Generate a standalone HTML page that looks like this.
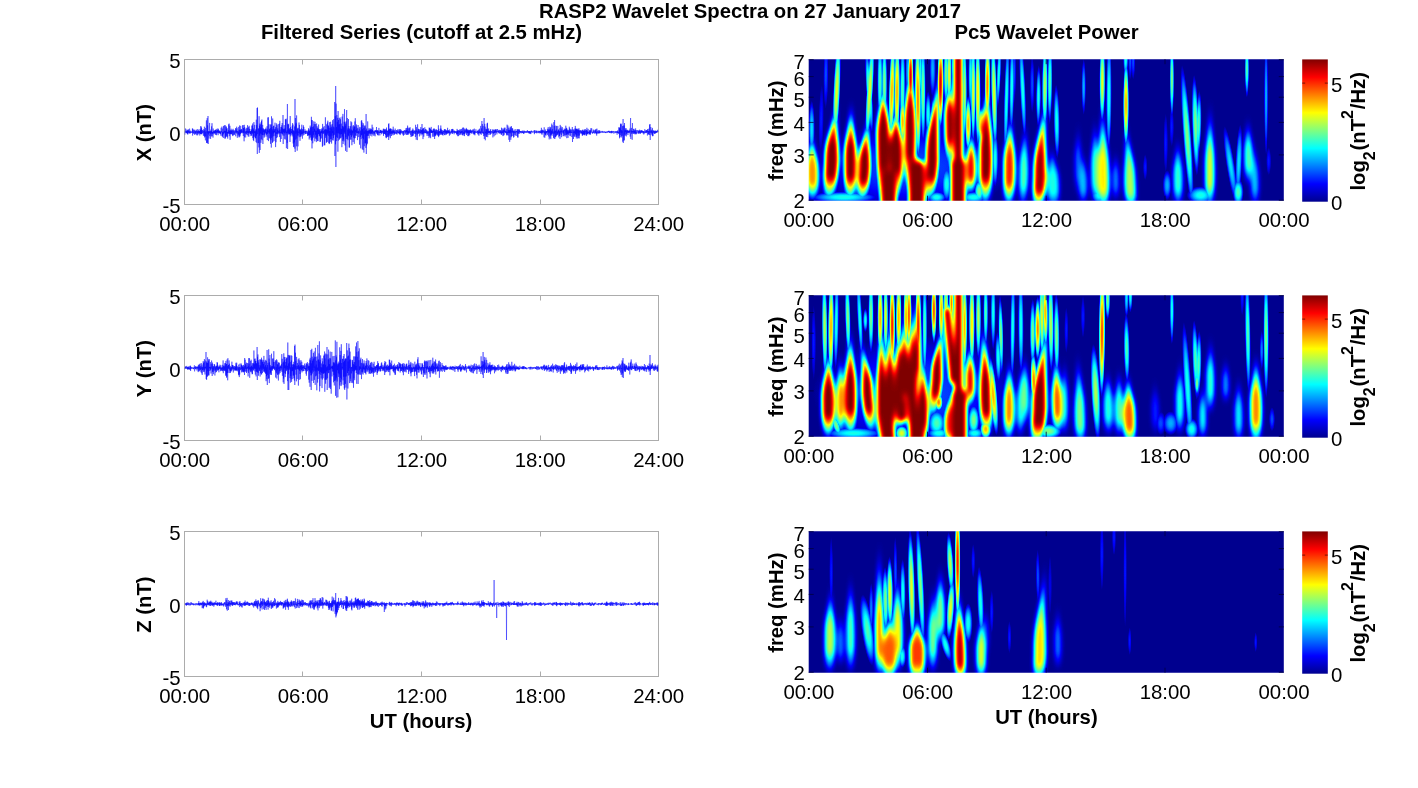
<!DOCTYPE html>
<html lang="en"><head><meta charset="utf-8"><title>RASP2 Wavelet Spectra on 27 January 2017</title>
<style>html,body{margin:0;padding:0;background:#fff}body{width:1418px;height:788px;overflow:hidden}svg{display:block}.m ellipse,.m path{mix-blend-mode:lighten}text{font-family:"Liberation Sans", Arial, Helvetica, sans-serif;fill:#000}.b{font-weight:bold}.t{font-size:20.4px}.b{font-size:20.3px}.s{font-size:16px}</style></head><body>
<svg width="1418" height="788" viewBox="0 0 1418 788">
<defs>
<filter id="bl" x="-5%" y="-20%" width="110%" height="140%" color-interpolation-filters="sRGB"><feGaussianBlur stdDeviation="2 3"/></filter>
<filter id="jet" x="0" y="0" width="100%" height="100%" color-interpolation-filters="sRGB"><feComponentTransfer><feFuncR type="table" tableValues="0 0 0 0 0.5 1 1 1 0.5"/><feFuncG type="table" tableValues="0 0 0.5 1 1 1 0.5 0 0"/><feFuncB type="table" tableValues="0.5625 1 1 1 0.5 0 0 0 0"/></feComponentTransfer></filter>
<radialGradient id="p10"><stop offset="0.000" stop-color="#1a1a1a"/><stop offset="0.083" stop-color="#191919"/><stop offset="0.167" stop-color="#191919"/><stop offset="0.250" stop-color="#181818"/><stop offset="0.333" stop-color="#171717"/><stop offset="0.417" stop-color="#151515"/><stop offset="0.500" stop-color="#131313"/><stop offset="0.583" stop-color="#111111"/><stop offset="0.667" stop-color="#0e0e0e"/><stop offset="0.750" stop-color="#0b0b0b"/><stop offset="0.833" stop-color="#080808"/><stop offset="0.917" stop-color="#040404"/><stop offset="1.000" stop-color="#000000"/></radialGradient>
<radialGradient id="p15"><stop offset="0.000" stop-color="#262626"/><stop offset="0.083" stop-color="#262626"/><stop offset="0.167" stop-color="#252525"/><stop offset="0.250" stop-color="#242424"/><stop offset="0.333" stop-color="#222222"/><stop offset="0.417" stop-color="#202020"/><stop offset="0.500" stop-color="#1d1d1d"/><stop offset="0.583" stop-color="#191919"/><stop offset="0.667" stop-color="#151515"/><stop offset="0.750" stop-color="#111111"/><stop offset="0.833" stop-color="#0c0c0c"/><stop offset="0.917" stop-color="#060606"/><stop offset="1.000" stop-color="#000000"/></radialGradient>
<radialGradient id="p20"><stop offset="0.000" stop-color="#333333"/><stop offset="0.083" stop-color="#333333"/><stop offset="0.167" stop-color="#323232"/><stop offset="0.250" stop-color="#303030"/><stop offset="0.333" stop-color="#2d2d2d"/><stop offset="0.417" stop-color="#2a2a2a"/><stop offset="0.500" stop-color="#262626"/><stop offset="0.583" stop-color="#222222"/><stop offset="0.667" stop-color="#1c1c1c"/><stop offset="0.750" stop-color="#161616"/><stop offset="0.833" stop-color="#101010"/><stop offset="0.917" stop-color="#080808"/><stop offset="1.000" stop-color="#000000"/></radialGradient>
<radialGradient id="p25"><stop offset="0.000" stop-color="#404040"/><stop offset="0.083" stop-color="#3f3f3f"/><stop offset="0.167" stop-color="#3e3e3e"/><stop offset="0.250" stop-color="#3c3c3c"/><stop offset="0.333" stop-color="#393939"/><stop offset="0.417" stop-color="#353535"/><stop offset="0.500" stop-color="#303030"/><stop offset="0.583" stop-color="#2a2a2a"/><stop offset="0.667" stop-color="#232323"/><stop offset="0.750" stop-color="#1c1c1c"/><stop offset="0.833" stop-color="#131313"/><stop offset="0.917" stop-color="#0a0a0a"/><stop offset="1.000" stop-color="#000000"/></radialGradient>
<radialGradient id="p30"><stop offset="0.000" stop-color="#4c4c4c"/><stop offset="0.083" stop-color="#4c4c4c"/><stop offset="0.167" stop-color="#4a4a4a"/><stop offset="0.250" stop-color="#484848"/><stop offset="0.333" stop-color="#444444"/><stop offset="0.417" stop-color="#3f3f3f"/><stop offset="0.500" stop-color="#393939"/><stop offset="0.583" stop-color="#323232"/><stop offset="0.667" stop-color="#2a2a2a"/><stop offset="0.750" stop-color="#212121"/><stop offset="0.833" stop-color="#171717"/><stop offset="0.917" stop-color="#0c0c0c"/><stop offset="1.000" stop-color="#000000"/></radialGradient>
<radialGradient id="p35"><stop offset="0.000" stop-color="#595959"/><stop offset="0.083" stop-color="#595959"/><stop offset="0.167" stop-color="#575757"/><stop offset="0.250" stop-color="#545454"/><stop offset="0.333" stop-color="#4f4f4f"/><stop offset="0.417" stop-color="#4a4a4a"/><stop offset="0.500" stop-color="#434343"/><stop offset="0.583" stop-color="#3b3b3b"/><stop offset="0.667" stop-color="#323232"/><stop offset="0.750" stop-color="#272727"/><stop offset="0.833" stop-color="#1b1b1b"/><stop offset="0.917" stop-color="#0e0e0e"/><stop offset="1.000" stop-color="#000000"/></radialGradient>
<radialGradient id="p40"><stop offset="0.000" stop-color="#666666"/><stop offset="0.083" stop-color="#656565"/><stop offset="0.167" stop-color="#636363"/><stop offset="0.250" stop-color="#606060"/><stop offset="0.333" stop-color="#5b5b5b"/><stop offset="0.417" stop-color="#545454"/><stop offset="0.500" stop-color="#4d4d4d"/><stop offset="0.583" stop-color="#434343"/><stop offset="0.667" stop-color="#393939"/><stop offset="0.750" stop-color="#2d2d2d"/><stop offset="0.833" stop-color="#1f1f1f"/><stop offset="0.917" stop-color="#101010"/><stop offset="1.000" stop-color="#000000"/></radialGradient>
<radialGradient id="p45"><stop offset="0.000" stop-color="#737373"/><stop offset="0.083" stop-color="#727272"/><stop offset="0.167" stop-color="#707070"/><stop offset="0.250" stop-color="#6c6c6c"/><stop offset="0.333" stop-color="#666666"/><stop offset="0.417" stop-color="#5f5f5f"/><stop offset="0.500" stop-color="#565656"/><stop offset="0.583" stop-color="#4c4c4c"/><stop offset="0.667" stop-color="#404040"/><stop offset="0.750" stop-color="#323232"/><stop offset="0.833" stop-color="#232323"/><stop offset="0.917" stop-color="#121212"/><stop offset="1.000" stop-color="#000000"/></radialGradient>
<radialGradient id="p50"><stop offset="0.000" stop-color="#808080"/><stop offset="0.083" stop-color="#7f7f7f"/><stop offset="0.167" stop-color="#7c7c7c"/><stop offset="0.250" stop-color="#787878"/><stop offset="0.333" stop-color="#717171"/><stop offset="0.417" stop-color="#696969"/><stop offset="0.500" stop-color="#606060"/><stop offset="0.583" stop-color="#545454"/><stop offset="0.667" stop-color="#474747"/><stop offset="0.750" stop-color="#383838"/><stop offset="0.833" stop-color="#272727"/><stop offset="0.917" stop-color="#141414"/><stop offset="1.000" stop-color="#000000"/></radialGradient>
<radialGradient id="p55"><stop offset="0.000" stop-color="#8c8c8c"/><stop offset="0.083" stop-color="#8b8b8b"/><stop offset="0.167" stop-color="#888888"/><stop offset="0.250" stop-color="#838383"/><stop offset="0.333" stop-color="#7d7d7d"/><stop offset="0.417" stop-color="#747474"/><stop offset="0.500" stop-color="#696969"/><stop offset="0.583" stop-color="#5d5d5d"/><stop offset="0.667" stop-color="#4e4e4e"/><stop offset="0.750" stop-color="#3d3d3d"/><stop offset="0.833" stop-color="#2b2b2b"/><stop offset="0.917" stop-color="#161616"/><stop offset="1.000" stop-color="#000000"/></radialGradient>
<radialGradient id="p60"><stop offset="0.000" stop-color="#999999"/><stop offset="0.083" stop-color="#989898"/><stop offset="0.167" stop-color="#959595"/><stop offset="0.250" stop-color="#8f8f8f"/><stop offset="0.333" stop-color="#888888"/><stop offset="0.417" stop-color="#7e7e7e"/><stop offset="0.500" stop-color="#737373"/><stop offset="0.583" stop-color="#656565"/><stop offset="0.667" stop-color="#555555"/><stop offset="0.750" stop-color="#434343"/><stop offset="0.833" stop-color="#2f2f2f"/><stop offset="0.917" stop-color="#181818"/><stop offset="1.000" stop-color="#000000"/></radialGradient>
<radialGradient id="p65"><stop offset="0.000" stop-color="#a6a6a6"/><stop offset="0.083" stop-color="#a5a5a5"/><stop offset="0.167" stop-color="#a1a1a1"/><stop offset="0.250" stop-color="#9b9b9b"/><stop offset="0.333" stop-color="#939393"/><stop offset="0.417" stop-color="#898989"/><stop offset="0.500" stop-color="#7c7c7c"/><stop offset="0.583" stop-color="#6d6d6d"/><stop offset="0.667" stop-color="#5c5c5c"/><stop offset="0.750" stop-color="#494949"/><stop offset="0.833" stop-color="#333333"/><stop offset="0.917" stop-color="#1a1a1a"/><stop offset="1.000" stop-color="#000000"/></radialGradient>
<radialGradient id="p70"><stop offset="0.000" stop-color="#b2b2b2"/><stop offset="0.083" stop-color="#b1b1b1"/><stop offset="0.167" stop-color="#aeaeae"/><stop offset="0.250" stop-color="#a7a7a7"/><stop offset="0.333" stop-color="#9f9f9f"/><stop offset="0.417" stop-color="#949494"/><stop offset="0.500" stop-color="#868686"/><stop offset="0.583" stop-color="#767676"/><stop offset="0.667" stop-color="#636363"/><stop offset="0.750" stop-color="#4e4e4e"/><stop offset="0.833" stop-color="#373737"/><stop offset="0.917" stop-color="#1d1d1d"/><stop offset="1.000" stop-color="#000000"/></radialGradient>
<radialGradient id="p75"><stop offset="0.000" stop-color="#bfbfbf"/><stop offset="0.083" stop-color="#bebebe"/><stop offset="0.167" stop-color="#bababa"/><stop offset="0.250" stop-color="#b3b3b3"/><stop offset="0.333" stop-color="#aaaaaa"/><stop offset="0.417" stop-color="#9e9e9e"/><stop offset="0.500" stop-color="#8f8f8f"/><stop offset="0.583" stop-color="#7e7e7e"/><stop offset="0.667" stop-color="#6a6a6a"/><stop offset="0.750" stop-color="#545454"/><stop offset="0.833" stop-color="#3a3a3a"/><stop offset="0.917" stop-color="#1f1f1f"/><stop offset="1.000" stop-color="#000000"/></radialGradient>
<radialGradient id="p80"><stop offset="0.000" stop-color="#cccccc"/><stop offset="0.083" stop-color="#cbcbcb"/><stop offset="0.167" stop-color="#c6c6c6"/><stop offset="0.250" stop-color="#bfbfbf"/><stop offset="0.333" stop-color="#b5b5b5"/><stop offset="0.417" stop-color="#a9a9a9"/><stop offset="0.500" stop-color="#999999"/><stop offset="0.583" stop-color="#878787"/><stop offset="0.667" stop-color="#717171"/><stop offset="0.750" stop-color="#595959"/><stop offset="0.833" stop-color="#3e3e3e"/><stop offset="0.917" stop-color="#212121"/><stop offset="1.000" stop-color="#000000"/></radialGradient>
<radialGradient id="p85"><stop offset="0.000" stop-color="#d9d9d9"/><stop offset="0.083" stop-color="#d7d7d7"/><stop offset="0.167" stop-color="#d3d3d3"/><stop offset="0.250" stop-color="#cbcbcb"/><stop offset="0.333" stop-color="#c1c1c1"/><stop offset="0.417" stop-color="#b3b3b3"/><stop offset="0.500" stop-color="#a3a3a3"/><stop offset="0.583" stop-color="#8f8f8f"/><stop offset="0.667" stop-color="#787878"/><stop offset="0.750" stop-color="#5f5f5f"/><stop offset="0.833" stop-color="#424242"/><stop offset="0.917" stop-color="#232323"/><stop offset="1.000" stop-color="#000000"/></radialGradient>
<radialGradient id="p90"><stop offset="0.000" stop-color="#e6e6e6"/><stop offset="0.083" stop-color="#e4e4e4"/><stop offset="0.167" stop-color="#dfdfdf"/><stop offset="0.250" stop-color="#d7d7d7"/><stop offset="0.333" stop-color="#cccccc"/><stop offset="0.417" stop-color="#bebebe"/><stop offset="0.500" stop-color="#acacac"/><stop offset="0.583" stop-color="#979797"/><stop offset="0.667" stop-color="#808080"/><stop offset="0.750" stop-color="#646464"/><stop offset="0.833" stop-color="#464646"/><stop offset="0.917" stop-color="#252525"/><stop offset="1.000" stop-color="#000000"/></radialGradient>
<linearGradient id="cb" x1="0" y1="1" x2="0" y2="0"><stop offset="0" stop-color="#00008f"/><stop offset="0.125" stop-color="#0000ff"/><stop offset="0.375" stop-color="#00ffff"/><stop offset="0.625" stop-color="#ffff00"/><stop offset="0.875" stop-color="#ff0000"/><stop offset="1" stop-color="#800000"/></linearGradient>
<clipPath id="c0"><rect x="808.7" y="59.2" width="475.1" height="141.5"/></clipPath>
<clipPath id="c1"><rect x="808.7" y="295.2" width="475.1" height="141.5"/></clipPath>
<clipPath id="c2"><rect x="808.7" y="531.2" width="475.1" height="141.5"/></clipPath>
</defs>
<text class="b t" x="750" y="17.8" text-anchor="middle">RASP2 Wavelet Spectra on 27 January 2017</text>
<text class="b t" x="421.5" y="39.4" text-anchor="middle">Filtered Series (cutoff at 2.5 mHz)</text>
<text class="b t" x="1046.6" y="39.4" text-anchor="middle">Pc5 Wavelet Power</text>
<g stroke="#acacac" stroke-width="1" fill="none">
<rect x="184.5" y="59.5" width="474.0" height="145.0"/>
<path d="M302.5,204.5v-5M302.5,59.5v5M421.5,204.5v-5M421.5,59.5v5M540.5,204.5v-5M540.5,59.5v5M184.5,132.0h5M658.5,132.0h-5"/>
</g>
<path d="M185.0,134.7 185.2,131.7 185.4,132.2 185.6,128.5 185.8,132.3 186.0,131.9 186.2,132.7 186.4,131.1 186.6,133.0 186.8,129.6 187.0,133.4 187.2,131.1 187.4,134.0 187.6,130.3 187.8,134.6 188.0,129.8 188.2,132.9 188.4,129.4 188.6,131.9 188.8,131.2 189.0,133.6 189.2,131.3 189.4,133.1 189.6,128.6 189.8,133.1 190.0,131.8 190.2,133.6 190.4,130.7 190.6,132.5 190.8,131.7 191.0,132.4 191.2,132.0 191.4,132.7 191.6,131.5 191.8,132.2 192.0,131.7 192.2,132.6 192.4,128.4 192.6,135.6 192.8,128.8 193.0,132.8 193.2,129.6 193.4,132.9 193.6,132.1 193.8,134.0 194.0,130.1 194.2,132.0 194.4,131.7 194.6,134.8 194.8,129.6 195.0,132.9 195.2,131.1 195.4,134.0 195.6,130.8 195.8,133.1 196.0,132.1 196.2,134.7 196.4,130.2 196.6,132.3 196.8,131.2 197.0,135.4 197.2,129.0 197.4,133.4 197.6,131.7 197.8,135.2 198.0,130.9 198.2,132.6 198.4,129.6 198.6,133.8 198.8,131.1 199.0,133.0 199.2,131.1 199.4,133.4 199.6,131.2 199.8,135.5 200.0,129.1 200.2,133.4 200.4,130.0 200.6,134.0 200.8,126.0 201.0,134.2 201.2,126.8 201.4,134.1 201.6,128.1 201.8,134.2 202.0,130.4 202.2,132.5 202.4,129.9 202.6,133.2 202.8,132.5 203.0,133.1 203.2,131.2 203.4,135.8 203.6,129.3 203.8,131.8 204.0,131.1 204.2,135.7 204.4,126.7 204.6,137.4 204.8,129.7 205.0,136.4 205.2,131.9 205.4,140.4 205.6,127.9 205.8,136.4 206.0,131.5 206.2,132.1 206.4,120.4 206.6,143.0 206.8,131.7 207.0,142.5 207.2,118.1 207.4,143.2 207.6,125.4 207.8,133.4 208.0,116.0 208.2,144.0 208.4,131.7 208.6,134.5 208.8,131.0 209.0,138.6 209.2,131.1 209.4,133.0 209.6,122.9 209.8,136.1 210.0,132.3 210.2,133.3 210.4,131.0 210.6,138.9 210.8,129.6 211.0,134.3 211.2,131.0 211.4,136.4 211.6,126.4 211.8,133.1 212.0,123.2 212.2,136.2 212.4,132.1 212.6,133.9 212.8,131.8 213.0,137.6 213.2,128.5 213.4,132.9 213.6,131.3 213.8,134.3 214.0,130.6 214.2,133.0 214.4,131.4 214.6,133.0 214.7,130.6 214.9,134.1 215.1,130.2 215.3,132.9 215.5,129.7 215.7,135.0 215.9,129.9 216.1,133.4 216.3,130.8 216.5,135.2 216.7,128.9 216.9,132.4 217.1,130.9 217.3,132.3 217.5,130.0 217.7,133.3 217.9,128.4 218.1,135.2 218.3,129.1 218.5,132.6 218.7,130.4 218.9,133.1 219.1,130.5 219.3,133.0 219.5,131.2 219.7,133.6 219.9,130.8 220.1,133.2 220.3,131.7 220.5,134.1 220.7,131.5 220.9,135.7 221.1,127.8 221.3,132.4 221.5,131.5 221.7,132.2 221.9,126.6 222.1,136.3 222.3,131.8 222.5,136.7 222.7,128.6 222.9,134.7 223.1,132.1 223.3,138.0 223.5,126.1 223.7,133.8 223.9,131.4 224.1,133.1 224.3,125.4 224.5,132.4 224.7,130.8 224.9,138.6 225.1,125.0 225.3,138.4 225.5,130.9 225.7,137.2 225.9,126.4 226.1,135.5 226.3,126.7 226.5,136.5 226.7,128.8 226.9,133.3 227.1,128.2 227.3,136.8 227.5,131.9 227.7,138.6 227.9,131.9 228.1,133.6 228.3,130.2 228.5,133.0 228.7,124.4 228.9,134.0 229.1,123.6 229.3,136.2 229.5,130.9 229.7,133.6 229.9,125.8 230.1,139.8 230.3,130.4 230.5,134.2 230.7,130.5 230.9,133.8 231.1,128.7 231.3,134.2 231.5,130.8 231.7,134.2 231.9,130.2 232.1,132.4 232.3,129.8 232.5,135.4 232.7,131.4 232.9,136.1 233.1,128.8 233.3,132.2 233.5,131.5 233.7,135.1 233.9,130.0 234.1,134.5 234.3,130.7 234.5,134.6 234.7,132.1 234.9,132.1 235.1,131.4 235.3,132.7 235.5,128.1 235.7,136.3 235.9,129.3 236.1,132.4 236.3,130.7 236.5,132.7 236.7,126.7 236.9,133.8 237.1,128.2 237.3,137.8 237.5,130.9 237.7,132.3 237.9,131.6 238.1,135.6 238.3,131.6 238.5,134.4 238.7,126.9 238.9,137.3 239.1,129.7 239.3,135.6 239.5,125.5 239.7,137.2 239.9,129.9 240.1,135.7 240.3,130.0 240.5,133.9 240.7,125.8 240.9,133.1 241.1,129.0 241.3,132.9 241.5,129.3 241.7,132.2 241.9,130.2 242.1,133.4 242.3,131.7 242.5,132.1 242.7,125.3 242.9,132.9 243.1,125.1 243.3,136.0 243.5,128.1 243.7,133.0 243.9,128.1 244.1,141.3 244.3,124.8 244.5,137.3 244.7,127.2 244.9,132.1 245.1,131.6 245.3,133.3 245.5,131.6 245.7,137.5 245.9,128.7 246.1,134.3 246.3,130.9 246.5,134.4 246.7,127.8 246.9,132.7 247.1,131.2 247.3,132.9 247.5,125.2 247.7,135.0 247.9,128.1 248.1,136.4 248.3,131.3 248.5,133.2 248.7,126.9 248.9,136.7 249.1,125.8 249.3,132.3 249.5,128.9 249.7,133.2 249.9,131.3 250.1,134.2 250.3,131.1 250.5,133.9 250.7,131.3 250.9,136.1 251.1,129.1 251.3,134.6 251.5,130.3 251.7,135.7 251.9,125.6 252.1,133.0 252.3,125.5 252.5,133.7 252.7,123.5 252.9,138.1 253.1,128.2 253.3,140.0 253.5,129.5 253.7,141.1 253.9,122.1 254.1,136.4 254.3,131.0 254.5,133.0 254.7,124.9 254.9,137.2 255.1,131.8 255.3,138.4 255.5,130.6 255.7,138.0 255.9,129.2 256.1,142.1 256.3,119.7 256.5,135.7 256.7,125.2 256.9,143.1 257.1,108.0 257.3,154.0 257.5,107.5 257.7,134.1 257.9,131.9 258.1,132.0 258.3,128.8 258.5,143.1 258.7,128.3 258.9,147.4 259.1,116.2 259.3,152.9 259.5,125.8 259.7,135.6 259.9,123.6 260.1,150.0 260.3,124.5 260.5,133.5 260.7,127.4 260.9,142.8 261.1,122.3 261.3,139.2 261.5,120.8 261.7,134.4 261.9,119.5 262.1,140.2 262.3,128.4 262.5,135.0 262.7,124.9 262.9,144.0 263.1,130.2 263.3,135.2 263.5,128.4 263.7,132.2 263.9,129.1 264.1,137.7 264.3,130.3 264.5,134.6 264.7,129.6 264.9,136.7 265.1,129.5 265.3,132.5 265.5,129.0 265.7,133.3 265.9,127.7 266.1,134.5 266.3,131.9 266.5,134.6 266.7,129.3 266.9,136.6 267.1,126.2 267.3,140.1 267.5,129.6 267.7,134.0 267.9,117.6 268.1,132.6 268.3,117.2 268.5,141.1 268.7,130.6 268.9,132.3 269.1,124.3 269.3,137.9 269.5,128.9 269.7,133.7 269.9,129.5 270.1,138.8 270.3,128.0 270.5,143.8 270.7,124.6 270.9,140.2 271.1,124.3 271.3,147.6 271.5,116.3 271.7,138.1 271.9,126.9 272.1,136.6 272.3,129.4 272.5,142.9 272.7,118.5 272.9,142.0 273.1,130.7 273.3,133.5 273.5,126.1 273.7,136.2 273.8,125.6 274.0,141.1 274.2,129.0 274.4,132.3 274.6,130.5 274.8,132.6 275.0,122.7 275.2,135.9 275.4,128.7 275.6,147.1 275.8,127.0 276.0,142.2 276.2,132.2 276.4,138.0 276.6,123.4 276.8,133.8 277.0,125.2 277.2,133.6 277.4,129.8 277.6,137.3 277.8,128.3 278.0,134.4 278.2,124.1 278.4,132.3 278.6,131.4 278.8,133.5 279.0,130.5 279.2,133.1 279.4,123.6 279.6,137.1 279.8,120.8 280.0,133.5 280.2,129.6 280.4,141.9 280.6,131.9 280.8,132.6 281.0,127.0 281.2,139.0 281.4,127.2 281.6,133.4 281.8,125.3 282.0,133.3 282.2,123.0 282.4,134.0 282.6,128.4 282.8,135.4 283.0,115.0 283.2,144.0 283.4,129.3 283.6,132.4 283.8,128.8 284.0,135.7 284.2,125.1 284.4,133.2 284.6,129.2 284.8,138.9 285.0,128.3 285.2,139.6 285.4,119.1 285.6,132.5 285.8,119.8 286.0,134.5 286.2,118.7 286.4,148.2 286.6,131.7 286.8,133.0 287.0,130.2 287.2,142.9 287.4,104.0 287.6,149.0 287.8,123.8 288.0,132.8 288.2,124.9 288.4,133.6 288.6,123.9 288.8,134.6 289.0,129.1 289.2,134.2 289.4,129.7 289.6,134.1 289.8,128.0 290.0,142.0 290.2,116.0 290.4,134.5 290.6,127.0 290.8,136.3 291.0,129.2 291.2,133.4 291.4,131.3 291.6,132.9 291.8,128.9 292.0,135.0 292.2,125.7 292.4,134.0 292.6,123.1 292.8,136.4 293.0,124.6 293.2,143.5 293.4,130.3 293.6,147.1 293.8,130.8 294.0,146.6 294.2,131.3 294.4,142.4 294.6,126.5 294.8,148.6 295.0,99.0 295.2,152.0 295.4,118.0 295.6,139.6 295.8,124.3 296.0,133.6 296.2,122.8 296.4,146.3 296.6,115.4 296.8,138.6 297.0,130.7 297.2,150.7 297.4,129.0 297.6,135.6 297.8,127.8 298.0,146.4 298.2,128.2 298.4,132.7 298.6,131.7 298.8,135.6 299.0,122.5 299.2,137.2 299.4,124.9 299.6,133.5 299.8,129.5 300.0,140.8 300.2,129.3 300.4,136.8 300.6,129.8 300.8,135.3 301.0,130.6 301.2,136.4 301.4,128.4 301.6,134.3 301.8,124.7 302.0,134.1 302.2,131.5 302.4,138.7 302.6,129.4 302.8,133.4 303.0,129.3 303.2,135.5 303.4,125.3 303.6,133.3 303.8,126.9 304.0,134.8 304.2,131.9 304.4,132.1 304.6,131.3 304.8,132.8 305.0,129.3 305.2,134.1 305.4,130.9 305.6,133.9 305.8,131.2 306.0,132.0 306.2,130.6 306.4,133.6 306.6,131.9 306.8,132.0 307.0,130.9 307.2,133.9 307.4,132.5 307.6,136.0 307.8,131.5 308.0,135.1 308.2,130.2 308.4,135.6 308.6,128.2 308.8,135.1 309.0,129.2 309.2,139.5 309.4,130.9 309.6,135.3 309.8,130.5 310.0,138.1 310.2,125.6 310.4,134.9 310.6,127.5 310.8,136.8 311.0,127.4 311.2,140.0 311.4,116.8 311.6,140.8 311.8,120.0 312.0,148.4 312.2,120.3 312.4,139.5 312.6,127.1 312.8,143.3 313.0,131.2 313.2,137.8 313.4,126.4 313.6,134.8 313.8,121.3 314.0,136.7 314.2,124.1 314.4,131.8 314.6,128.8 314.8,141.3 315.0,121.8 315.2,138.4 315.4,124.1 315.6,134.7 315.8,130.5 316.0,138.7 316.2,130.9 316.4,142.1 316.6,123.5 316.8,139.5 317.0,126.2 317.2,137.0 317.4,127.7 317.6,141.1 317.8,129.4 318.0,141.1 318.2,128.4 318.4,134.1 318.6,124.5 318.8,134.2 319.0,129.2 319.2,135.8 319.4,129.5 319.6,136.3 319.8,130.8 320.0,141.9 320.2,129.0 320.4,141.6 320.6,131.8 320.8,138.8 321.0,130.9 321.2,138.2 321.4,130.4 321.6,133.0 321.8,128.5 322.0,133.6 322.2,128.7 322.4,146.8 322.6,123.9 322.8,145.9 323.0,131.0 323.2,133.9 323.4,127.3 323.6,133.3 323.8,131.5 324.0,132.4 324.2,126.1 324.4,145.2 324.6,129.6 324.8,145.3 325.0,129.7 325.2,134.9 325.4,117.3 325.6,137.8 325.8,129.0 326.0,136.1 326.2,129.5 326.4,142.9 326.6,124.3 326.8,141.8 327.0,130.0 327.2,141.9 327.4,122.6 327.6,134.6 327.8,120.7 328.0,133.1 328.2,125.3 328.4,135.8 328.6,125.9 328.8,143.0 329.0,127.7 329.2,144.1 329.4,122.2 329.6,143.4 329.8,131.0 330.0,136.5 330.2,127.8 330.4,139.1 330.6,121.8 330.8,141.9 331.0,124.8 331.2,139.1 331.4,126.7 331.6,143.6 331.8,128.5 332.0,135.7 332.2,124.0 332.4,133.2 332.6,120.2 332.8,140.0 332.9,130.8 333.1,140.7 333.3,126.6 333.5,138.2 333.7,119.2 333.9,135.3 334.1,127.4 334.3,134.7 334.5,131.4 334.7,102.0 334.9,156.0 335.1,138.4 335.3,116.2 335.5,144.3 335.7,86.0 335.9,167.0 336.1,103.6 336.3,141.1 336.5,127.1 336.7,137.2 336.9,115.1 337.1,133.2 337.3,121.8 337.5,137.9 337.7,117.9 337.9,151.7 338.1,111.0 338.3,140.7 338.5,120.0 338.7,132.9 338.9,124.6 339.1,134.1 339.3,118.2 339.5,139.6 339.7,124.1 339.9,138.6 340.1,117.4 340.3,138.1 340.5,119.3 340.7,134.5 340.9,128.4 341.1,137.7 341.3,123.6 341.5,134.1 341.7,129.0 341.9,147.2 342.1,116.6 342.3,136.5 342.5,126.0 342.7,140.9 342.9,113.9 343.1,144.0 343.3,126.4 343.5,139.5 343.7,127.5 343.9,141.4 344.1,121.7 344.3,132.4 344.5,109.1 344.7,133.7 344.9,122.2 345.1,145.4 345.3,125.7 345.5,150.8 345.7,123.7 345.9,137.2 346.1,121.4 346.3,139.0 346.5,117.2 346.7,110.0 346.9,152.0 347.1,139.8 347.3,118.0 347.5,138.9 347.7,129.5 347.9,140.2 348.1,128.2 348.3,135.3 348.5,119.1 348.7,136.3 348.9,126.1 349.1,147.5 349.3,128.4 349.5,147.5 349.7,129.2 349.9,133.2 350.1,130.6 350.3,139.5 350.5,126.2 350.7,135.1 350.9,121.3 351.1,139.7 351.3,129.5 351.5,136.9 351.7,122.3 351.9,145.2 352.1,130.5 352.3,135.4 352.5,130.7 352.7,133.4 352.9,126.3 353.1,142.0 353.3,125.0 353.5,137.6 353.7,128.7 353.9,132.6 354.1,126.3 354.3,143.8 354.5,126.7 354.7,138.5 354.9,121.5 355.1,138.0 355.3,118.2 355.5,135.5 355.7,130.1 355.9,132.0 356.1,126.5 356.3,135.8 356.5,124.5 356.7,133.2 356.9,128.8 357.1,132.9 357.3,131.6 357.5,140.1 357.7,127.9 357.9,132.9 358.1,125.0 358.3,137.1 358.5,130.8 358.7,133.8 358.9,131.7 359.1,132.6 359.3,128.7 359.5,144.7 359.7,126.9 359.9,133.2 360.1,132.8 360.3,137.0 360.5,130.6 360.7,148.3 360.9,127.3 361.1,139.1 361.3,120.9 361.5,135.3 361.7,120.1 361.9,134.7 362.1,122.5 362.3,149.3 362.5,129.2 362.7,138.1 362.9,125.1 363.1,150.1 363.3,123.3 363.5,139.3 363.7,128.1 363.9,152.6 364.1,131.4 364.3,146.2 364.5,125.7 364.7,133.9 364.9,127.4 365.1,143.1 365.3,125.5 365.5,143.3 365.7,130.2 365.9,147.9 366.1,114.0 366.3,154.0 366.5,128.6 366.7,145.3 366.9,130.9 367.1,136.0 367.3,130.9 367.5,143.6 367.7,121.4 367.9,135.4 368.1,130.6 368.3,135.9 368.5,130.7 368.7,133.7 368.9,128.3 369.1,138.4 369.3,129.5 369.5,132.9 369.7,130.3 369.9,134.0 370.1,128.3 370.3,135.7 370.5,129.7 370.7,133.7 370.9,129.4 371.1,133.5 371.3,128.8 371.5,133.5 371.7,130.3 371.9,136.4 372.1,124.7 372.3,134.3 372.5,130.0 372.7,132.4 372.9,127.4 373.1,134.4 373.3,130.8 373.5,133.0 373.7,132.4 373.9,135.9 374.1,131.5 374.3,134.5 374.5,131.4 374.7,133.4 374.9,130.3 375.1,136.3 375.3,130.4 375.5,131.9 375.7,130.6 375.9,131.9 376.1,130.4 376.3,132.4 376.5,127.0 376.7,133.5 376.9,130.8 377.1,133.7 377.3,130.1 377.5,135.2 377.7,130.7 377.9,134.8 378.1,130.5 378.3,132.6 378.5,131.7 378.7,135.5 378.9,127.9 379.1,132.2 379.3,131.5 379.5,133.1 379.7,131.9 379.9,135.4 380.1,130.1 380.3,133.0 380.5,130.4 380.7,133.0 380.9,129.8 381.1,132.9 381.3,130.6 381.5,134.2 381.7,131.0 381.9,132.3 382.1,131.4 382.3,132.4 382.5,130.6 382.7,132.5 382.9,131.5 383.1,133.7 383.3,128.8 383.5,135.9 383.7,128.8 383.9,134.2 384.1,130.6 384.3,133.9 384.5,129.6 384.7,133.6 384.9,128.9 385.1,133.8 385.3,130.8 385.5,134.9 385.7,129.6 385.9,137.4 386.1,129.3 386.3,138.2 386.5,127.6 386.7,137.3 386.9,130.9 387.1,132.0 387.3,130.8 387.5,136.8 387.7,131.1 387.9,135.4 388.1,129.9 388.3,136.8 388.5,124.1 388.7,140.0 388.9,123.3 389.1,135.2 389.3,129.4 389.5,133.5 389.7,128.6 389.9,136.4 390.1,129.1 390.3,138.2 390.5,128.5 390.7,134.0 390.9,128.6 391.1,132.9 391.3,129.2 391.5,136.0 391.7,131.3 391.9,133.7 392.0,131.3 392.2,134.3 392.4,130.6 392.6,132.8 392.8,129.4 393.0,135.3 393.2,126.7 393.4,133.4 393.6,130.9 393.8,132.9 394.0,129.9 394.2,134.9 394.4,130.6 394.6,134.2 394.8,132.0 395.0,133.4 395.2,128.6 395.4,132.4 395.6,131.9 395.8,133.9 396.0,130.3 396.2,132.3 396.4,132.0 396.6,133.9 396.8,130.0 397.0,134.6 397.2,130.4 397.4,132.4 397.6,131.5 397.8,132.7 398.0,129.0 398.2,133.4 398.4,132.2 398.6,132.9 398.8,130.3 399.0,133.3 399.2,131.6 399.4,134.0 399.6,129.1 399.8,134.3 400.0,130.8 400.2,135.1 400.4,129.2 400.6,133.2 400.8,130.8 401.0,133.8 401.2,129.8 401.4,132.8 401.6,131.8 401.8,132.2 402.0,131.0 402.2,132.0 402.4,131.8 402.6,133.6 402.8,130.9 403.0,134.8 403.2,131.3 403.4,135.8 403.6,131.4 403.8,132.7 404.0,130.5 404.2,134.9 404.4,131.8 404.6,132.0 404.8,130.0 405.0,131.7 405.2,130.4 405.4,133.8 405.6,131.1 405.8,132.7 406.0,128.2 406.2,135.0 406.4,129.9 406.6,132.1 406.8,127.9 407.0,134.7 407.2,130.6 407.4,134.6 407.6,125.6 407.8,133.4 408.0,127.6 408.2,134.8 408.4,131.2 408.6,133.1 408.8,128.4 409.0,134.1 409.2,131.5 409.4,132.7 409.6,128.1 409.8,132.7 410.0,127.1 410.2,131.9 410.4,131.3 410.6,134.8 410.8,131.4 411.0,137.0 411.2,131.3 411.4,132.3 411.6,131.3 411.8,136.3 412.0,129.9 412.2,136.3 412.4,130.6 412.6,135.9 412.8,128.5 413.0,132.8 413.2,129.7 413.4,135.6 413.6,131.9 413.8,132.9 414.0,130.7 414.2,134.0 414.4,131.4 414.6,131.7 414.8,130.6 415.0,133.4 415.2,130.4 415.4,137.0 415.6,124.8 415.8,133.9 416.0,131.1 416.2,139.7 416.4,127.1 416.6,132.0 416.8,129.6 417.0,135.4 417.2,131.5 417.4,140.1 417.6,124.3 417.8,133.8 418.0,131.2 418.2,132.8 418.4,128.8 418.6,133.8 418.8,129.2 419.0,132.3 419.2,129.3 419.4,136.4 419.6,130.6 419.8,133.2 420.0,132.0 420.2,132.7 420.4,129.5 420.6,133.6 420.8,127.1 421.0,135.4 421.2,130.4 421.4,132.5 421.6,130.1 421.8,134.1 422.0,124.0 422.2,133.6 422.4,129.5 422.6,134.5 422.8,128.8 423.0,139.1 423.2,128.1 423.4,133.4 423.6,128.3 423.8,136.7 424.0,131.5 424.2,133.3 424.4,130.3 424.6,132.5 424.8,127.3 425.0,132.8 425.2,131.8 425.4,132.9 425.6,129.1 425.8,133.3 426.0,129.4 426.2,132.6 426.4,131.6 426.6,133.6 426.8,130.1 427.0,135.8 427.2,130.9 427.4,133.2 427.6,132.2 427.8,134.2 428.0,131.4 428.2,136.0 428.4,131.7 428.6,132.4 428.8,131.4 429.0,138.1 429.2,127.5 429.4,135.5 429.6,128.0 429.8,136.8 430.0,128.4 430.2,132.6 430.4,128.9 430.6,138.2 430.8,129.9 431.0,132.8 431.2,126.9 431.4,132.8 431.6,130.2 431.8,132.9 432.0,130.8 432.2,133.0 432.4,130.8 432.6,136.7 432.8,130.7 433.0,132.4 433.2,129.1 433.4,132.3 433.6,128.6 433.8,136.9 434.0,130.8 434.2,135.8 434.4,128.6 434.6,139.0 434.8,129.5 435.0,134.8 435.2,130.9 435.4,136.2 435.6,129.7 435.8,135.5 436.0,132.1 436.2,134.7 436.4,129.3 436.6,133.6 436.8,130.0 437.0,132.3 437.2,131.9 437.4,134.6 437.6,130.2 437.8,135.3 438.0,131.7 438.2,136.0 438.4,125.3 438.6,137.1 438.8,128.8 439.0,135.9 439.2,131.0 439.4,132.9 439.6,131.5 439.8,135.0 440.0,130.9 440.2,134.1 440.4,128.7 440.6,133.0 440.8,125.5 441.0,134.9 441.2,128.7 441.4,134.1 441.6,130.0 441.8,133.0 442.0,131.8 442.2,134.8 442.4,130.3 442.6,134.8 442.8,131.9 443.0,135.6 443.2,130.8 443.4,133.9 443.6,130.9 443.8,131.9 444.0,130.6 444.2,132.3 444.4,129.2 444.6,135.0 444.8,129.3 445.0,135.2 445.2,131.3 445.4,132.7 445.6,129.4 445.8,133.8 446.0,130.1 446.2,134.9 446.4,130.6 446.6,133.5 446.8,130.9 447.0,133.8 447.2,130.8 447.4,132.6 447.6,127.8 447.8,133.6 448.0,130.6 448.2,133.2 448.4,130.0 448.6,133.1 448.8,131.3 449.0,132.5 449.2,131.1 449.4,135.7 449.6,129.5 449.8,133.2 450.0,132.1 450.2,134.6 450.4,131.9 450.6,131.9 450.8,131.5 451.0,133.6 451.1,130.7 451.3,132.8 451.5,129.2 451.7,131.9 451.9,131.0 452.1,133.3 452.3,129.1 452.5,133.9 452.7,128.9 452.9,131.7 453.1,129.5 453.3,132.9 453.5,131.3 453.7,131.8 453.9,131.4 454.1,134.3 454.3,130.7 454.5,132.8 454.7,130.8 454.9,132.4 455.1,131.6 455.3,133.1 455.5,131.6 455.7,132.4 455.9,131.3 456.1,132.6 456.3,131.3 456.5,134.0 456.7,131.6 456.9,135.1 457.1,128.9 457.3,133.9 457.5,130.8 457.7,136.2 457.9,130.4 458.1,134.2 458.3,130.1 458.5,136.1 458.7,131.6 458.9,132.5 459.1,130.4 459.3,132.1 459.5,131.2 459.7,135.2 459.9,129.4 460.1,134.7 460.3,129.4 460.5,133.1 460.7,131.9 460.9,134.3 461.1,131.0 461.3,133.3 461.5,128.9 461.7,132.7 461.9,130.6 462.1,135.1 462.3,131.4 462.5,135.3 462.7,128.1 462.9,132.3 463.1,127.3 463.3,133.8 463.5,132.2 463.7,135.5 463.9,127.9 464.1,133.9 464.3,130.4 464.5,136.1 464.7,129.1 464.9,134.1 465.1,131.8 465.3,132.5 465.5,130.3 465.7,132.4 465.9,129.1 466.1,132.3 466.3,127.9 466.5,134.9 466.7,129.2 466.9,133.1 467.1,129.3 467.3,133.3 467.5,130.4 467.7,136.1 467.9,129.8 468.1,133.0 468.3,131.0 468.5,135.6 468.7,129.8 468.9,136.2 469.1,130.1 469.3,133.4 469.5,130.3 469.7,134.9 469.9,131.1 470.1,132.7 470.3,129.4 470.5,133.1 470.7,129.9 470.9,132.4 471.1,130.6 471.3,132.9 471.5,130.6 471.7,133.7 471.9,131.4 472.1,132.2 472.3,130.6 472.5,131.8 472.7,129.5 472.9,133.4 473.1,132.2 473.3,132.7 473.5,129.5 473.7,134.2 473.9,131.3 474.1,134.6 474.3,128.6 474.5,134.0 474.7,131.1 474.9,135.3 475.1,131.1 475.3,133.1 475.5,132.0 475.7,132.2 475.9,129.3 476.1,132.0 476.3,131.8 476.5,133.0 476.7,131.9 476.9,132.2 477.1,131.4 477.3,132.4 477.5,130.7 477.7,133.7 477.9,131.0 478.1,134.6 478.3,129.8 478.5,133.2 478.7,131.8 478.9,135.7 479.1,129.6 479.3,132.8 479.5,128.7 479.7,133.0 479.9,131.5 480.1,134.2 480.3,131.4 480.5,133.3 480.7,125.9 480.9,133.3 481.1,132.1 481.3,134.8 481.5,128.4 481.7,132.1 481.9,121.0 482.1,133.1 482.3,124.0 482.5,132.8 482.7,132.4 482.9,133.5 483.1,125.9 483.3,133.7 483.5,131.7 483.7,136.1 483.9,125.8 484.1,118.0 484.3,139.0 484.5,134.8 484.7,123.8 484.9,135.4 485.1,126.7 485.3,140.3 485.5,131.7 485.7,133.0 485.9,128.7 486.1,136.4 486.3,129.4 486.5,137.0 486.7,129.4 486.9,134.4 487.1,123.5 487.3,134.3 487.5,122.8 487.7,137.2 487.9,129.2 488.1,132.6 488.3,131.0 488.5,133.0 488.7,128.4 488.9,134.9 489.1,131.4 489.3,133.1 489.5,131.1 489.7,132.8 489.9,130.9 490.1,134.7 490.3,130.3 490.5,134.4 490.7,129.0 490.9,132.4 491.1,131.6 491.3,133.7 491.5,131.6 491.7,132.0 491.9,131.0 492.1,132.7 492.3,132.1 492.5,132.6 492.7,129.4 492.9,137.4 493.1,129.9 493.3,133.8 493.5,131.9 493.7,133.1 493.9,129.6 494.1,136.3 494.3,130.7 494.5,132.8 494.7,130.5 494.9,132.9 495.1,129.4 495.3,135.2 495.5,129.5 495.7,132.2 495.9,130.3 496.1,132.8 496.3,129.2 496.5,132.4 496.7,131.4 496.9,134.4 497.1,131.1 497.3,131.8 497.5,129.0 497.7,132.0 497.9,131.8 498.1,132.6 498.3,130.9 498.5,132.3 498.7,130.4 498.9,133.3 499.1,129.8 499.3,132.2 499.5,131.8 499.7,133.6 499.9,130.1 500.1,133.2 500.3,131.2 500.5,133.0 500.7,130.1 500.9,133.7 501.1,130.9 501.3,135.0 501.5,127.7 501.7,134.3 501.9,131.8 502.1,133.0 502.3,128.5 502.5,132.9 502.7,130.6 502.9,136.1 503.1,130.3 503.3,132.9 503.5,129.7 503.7,135.5 503.9,128.5 504.1,134.8 504.3,127.7 504.5,132.0 504.7,129.7 504.9,132.6 505.1,127.7 505.3,132.4 505.5,130.9 505.7,132.9 505.9,131.4 506.1,133.3 506.3,131.6 506.5,135.3 506.7,129.2 506.9,134.4 507.1,124.7 507.3,132.9 507.5,131.8 507.7,135.1 507.9,125.6 508.1,135.6 508.3,129.8 508.5,132.9 508.7,127.7 508.9,139.8 509.1,130.3 509.3,132.9 509.5,130.2 509.7,141.9 509.9,128.5 510.1,133.5 510.2,126.7 510.4,132.6 510.6,130.1 510.8,139.8 511.0,127.4 511.2,137.2 511.4,126.1 511.6,136.1 511.8,131.2 512.0,132.2 512.2,128.8 512.4,132.5 512.6,128.1 512.8,136.1 513.0,130.9 513.2,132.9 513.4,130.7 513.6,137.6 513.8,131.3 514.0,136.8 514.2,129.5 514.4,132.6 514.6,131.6 514.8,134.8 515.0,131.0 515.2,132.9 515.4,131.7 515.6,135.6 515.8,129.2 516.0,132.0 516.2,131.7 516.4,132.2 516.6,130.9 516.8,136.0 517.0,131.2 517.2,132.5 517.4,129.1 517.6,137.3 517.8,129.7 518.0,137.6 518.2,132.2 518.4,133.7 518.6,129.2 518.8,132.8 519.0,129.9 519.2,134.0 519.4,129.4 519.6,132.1 519.8,131.0 520.0,132.6 520.2,131.3 520.4,132.0 520.6,131.3 520.8,133.1 521.0,131.1 521.2,133.3 521.4,130.9 521.6,132.2 521.8,131.9 522.0,132.5 522.2,132.2 522.4,132.9 522.6,130.8 522.8,133.0 523.0,130.6 523.2,133.3 523.4,131.5 523.6,133.9 523.8,132.0 524.0,131.9 524.2,130.6 524.4,133.3 524.6,131.3 524.8,132.4 525.0,131.1 525.2,131.6 525.4,131.9 525.6,132.5 525.8,131.3 526.0,132.9 526.2,131.2 526.4,132.5 526.6,131.7 526.8,132.3 527.0,131.3 527.2,131.7 527.4,130.1 527.6,132.5 527.8,131.2 528.0,132.7 528.2,131.7 528.4,132.4 528.6,131.1 528.8,133.1 529.0,131.3 529.2,133.7 529.4,131.0 529.6,133.0 529.8,131.5 530.0,133.7 530.2,131.5 530.4,133.3 530.6,131.5 530.8,134.1 531.0,130.9 531.2,131.7 531.4,130.6 531.6,132.2 531.8,131.4 532.0,132.5 532.2,131.5 532.4,132.3 532.6,131.8 532.8,132.3 533.0,131.6 533.2,131.8 533.4,132.3 533.6,132.2 533.8,130.6 534.0,131.8 534.2,131.8 534.4,134.2 534.6,130.4 534.8,133.1 535.0,130.1 535.2,132.3 535.4,132.0 535.6,132.7 535.8,131.2 536.0,131.5 536.2,131.2 536.4,132.8 536.6,130.6 536.8,133.4 537.0,130.9 537.2,132.2 537.4,132.0 537.6,132.6 537.8,132.0 538.0,132.0 538.2,130.8 538.4,132.8 538.6,131.5 538.8,132.4 539.0,131.4 539.2,133.4 539.4,130.9 539.6,132.6 539.8,131.6 540.0,132.1 540.2,130.9 540.4,132.9 540.6,131.6 540.8,133.0 541.0,130.0 541.2,133.8 541.4,127.8 541.6,132.8 541.8,131.1 542.0,134.8 542.2,130.3 542.4,133.3 542.6,129.7 542.8,132.4 543.0,130.6 543.2,131.6 543.4,131.3 543.6,132.6 543.8,130.3 544.0,137.3 544.2,127.3 544.4,133.2 544.6,131.5 544.8,137.7 545.0,131.4 545.2,134.2 545.4,129.5 545.6,135.1 545.8,131.4 546.0,135.6 546.2,131.2 546.4,132.9 546.6,131.3 546.8,133.5 547.0,131.0 547.2,132.1 547.4,128.8 547.6,134.9 547.8,130.5 548.0,132.1 548.2,127.1 548.4,136.4 548.6,129.8 548.8,133.4 549.0,128.9 549.2,139.4 549.4,130.4 549.6,132.7 549.8,126.7 550.0,137.8 550.2,128.6 550.4,135.5 550.6,127.2 550.8,139.1 551.0,129.7 551.2,134.4 551.4,130.9 551.6,134.6 551.8,123.6 552.0,135.8 552.2,125.2 552.4,133.2 552.6,129.2 552.8,134.1 553.0,131.5 553.2,132.2 553.4,131.8 553.6,137.8 553.8,122.1 554.0,138.4 554.2,126.1 554.4,133.6 554.6,120.0 554.8,139.0 555.0,131.1 555.2,136.8 555.4,130.6 555.6,137.2 555.8,125.6 556.0,132.5 556.2,129.5 556.4,136.2 556.6,126.0 556.8,135.0 557.0,131.7 557.2,135.2 557.4,131.4 557.6,133.7 557.8,125.9 558.0,134.5 558.2,129.7 558.4,132.6 558.6,129.6 558.8,137.4 559.0,130.7 559.2,136.0 559.4,131.4 559.6,136.0 559.8,128.3 560.0,138.9 560.2,124.9 560.4,133.6 560.6,131.3 560.8,132.0 561.0,126.3 561.2,135.0 561.4,130.6 561.6,137.2 561.8,128.5 562.0,131.9 562.2,127.0 562.4,132.2 562.6,131.8 562.8,133.4 563.0,130.7 563.2,136.2 563.4,130.3 563.6,133.5 563.8,130.2 564.0,136.1 564.2,128.6 564.4,131.5 564.6,129.6 564.8,135.1 565.0,132.1 565.2,136.5 565.4,129.2 565.6,132.5 565.8,125.7 566.0,135.0 566.2,128.6 566.4,134.5 566.6,127.8 566.8,138.2 567.0,128.8 567.2,134.6 567.4,130.0 567.6,133.8 567.8,130.8 568.0,137.9 568.2,131.5 568.4,134.8 568.6,129.9 568.8,133.4 569.0,131.4 569.2,132.5 569.3,126.7 569.5,133.1 569.7,128.4 569.9,135.6 570.1,130.6 570.3,136.2 570.5,129.3 570.7,132.9 570.9,130.3 571.1,132.9 571.3,132.0 571.5,132.8 571.7,129.5 571.9,137.0 572.1,131.1 572.3,127.0 572.5,142.0 572.7,135.6 572.9,129.5 573.1,133.0 573.3,131.7 573.5,139.0 573.7,129.5 573.9,135.6 574.1,130.3 574.3,136.6 574.5,131.4 574.7,133.1 574.9,128.5 575.1,136.8 575.3,125.9 575.5,133.9 575.7,129.3 575.9,135.2 576.1,128.5 576.3,138.5 576.5,129.0 576.7,137.0 576.9,129.4 577.1,135.6 577.3,128.7 577.5,138.5 577.7,130.0 577.9,133.2 578.1,129.1 578.3,135.7 578.5,130.2 578.7,138.2 578.9,128.2 579.1,138.4 579.3,129.9 579.5,135.5 579.7,130.8 579.9,132.5 580.1,130.9 580.3,131.8 580.5,130.1 580.7,133.5 580.9,131.8 581.1,133.3 581.3,130.8 581.5,133.0 581.7,130.4 581.9,134.1 582.1,132.0 582.3,135.7 582.5,130.2 582.7,135.4 582.9,129.5 583.1,134.6 583.3,131.0 583.5,134.1 583.7,130.4 583.9,134.8 584.1,131.2 584.3,134.6 584.5,130.4 584.7,135.3 584.9,129.1 585.1,134.6 585.3,129.4 585.5,132.2 585.7,131.4 585.9,134.1 586.1,130.7 586.3,135.8 586.5,130.0 586.7,135.4 586.9,127.8 587.1,133.7 587.3,131.7 587.5,134.2 587.7,130.6 587.9,133.9 588.1,128.9 588.3,132.8 588.5,132.2 588.7,133.2 588.9,132.0 589.1,134.6 589.3,131.1 589.5,134.1 589.7,130.2 589.9,133.9 590.1,129.9 590.3,134.9 590.5,130.7 590.7,133.5 590.9,128.2 591.1,132.7 591.3,131.4 591.5,131.4 591.7,128.3 591.9,131.8 592.1,131.7 592.3,133.0 592.5,131.8 592.7,133.9 592.9,132.2 593.1,132.4 593.3,129.6 593.5,133.0 593.7,130.6 593.9,132.1 594.1,131.8 594.3,132.7 594.5,131.6 594.7,133.7 594.9,130.1 595.1,132.2 595.3,129.5 595.5,133.2 595.7,130.5 595.9,133.0 596.1,129.2 596.3,134.1 596.5,132.0 596.7,135.6 596.9,128.6 597.1,132.9 597.3,131.1 597.5,132.5 597.7,132.2 597.9,134.0 598.1,130.4 598.3,132.7 598.5,131.9 598.7,133.1 598.9,130.3 599.1,133.4 599.3,131.5 599.5,133.2 599.7,130.3 599.9,132.7 600.1,131.0 600.3,133.1 600.5,132.4 600.7,132.2 600.9,131.9 601.1,132.1 601.3,131.8 601.5,132.4 601.7,131.5 601.9,132.5 602.1,130.9 602.3,131.9 602.5,131.7 602.7,132.7 602.9,131.3 603.1,132.4 603.3,131.9 603.5,132.2 603.7,131.8 603.9,132.7 604.1,131.6 604.3,132.0 604.5,131.6 604.7,132.4 604.9,131.9 605.1,132.8 605.3,131.6 605.5,132.7 605.7,132.2 605.9,133.1 606.1,131.9 606.3,132.8 606.5,131.7 606.7,131.8 606.9,131.4 607.1,132.1 607.3,132.2 607.5,132.8 607.7,131.3 607.9,132.1 608.1,131.4 608.3,132.1 608.5,131.2 608.7,132.4 608.9,130.7 609.1,132.0 609.3,131.0 609.5,133.0 609.7,132.3 609.9,132.9 610.1,131.5 610.3,132.8 610.5,131.3 610.7,132.0 610.9,132.1 611.1,133.3 611.3,131.0 611.5,132.6 611.7,130.8 611.9,133.2 612.1,131.0 612.3,132.3 612.5,131.7 612.7,132.7 612.9,131.7 613.1,131.5 613.3,132.0 613.5,132.1 613.7,131.1 613.9,133.7 614.1,131.6 614.3,132.6 614.5,132.3 614.7,132.2 614.9,131.5 615.1,132.0 615.3,131.6 615.5,133.1 615.7,131.6 615.9,132.1 616.1,131.3 616.3,132.8 616.5,131.6 616.7,132.4 616.9,131.6 617.1,134.7 617.3,131.2 617.5,133.0 617.7,130.4 617.9,132.8 618.1,131.7 618.3,132.7 618.5,132.1 618.7,133.8 618.9,127.2 619.1,133.6 619.3,127.8 619.5,138.3 619.7,127.7 619.9,137.0 620.1,128.7 620.3,135.1 620.5,124.1 620.7,132.6 620.9,123.4 621.1,137.6 621.3,124.3 621.5,136.4 621.7,130.0 621.9,133.3 622.1,130.8 622.3,135.7 622.5,126.1 622.7,141.7 622.9,125.4 623.1,119.0 623.3,143.0 623.5,133.1 623.7,125.6 623.9,140.6 624.1,125.6 624.3,140.2 624.5,123.0 624.7,134.6 624.9,130.4 625.1,135.9 625.3,130.0 625.5,132.1 625.7,128.3 625.9,134.8 626.1,128.4 626.3,136.4 626.5,130.1 626.7,134.0 626.9,131.2 627.1,132.9 627.3,130.3 627.5,132.5 627.7,129.8 627.9,135.1 628.1,131.0 628.3,132.5 628.4,130.7 628.6,132.8 628.8,131.2 629.0,132.3 629.2,130.4 629.4,133.2 629.6,130.7 629.8,131.9 630.0,128.5 630.2,136.6 630.4,123.5 630.6,118.0 630.8,139.0 631.0,132.5 631.2,130.4 631.4,132.6 631.6,127.9 631.8,134.0 632.0,131.1 632.2,139.8 632.4,123.0 632.6,132.2 632.8,131.0 633.0,133.2 633.2,131.2 633.4,133.8 633.6,128.9 633.8,132.3 634.0,128.8 634.2,133.9 634.4,130.4 634.6,133.0 634.8,130.9 635.0,134.4 635.2,130.0 635.4,133.6 635.6,128.4 635.8,133.5 636.0,131.6 636.2,134.3 636.4,132.3 636.6,133.5 636.8,130.1 637.0,132.2 637.2,130.1 637.4,132.5 637.6,132.3 637.8,132.4 638.0,132.3 638.2,133.8 638.4,130.5 638.6,132.9 638.8,130.8 639.0,133.7 639.2,130.7 639.4,132.7 639.6,129.7 639.8,132.7 640.0,131.4 640.2,134.0 640.4,131.3 640.6,133.2 640.8,130.3 641.0,132.4 641.2,130.1 641.4,132.9 641.6,130.5 641.8,132.0 642.0,131.2 642.2,132.6 642.4,130.5 642.6,132.3 642.8,131.1 643.0,133.4 643.2,131.6 643.4,132.9 643.6,131.2 643.8,134.5 644.0,131.1 644.2,133.5 644.4,132.2 644.6,132.6 644.8,129.2 645.0,132.3 645.2,132.1 645.4,133.1 645.6,131.2 645.8,132.5 646.0,130.0 646.2,132.8 646.4,130.1 646.6,132.7 646.8,131.2 647.0,132.3 647.2,130.1 647.4,135.5 647.6,129.0 647.8,131.9 648.0,131.0 648.2,134.1 648.4,131.2 648.6,134.4 648.8,128.7 649.0,134.7 649.2,131.2 649.4,132.7 649.6,124.7 649.8,135.1 650.0,124.0 650.2,140.0 650.4,131.5 650.6,132.6 650.8,127.0 651.0,132.2 651.2,130.2 651.4,133.1 651.6,131.2 651.8,134.5 652.0,129.6 652.2,135.4 652.4,127.9 652.6,136.2 652.8,131.8 653.0,136.1 653.2,130.7 653.4,132.5 653.6,130.4 653.8,132.2 654.0,131.5 654.2,133.4 654.4,130.8 654.6,134.0 654.8,131.8 655.0,132.6 655.2,130.6 655.4,133.5 655.6,131.5 655.8,132.9 656.0,130.7 656.2,132.7 656.4,131.3 656.6,132.5 656.8,131.0 657.0,132.2 657.2,131.7 657.4,131.4 657.6,129.8 657.8,132.1 658.0,131.3" fill="none" stroke="#0000ff" stroke-width="0.45" stroke-linejoin="round"/>
<text class="t" x="180.6" y="68.4" text-anchor="end">5</text>
<text class="t" x="180.6" y="140.9" text-anchor="end">0</text>
<text class="t" x="180.6" y="213.4" text-anchor="end">-5</text>
<text class="t" x="184.7" y="230.9" text-anchor="middle">00:00</text>
<text class="t" x="303.2" y="230.9" text-anchor="middle">06:00</text>
<text class="t" x="421.7" y="230.9" text-anchor="middle">12:00</text>
<text class="t" x="540.2" y="230.9" text-anchor="middle">18:00</text>
<text class="t" x="658.7" y="230.9" text-anchor="middle">24:00</text>
<text class="b t" transform="translate(151.2,132.6) rotate(-90)" text-anchor="middle">X (nT)</text>
<g clip-path="url(#c0)"><g filter="url(#jet)" class="m">
<rect x="788.7" y="39.2" width="515.1" height="181.5" fill="#000"/>
<g transform="translate(808.7,59.2)">
<defs><linearGradient id="f0_1" gradientUnits="userSpaceOnUse" x1="0" y1="142.0" x2="0" y2="70.0"><stop offset="0" stop-color="#131313"/><stop offset="0.240" stop-color="#bababa"/><stop offset="0.550" stop-color="#bababa"/><stop offset="1" stop-color="#666666"/></linearGradient><linearGradient id="f0_5" gradientUnits="userSpaceOnUse" x1="0" y1="142.0" x2="0" y2="40.0"><stop offset="0" stop-color="#1a1a1a"/><stop offset="0.240" stop-color="#ffffff"/><stop offset="0.550" stop-color="#ffffff"/><stop offset="1" stop-color="#999999"/></linearGradient><linearGradient id="f0_7" gradientUnits="userSpaceOnUse" x1="0" y1="143.0" x2="0" y2="40.0"><stop offset="0" stop-color="#1a1a1a"/><stop offset="0.240" stop-color="#ffffff"/><stop offset="0.550" stop-color="#ffffff"/><stop offset="1" stop-color="#666666"/></linearGradient><linearGradient id="f0_8" gradientUnits="userSpaceOnUse" x1="0" y1="143.0" x2="0" y2="55.0"><stop offset="0" stop-color="#1a1a1a"/><stop offset="0.240" stop-color="#ffffff"/><stop offset="0.550" stop-color="#ffffff"/><stop offset="1" stop-color="#999999"/></linearGradient><linearGradient id="f0_11" gradientUnits="userSpaceOnUse" x1="0" y1="152.0" x2="0" y2="20.0"><stop offset="0" stop-color="#1a1a1a"/><stop offset="0.330" stop-color="#ffffff"/><stop offset="0.662" stop-color="#ffffff"/><stop offset="1" stop-color="#e6e6e6"/></linearGradient><linearGradient id="f0_12" gradientUnits="userSpaceOnUse" x1="0" y1="140.0" x2="0" y2="45.0"><stop offset="0" stop-color="#1a1a1a"/><stop offset="0.300" stop-color="#ffffff"/><stop offset="0.625" stop-color="#ffffff"/><stop offset="1" stop-color="#e6e6e6"/></linearGradient><linearGradient id="f0_21" gradientUnits="userSpaceOnUse" x1="0" y1="135.0" x2="0" y2="-5.0"><stop offset="0" stop-color="#1a1a1a"/><stop offset="0.270" stop-color="#ffffff"/><stop offset="0.588" stop-color="#ffffff"/><stop offset="1" stop-color="#e6e6e6"/></linearGradient><linearGradient id="f0_27" gradientUnits="userSpaceOnUse" x1="0" y1="143.0" x2="0" y2="5.0"><stop offset="0" stop-color="#1a1a1a"/><stop offset="0.180" stop-color="#ffffff"/><stop offset="0.475" stop-color="#ffffff"/><stop offset="1" stop-color="#e6e6e6"/></linearGradient><linearGradient id="f0_34" gradientUnits="userSpaceOnUse" x1="0" y1="108.0" x2="0" y2="15.0"><stop offset="0" stop-color="#1a1a1a"/><stop offset="0.300" stop-color="#ffffff"/><stop offset="0.625" stop-color="#ffffff"/><stop offset="1" stop-color="#999999"/></linearGradient><linearGradient id="f0_40" gradientUnits="userSpaceOnUse" x1="0" y1="135.0" x2="0" y2="68.0"><stop offset="0" stop-color="#171717"/><stop offset="0.240" stop-color="#e6e6e6"/><stop offset="0.550" stop-color="#e6e6e6"/><stop offset="1" stop-color="#999999"/></linearGradient><linearGradient id="f0_46" gradientUnits="userSpaceOnUse" x1="0" y1="146.0" x2="0" y2="15.0"><stop offset="0" stop-color="#1a1a1a"/><stop offset="0.210" stop-color="#ffffff"/><stop offset="0.512" stop-color="#ffffff"/><stop offset="1" stop-color="#b2b2b2"/></linearGradient><linearGradient id="f0_58" gradientUnits="userSpaceOnUse" x1="0" y1="148.0" x2="0" y2="50.0"><stop offset="0" stop-color="#161616"/><stop offset="0.240" stop-color="#d9d9d9"/><stop offset="0.550" stop-color="#d9d9d9"/><stop offset="1" stop-color="#666666"/></linearGradient><linearGradient id="f0_62" gradientUnits="userSpaceOnUse" x1="0" y1="148.0" x2="0" y2="60.0"><stop offset="0" stop-color="#0c0c0c"/><stop offset="0.240" stop-color="#787878"/><stop offset="0.550" stop-color="#787878"/><stop offset="1" stop-color="#4c4c4c"/></linearGradient><linearGradient id="f0_63" gradientUnits="userSpaceOnUse" x1="0" y1="152.0" x2="0" y2="35.0"><stop offset="0" stop-color="#191919"/><stop offset="0.180" stop-color="#f7f7f7"/><stop offset="0.475" stop-color="#f7f7f7"/><stop offset="1" stop-color="#999999"/></linearGradient><linearGradient id="f0_68" gradientUnits="userSpaceOnUse" x1="0" y1="150.0" x2="0" y2="85.0"><stop offset="0" stop-color="#0a0a0a"/><stop offset="0.240" stop-color="#666666"/><stop offset="0.550" stop-color="#666666"/><stop offset="1" stop-color="#333333"/></linearGradient><linearGradient id="f0_70" gradientUnits="userSpaceOnUse" x1="0" y1="135.0" x2="0" y2="60.0"><stop offset="0" stop-color="#060606"/><stop offset="0.240" stop-color="#404040"/><stop offset="0.550" stop-color="#404040"/><stop offset="1" stop-color="#1a1a1a"/></linearGradient><linearGradient id="f0_71" gradientUnits="userSpaceOnUse" x1="0" y1="146.0" x2="0" y2="90.0"><stop offset="0" stop-color="#080808"/><stop offset="0.240" stop-color="#525252"/><stop offset="0.550" stop-color="#525252"/><stop offset="1" stop-color="#333333"/></linearGradient><linearGradient id="f0_73" gradientUnits="userSpaceOnUse" x1="0" y1="148.0" x2="0" y2="55.0"><stop offset="0" stop-color="#0b0b0b"/><stop offset="0.240" stop-color="#737373"/><stop offset="0.550" stop-color="#737373"/><stop offset="1" stop-color="#333333"/></linearGradient><linearGradient id="f0_74" gradientUnits="userSpaceOnUse" x1="0" y1="152.0" x2="0" y2="40.0"><stop offset="0" stop-color="#101010"/><stop offset="0.180" stop-color="#a3a3a3"/><stop offset="0.475" stop-color="#a3a3a3"/><stop offset="1" stop-color="#666666"/></linearGradient><linearGradient id="f0_78" gradientUnits="userSpaceOnUse" x1="0" y1="142.0" x2="0" y2="88.0"><stop offset="0" stop-color="#070707"/><stop offset="0.240" stop-color="#454545"/><stop offset="0.550" stop-color="#454545"/><stop offset="1" stop-color="#1a1a1a"/></linearGradient><linearGradient id="f0_80" gradientUnits="userSpaceOnUse" x1="0" y1="152.0" x2="0" y2="60.0"><stop offset="0" stop-color="#0e0e0e"/><stop offset="0.180" stop-color="#8c8c8c"/><stop offset="0.475" stop-color="#8c8c8c"/><stop offset="1" stop-color="#737373"/></linearGradient><linearGradient id="f0_88" gradientUnits="userSpaceOnUse" x1="0" y1="148.0" x2="0" y2="75.0"><stop offset="0" stop-color="#0b0b0b"/><stop offset="0.240" stop-color="#6e6e6e"/><stop offset="0.550" stop-color="#6e6e6e"/><stop offset="1" stop-color="#333333"/></linearGradient><linearGradient id="f0_94" gradientUnits="userSpaceOnUse" x1="0" y1="150.0" x2="0" y2="40.0"><stop offset="0" stop-color="#0f0f0f"/><stop offset="0.210" stop-color="#999999"/><stop offset="0.512" stop-color="#999999"/><stop offset="1" stop-color="#4c4c4c"/></linearGradient><linearGradient id="f0_99" gradientUnits="userSpaceOnUse" x1="0" y1="125.0" x2="0" y2="55.0"><stop offset="0" stop-color="#0c0c0c"/><stop offset="0.240" stop-color="#787878"/><stop offset="0.550" stop-color="#787878"/><stop offset="1" stop-color="#333333"/></linearGradient><linearGradient id="f0_100" gradientUnits="userSpaceOnUse" x1="0" y1="148.0" x2="0" y2="80.0"><stop offset="0" stop-color="#080808"/><stop offset="0.240" stop-color="#545454"/><stop offset="0.550" stop-color="#545454"/><stop offset="1" stop-color="#262626"/></linearGradient></defs>
<g filter="url(#bl)"><path d="M3.0,70.0C3.6,91.6 9.6,95.1 9.6,113.2C9.8,130.5 7.9,142.0 4.0,142.0C0.1,142.0 -2.2,130.5 -2.4,113.2C-2.4,95.1 2.9,91.6 3.0,70.0Z" fill="url(#f0_1)"/><path d="M28.0,40.0C26.2,70.6 29.9,75.5 29.9,101.2C28.3,125.7 24.4,142.0 20.0,142.0C15.6,142.0 14.9,125.7 16.5,101.2C16.5,75.5 25.4,70.6 28.0,40.0Z" fill="url(#f0_5)"/><path d="M42.5,40.0C42.6,70.9 47.9,75.8 47.9,101.8C47.7,126.5 45.4,143.0 41.5,143.0C37.6,143.0 35.7,126.5 35.9,101.8C35.9,75.8 41.9,70.9 42.5,40.0Z" fill="url(#f0_7)"/><path d="M60.0,55.0C58.5,81.4 61.8,85.6 61.8,107.8C60.4,128.9 56.9,143.0 53.0,143.0C49.1,143.0 48.4,128.9 49.8,107.8C49.8,85.6 57.8,81.4 60.0,55.0Z" fill="url(#f0_8)"/><path d="M74.0,20.0C74.7,49.7 81.2,54.5 81.2,79.4C81.6,123.0 79.7,152.0 75.5,152.0C71.3,152.0 68.6,123.0 68.2,79.4C68.2,54.5 73.9,49.7 74.0,20.0Z" fill="url(#f0_11)"/><path d="M87.0,45.0C87.6,68.8 94.0,72.5 94.0,92.5C94.2,121.0 92.2,140.0 88.0,140.0C83.8,140.0 81.2,121.0 81.0,92.5C81.0,72.5 86.8,68.8 87.0,45.0Z" fill="url(#f0_12)"/><path d="M80.0,118.0L80.0,150.0" stroke="#ffffff" stroke-width="15.0" stroke-linecap="round" fill="none"/><path d="M108.0,108.0L108.0,150.0" stroke="#ffffff" stroke-width="16.0" stroke-linecap="round" fill="none"/><path d="M101.9,-5.0C102.0,33.5 107.2,39.7 107.2,72.0C107.0,109.8 104.8,135.0 101.0,135.0C97.2,135.0 95.4,109.8 95.6,72.0C95.6,39.7 101.3,33.5 101.9,-5.0Z" fill="url(#f0_21)"/><path d="M132.0,5.0C128.6,53.3 129.8,61.0 129.8,101.6C128.0,126.4 124.0,143.0 120.0,143.0C116.0,143.0 115.6,126.4 117.4,101.6C117.4,61.0 127.8,53.3 132.0,5.0Z" fill="url(#f0_27)"/><path d="M149.4,-10.0L149.5,150.0" stroke="#ffffff" stroke-width="9.0" stroke-linecap="round" fill="none"/><path d="M149.5,105.0L149.5,150.0" stroke="#ffffff" stroke-width="14.6" stroke-linecap="round" fill="none"/><path d="M140.4,15.0C140.8,38.2 144.9,42.0 144.9,61.5C145.0,89.4 143.7,108.0 141.0,108.0C138.3,108.0 136.7,89.4 136.5,61.5C136.5,42.0 140.3,38.2 140.4,15.0Z" fill="url(#f0_34)"/><path d="M163.0,68.0C163.0,88.1 167.0,91.3 167.0,108.2C166.8,124.3 165.0,135.0 162.0,135.0C159.0,135.0 157.6,124.3 157.8,108.2C157.8,91.3 162.5,88.1 163.0,68.0Z" fill="url(#f0_40)"/><path d="M171.0,54.0L171.5,72.0" stroke="#b2b2b2" stroke-width="5.0" stroke-linecap="round" fill="none"/><path d="M178.7,15.0C178.4,57.6 183.5,64.4 183.5,100.2C183.1,127.7 180.5,146.0 176.5,146.0C172.5,146.0 170.7,127.7 171.1,100.2C171.1,64.4 177.7,57.6 178.7,15.0Z" fill="url(#f0_46)"/><path d="M202.0,50.0C201.8,79.4 206.3,84.1 206.3,108.8C205.9,132.3 203.6,148.0 200.0,148.0C196.4,148.0 194.9,132.3 195.3,108.8C195.3,84.1 201.1,79.4 202.0,50.0Z" fill="url(#f0_58)"/><path d="M217.0,60.0C216.4,86.4 219.4,90.6 219.4,112.8C218.8,133.9 216.7,148.0 214.0,148.0C211.3,148.0 210.4,133.9 211.0,112.8C211.0,90.6 215.9,86.4 217.0,60.0Z" fill="url(#f0_62)"/><path d="M237.0,35.0C234.8,76.0 237.4,82.5 237.4,116.9C236.2,138.0 232.9,152.0 229.0,152.0C225.1,152.0 224.2,138.0 225.4,116.9C225.4,82.5 234.1,76.0 237.0,35.0Z" fill="url(#f0_63)"/><path d="M243.0,85.0C243.9,104.5 250.2,107.6 250.2,124.0C250.6,139.6 248.9,150.0 245.0,150.0C241.1,150.0 238.6,139.6 238.2,124.0C238.2,107.6 243.2,104.5 243.0,85.0Z" fill="url(#f0_68)"/><path d="M269.5,60.0C269.7,82.5 272.5,86.1 272.5,105.0C272.5,123.0 271.4,135.0 269.5,135.0C267.6,135.0 266.5,123.0 266.5,105.0C266.5,86.1 269.3,82.5 269.5,60.0Z" fill="url(#f0_70)"/><path d="M274.5,90.0C274.7,106.8 278.5,109.5 278.5,123.6C278.5,137.0 277.1,146.0 274.5,146.0C271.9,146.0 270.5,137.0 270.5,123.6C270.5,109.5 274.3,106.8 274.5,90.0Z" fill="url(#f0_71)"/><path d="M286.0,55.0C286.5,82.9 290.6,87.4 290.6,110.8C290.8,133.1 289.6,148.0 287.0,148.0C284.4,148.0 282.8,133.1 282.6,110.8C282.6,87.4 286.0,82.9 286.0,55.0Z" fill="url(#f0_73)"/><path d="M293.5,40.0C294.3,79.2 300.1,85.5 300.1,118.4C300.3,138.6 298.6,152.0 295.0,152.0C291.4,152.0 289.3,138.6 289.1,118.4C289.1,85.5 293.6,79.2 293.5,40.0Z" fill="url(#f0_74)"/><path d="M307.0,88.0C307.2,104.2 310.2,106.8 310.2,120.4C310.2,133.4 309.1,142.0 307.0,142.0C304.9,142.0 303.8,133.4 303.8,120.4C303.8,106.8 306.8,104.2 307.0,88.0Z" fill="url(#f0_78)"/><path d="M317.0,60.0C319.2,92.2 326.7,97.4 326.7,124.4C327.6,141.0 326.6,152.0 323.0,152.0C319.4,152.0 316.6,141.0 315.7,124.4C315.7,97.4 318.6,92.2 317.0,60.0Z" fill="url(#f0_80)"/><path d="M369.0,75.0C369.4,96.9 373.8,100.4 373.8,118.8C373.9,136.3 372.4,148.0 369.5,148.0C366.6,148.0 364.9,136.3 364.8,118.8C364.8,100.4 368.9,96.9 369.0,75.0Z" fill="url(#f0_88)"/><path d="M401.5,40.0C401.6,75.8 405.7,81.5 405.7,111.5C405.6,134.6 403.9,150.0 401.0,150.0C398.1,150.0 396.6,134.6 396.7,111.5C396.7,81.5 401.1,75.8 401.5,40.0Z" fill="url(#f0_94)"/><path d="M439.2,55.0C439.7,76.0 443.7,79.4 443.7,97.0C443.8,113.8 442.6,125.0 440.0,125.0C437.4,125.0 435.8,113.8 435.7,97.0C435.7,79.4 439.2,76.0 439.2,55.0Z" fill="url(#f0_99)"/><path d="M445.5,80.0C446.0,100.4 449.9,103.7 449.9,120.8C450.1,137.1 449.0,148.0 446.5,148.0C444.0,148.0 442.5,137.1 442.3,120.8C442.3,103.7 445.5,100.4 445.5,80.0Z" fill="url(#f0_100)"/></g>
<ellipse cx="100.0" cy="108.0" rx="108.0" ry="44.0" fill="url(#p20)"/>
<ellipse cx="3.0" cy="70.0" rx="3.2" ry="28.7" fill="url(#p35)"/>
<ellipse cx="17.2" cy="15.0" rx="2.6" ry="34.5" fill="url(#p20)" transform="rotate(0.5 17.2 15.0)"/>
<ellipse cx="12.5" cy="60.0" rx="2.6" ry="34.5" fill="url(#p15)" transform="rotate(1.0 12.5 60.0)"/>
<ellipse cx="28.0" cy="32.5" rx="3.6" ry="54.7" fill="url(#p60)" transform="rotate(2.4 28.0 32.5)"/>
<ellipse cx="61.0" cy="32.5" rx="3.4" ry="54.7" fill="url(#p60)" transform="rotate(3.6 61.0 32.5)"/>
<ellipse cx="60.5" cy="32.5" rx="3.1" ry="43.2" fill="url(#p50)" transform="rotate(-3.8 60.5 32.5)"/>
<ellipse cx="71.3" cy="22.5" rx="2.9" ry="43.1" fill="url(#p45)"/>
<ellipse cx="75.7" cy="25.0" rx="2.9" ry="46.0" fill="url(#p50)"/>
<ellipse cx="83.2" cy="32.5" rx="3.2" ry="54.6" fill="url(#p70)" transform="rotate(1.4 83.2 32.5)"/>
<ellipse cx="88.3" cy="32.5" rx="3.2" ry="54.6" fill="url(#p70)" transform="rotate(0.4 88.3 32.5)"/>
<ellipse cx="93.8" cy="32.5" rx="2.9" ry="54.6" fill="url(#p45)" transform="rotate(0.3 93.8 32.5)"/>
<ellipse cx="94.0" cy="62.5" rx="3.4" ry="25.9" fill="url(#p70)"/>
<ellipse cx="99.0" cy="12.5" rx="2.3" ry="31.6" fill="url(#p30)"/>
<ellipse cx="101.9" cy="17.5" rx="3.0" ry="37.4" fill="url(#p90)"/>
<ellipse cx="109.2" cy="40.0" rx="3.4" ry="63.3" fill="url(#p75)" transform="rotate(-0.4 109.2 40.0)"/>
<ellipse cx="111.7" cy="12.5" rx="2.3" ry="31.6" fill="url(#p40)"/>
<ellipse cx="114.3" cy="32.5" rx="2.9" ry="54.6" fill="url(#p50)" transform="rotate(-0.2 114.3 32.5)"/>
<ellipse cx="131.8" cy="25.0" rx="3.5" ry="46.0" fill="url(#p90)" transform="rotate(0.4 131.8 25.0)"/>
<ellipse cx="124.0" cy="10.0" rx="3.2" ry="28.7" fill="url(#p30)"/>
<ellipse cx="125.5" cy="62.5" rx="3.2" ry="25.9" fill="url(#p70)" transform="rotate(-1.3 125.5 62.5)"/>
<ellipse cx="119.5" cy="55.0" rx="3.0" ry="23.0" fill="url(#p40)"/>
<ellipse cx="137.4" cy="15.0" rx="2.6" ry="34.5" fill="url(#p50)"/>
<ellipse cx="140.4" cy="15.0" rx="2.9" ry="34.5" fill="url(#p60)"/>
<ellipse cx="144.5" cy="7.5" rx="2.3" ry="25.9" fill="url(#p40)"/>
<ellipse cx="152.6" cy="32.5" rx="2.9" ry="54.6" fill="url(#p70)" transform="rotate(-0.2 152.6 32.5)"/>
<ellipse cx="155.8" cy="32.5" rx="2.6" ry="54.6" fill="url(#p55)" transform="rotate(-0.1 155.8 32.5)"/>
<ellipse cx="159.5" cy="65.0" rx="3.2" ry="28.7" fill="url(#p70)"/>
<ellipse cx="162.0" cy="17.5" rx="2.6" ry="37.4" fill="url(#p40)"/>
<ellipse cx="164.5" cy="32.5" rx="2.6" ry="54.6" fill="url(#p60)"/>
<ellipse cx="169.2" cy="35.0" rx="3.0" ry="57.5" fill="url(#p65)" transform="rotate(-0.3 169.2 35.0)"/>
<ellipse cx="178.7" cy="25.0" rx="3.1" ry="46.0" fill="url(#p75)" transform="rotate(0.3 178.7 25.0)"/>
<ellipse cx="170.5" cy="132.0" rx="5.0" ry="12.0" fill="url(#p50)"/>
<ellipse cx="165.0" cy="105.0" rx="4.0" ry="25.0" fill="url(#p50)"/>
<ellipse cx="185.4" cy="35.0" rx="3.1" ry="57.5" fill="url(#p60)" transform="rotate(-1.3 185.4 35.0)"/>
<ellipse cx="186.5" cy="100.0" rx="3.2" ry="28.7" fill="url(#p40)"/>
<ellipse cx="190.1" cy="15.0" rx="2.2" ry="34.5" fill="url(#p40)" transform="rotate(2.1 190.1 15.0)"/>
<ellipse cx="197.8" cy="40.0" rx="2.6" ry="63.3" fill="url(#p40)" transform="rotate(1.4 197.8 40.0)"/>
<ellipse cx="138.0" cy="125.0" rx="5.0" ry="18.0" fill="url(#p40)"/>
<ellipse cx="35.0" cy="138.0" rx="36.0" ry="6.0" fill="url(#p40)"/>
<ellipse cx="165.0" cy="138.0" rx="14.0" ry="6.0" fill="url(#p40)"/>
<ellipse cx="128.0" cy="138.0" rx="10.0" ry="6.0" fill="url(#p40)"/>
<ellipse cx="203.1" cy="27.5" rx="2.6" ry="48.9" fill="url(#p40)" transform="rotate(0.7 203.1 27.5)"/>
<ellipse cx="205.5" cy="12.5" rx="2.1" ry="31.6" fill="url(#p20)"/>
<ellipse cx="214.0" cy="30.0" rx="2.9" ry="51.8" fill="url(#p40)" transform="rotate(177.5 214.0 30.0)"/>
<ellipse cx="236.2" cy="27.5" rx="3.1" ry="48.9" fill="url(#p55)" transform="rotate(0.3 236.2 27.5)"/>
<ellipse cx="241.2" cy="22.5" rx="2.6" ry="43.1" fill="url(#p45)" transform="rotate(0.4 241.2 22.5)"/>
<ellipse cx="229.8" cy="37.5" rx="2.6" ry="31.6" fill="url(#p40)" transform="rotate(0.5 229.8 37.5)"/>
<ellipse cx="223.5" cy="25.0" rx="2.3" ry="28.7" fill="url(#p20)"/>
<ellipse cx="248.0" cy="62.5" rx="3.1" ry="37.4" fill="url(#p40)" transform="rotate(179.1 248.0 62.5)"/>
<ellipse cx="275.0" cy="27.5" rx="2.3" ry="28.2" fill="url(#p30)"/>
<ellipse cx="293.6" cy="22.5" rx="3.1" ry="43.1" fill="url(#p60)" transform="rotate(0.2 293.6 22.5)"/>
<ellipse cx="300.2" cy="36.5" rx="2.9" ry="59.2" fill="url(#p40)" transform="rotate(0.3 300.2 36.5)"/>
<ellipse cx="291.0" cy="136.0" rx="9.0" ry="9.0" fill="url(#p40)"/>
<ellipse cx="317.3" cy="45.0" rx="3.1" ry="46.0" fill="url(#p70)" transform="rotate(180.0 317.3 45.0)"/>
<ellipse cx="317.0" cy="0.0" rx="2.6" ry="17.2" fill="url(#p40)"/>
<ellipse cx="321.5" cy="1.5" rx="2.1" ry="19.0" fill="url(#p20)"/>
<ellipse cx="324.5" cy="1.5" rx="2.1" ry="19.0" fill="url(#p20)"/>
<ellipse cx="322.0" cy="136.0" rx="8.0" ry="9.0" fill="url(#p40)"/>
<ellipse cx="336.5" cy="108.0" rx="2.2" ry="13.0" fill="url(#p15)"/>
<ellipse cx="357.0" cy="84.0" rx="2.3" ry="29.9" fill="url(#p15)"/>
<ellipse cx="358.5" cy="126.0" rx="4.5" ry="15.0" fill="url(#p30)"/>
<ellipse cx="363.2" cy="20.0" rx="2.3" ry="40.2" fill="url(#p50)"/>
<ellipse cx="363.0" cy="67.5" rx="2.3" ry="20.1" fill="url(#p15)"/>
<ellipse cx="378.5" cy="77.5" rx="4.2" ry="72.1" fill="url(#p50)" transform="rotate(175.9 378.5 77.5)"/>
<ellipse cx="386.8" cy="66.0" rx="3.6" ry="50.6" fill="url(#p50)" transform="rotate(178.4 386.8 66.0)"/>
<ellipse cx="389.8" cy="65.5" rx="3.1" ry="33.9" fill="url(#p45)" transform="rotate(-178.5 389.8 65.5)"/>
<ellipse cx="392.0" cy="136.0" rx="14.0" ry="9.0" fill="url(#p40)"/>
<ellipse cx="421.8" cy="106.0" rx="4.2" ry="39.6" fill="url(#p35)" transform="rotate(171.2 421.8 106.0)"/>
<ellipse cx="430.2" cy="102.5" rx="3.4" ry="37.4" fill="url(#p35)" transform="rotate(-177.8 430.2 102.5)"/>
<ellipse cx="429.5" cy="133.0" rx="5.5" ry="14.0" fill="url(#p45)"/>
<ellipse cx="438.2" cy="10.0" rx="2.3" ry="28.7" fill="url(#p45)"/>
<ellipse cx="457.4" cy="37.5" rx="2.1" ry="60.4" fill="url(#p30)"/>
<ellipse cx="460.0" cy="102.0" rx="2.5" ry="14.0" fill="url(#p15)"/>
</g></g></g>
<path d="M808.7,59.7h5M1283.8,59.7h-5M808.7,76.6h5M1283.8,76.6h-5M808.7,97.2h5M1283.8,97.2h-5M808.7,122.4h5M1283.8,122.4h-5M808.7,154.9h5M1283.8,154.9h-5M808.7,200.2h5M1283.8,200.2h-5M927.5,200.7v-5M927.5,59.2v5M1046.2,200.7v-5M1046.2,59.2v5M1165.0,200.7v-5M1165.0,59.2v5" stroke="#00003c" stroke-width="1" fill="none" opacity="0.8"/>
<text class="t" x="804.8" y="69.3" text-anchor="end">7</text>
<text class="t" x="804.8" y="86.4" text-anchor="end">6</text>
<text class="t" x="804.8" y="106.6" text-anchor="end">5</text>
<text class="t" x="804.8" y="131.3" text-anchor="end">4</text>
<text class="t" x="804.8" y="163.1" text-anchor="end">3</text>
<text class="t" x="804.8" y="208.1" text-anchor="end">2</text>
<text class="t" x="808.9" y="227.1" text-anchor="middle">00:00</text>
<text class="t" x="927.7" y="227.1" text-anchor="middle">06:00</text>
<text class="t" x="1046.5" y="227.1" text-anchor="middle">12:00</text>
<text class="t" x="1165.2" y="227.1" text-anchor="middle">18:00</text>
<text class="t" x="1284.0" y="227.1" text-anchor="middle">00:00</text>
<text class="b t" transform="translate(782.6,130.7) rotate(-90)" text-anchor="middle">freq (mHz)</text>
<rect x="1302.2" y="59.4" width="25.6" height="142.3" fill="url(#cb)"/>
<path d="M1302.2,83.1h3M1327.8,83.1h-3" stroke="#400" stroke-width="1" opacity="0.7"/>
<text class="t" x="1331" y="92.1">5</text>
<text class="t" x="1331" y="209.9">0</text>
<text class="b t" transform="translate(1364.6,190.6) rotate(-90)">log<tspan class="s" dy="10">2</tspan><tspan dy="-10" dx="0.8">(nT</tspan><tspan class="s" dy="-11.4">2</tspan><tspan dy="11.4" dx="0.8">/Hz)</tspan></text>
<g stroke="#acacac" stroke-width="1" fill="none">
<rect x="184.5" y="295.5" width="474.0" height="145.0"/>
<path d="M302.5,440.5v-5M302.5,295.5v5M421.5,440.5v-5M421.5,295.5v5M540.5,440.5v-5M540.5,295.5v5M184.5,368.0h5M658.5,368.0h-5"/>
</g>
<path d="M185.0,369.1 185.2,367.4 185.4,368.4 185.6,366.4 185.8,368.2 186.0,366.7 186.2,367.9 186.4,368.1 186.6,368.5 186.8,365.9 187.0,368.4 187.2,367.5 187.4,369.1 187.6,367.0 187.8,369.7 188.0,367.5 188.2,369.5 188.4,367.2 188.6,369.0 188.8,366.3 189.0,369.0 189.2,368.2 189.4,368.7 189.6,367.6 189.8,369.8 190.0,365.9 190.2,369.7 190.4,365.7 190.6,371.0 190.8,366.7 191.0,368.7 191.2,367.2 191.4,368.6 191.6,367.6 191.8,368.0 192.0,368.1 192.2,368.5 192.4,367.5 192.6,368.2 192.8,367.6 193.0,368.6 193.2,367.8 193.4,369.2 193.6,367.9 193.8,368.8 194.0,367.0 194.2,367.5 194.4,365.3 194.6,371.4 194.8,367.1 195.0,368.0 195.2,367.3 195.4,369.0 195.6,366.1 195.8,369.3 196.0,367.4 196.2,368.6 196.4,366.6 196.6,368.2 196.8,367.5 197.0,370.5 197.2,367.1 197.4,368.0 197.6,366.4 197.8,369.0 198.0,367.1 198.2,372.1 198.4,364.7 198.6,371.2 198.8,365.4 199.0,368.3 199.2,366.7 199.4,370.4 199.6,364.4 199.8,371.3 200.0,363.7 200.2,369.2 200.4,367.5 200.6,370.0 200.8,366.1 201.0,372.3 201.2,363.0 201.4,368.7 201.6,367.4 201.8,373.4 202.0,364.5 202.2,375.0 202.4,367.3 202.6,370.1 202.8,366.7 203.0,370.0 203.2,361.1 203.4,371.7 203.6,363.0 203.8,368.8 204.0,362.1 204.2,372.1 204.4,359.1 204.6,370.4 204.8,366.8 205.0,374.5 205.2,360.5 205.4,368.0 205.6,366.8 205.8,369.2 206.0,352.0 206.2,379.0 206.4,361.5 206.6,379.9 206.8,362.8 207.0,376.6 207.2,363.0 207.4,376.5 207.6,357.3 207.8,371.1 208.0,362.7 208.2,375.7 208.4,360.8 208.6,374.7 208.8,359.3 209.0,375.4 209.2,359.2 209.4,368.0 209.6,367.1 209.8,371.0 210.0,366.8 210.2,369.1 210.4,362.2 210.6,370.2 210.8,366.9 211.0,373.5 211.2,364.1 211.4,368.1 211.6,360.5 211.8,369.2 212.0,367.9 212.2,376.0 212.4,362.6 212.6,371.6 212.8,364.1 213.0,372.1 213.2,366.3 213.4,374.2 213.6,366.3 213.8,369.6 214.0,367.5 214.2,370.7 214.4,364.0 214.6,368.2 214.7,364.8 214.9,375.5 215.1,367.9 215.3,370.3 215.5,366.4 215.7,372.6 215.9,367.1 216.1,370.6 216.3,366.0 216.5,372.0 216.7,365.7 216.9,368.8 217.1,362.1 217.3,369.9 217.5,362.8 217.7,370.8 217.9,365.4 218.1,369.3 218.3,366.6 218.5,369.9 218.7,367.5 218.9,372.3 219.1,366.8 219.3,369.1 219.5,366.3 219.7,368.1 219.9,364.7 220.1,368.9 220.3,367.3 220.5,371.2 220.7,365.4 220.9,369.6 221.1,367.8 221.3,370.1 221.5,368.0 221.7,371.0 221.9,366.9 222.1,369.1 222.3,364.8 222.5,371.2 222.7,367.3 222.9,370.2 223.1,360.4 223.3,373.2 223.5,365.6 223.7,370.5 223.9,366.4 224.1,369.5 224.3,366.6 224.5,370.9 224.7,363.2 224.9,369.9 225.1,365.5 225.3,371.3 225.5,363.1 225.7,375.8 225.9,360.9 226.1,374.8 226.3,364.1 226.5,377.7 226.7,364.0 226.9,376.6 227.1,359.5 227.3,372.9 227.5,366.2 227.7,380.3 227.9,358.2 228.1,372.9 228.3,365.0 228.5,368.7 228.7,364.9 228.9,368.3 229.1,360.4 229.3,369.5 229.5,363.7 229.7,373.1 229.9,367.6 230.1,370.8 230.3,365.9 230.5,372.8 230.7,367.5 230.9,370.8 231.1,367.6 231.3,371.4 231.5,366.9 231.7,369.5 231.9,361.7 232.1,370.3 232.3,365.0 232.5,368.6 232.7,365.0 232.9,368.6 233.1,365.5 233.3,372.5 233.5,367.4 233.7,368.8 233.9,366.2 234.1,370.7 234.3,368.4 234.5,369.1 234.7,366.1 234.9,370.2 235.1,366.6 235.3,370.1 235.5,366.7 235.7,370.8 235.9,362.8 236.1,370.0 236.3,364.6 236.5,370.4 236.7,362.7 236.9,370.5 237.1,366.0 237.3,371.3 237.5,367.5 237.7,367.9 237.9,367.5 238.1,370.0 238.3,367.3 238.5,374.6 238.7,364.6 238.9,375.3 239.1,367.6 239.3,377.1 239.5,367.0 239.7,374.5 239.9,363.7 240.1,367.6 240.3,366.9 240.5,370.2 240.7,368.0 240.9,369.7 241.1,363.4 241.3,369.0 241.5,364.7 241.7,372.4 241.9,365.2 242.1,371.7 242.3,366.8 242.5,370.3 242.7,365.7 242.9,371.7 243.1,366.9 243.3,372.4 243.5,364.9 243.7,371.8 243.9,367.7 244.1,371.5 244.3,366.2 244.5,375.0 244.7,358.0 244.9,371.3 245.1,359.7 245.3,368.8 245.5,364.2 245.7,371.7 245.9,365.5 246.1,368.8 246.3,362.6 246.5,373.0 246.7,367.5 246.9,371.6 247.1,363.0 247.3,368.8 247.5,367.1 247.7,368.3 247.9,363.2 248.1,376.4 248.3,365.8 248.5,372.9 248.7,358.1 248.9,370.4 249.1,363.7 249.3,369.0 249.5,358.2 249.7,377.8 249.9,367.2 250.1,369.7 250.3,366.7 250.5,371.7 250.7,361.0 250.9,371.1 251.1,359.7 251.3,372.4 251.5,366.3 251.7,370.3 251.9,365.5 252.1,374.3 252.3,363.0 252.5,374.0 252.7,367.1 252.9,369.0 253.1,364.1 253.3,370.6 253.5,362.9 253.7,370.1 253.9,350.5 254.1,368.5 254.3,364.2 254.5,368.7 254.7,358.9 254.9,371.4 255.1,358.5 255.3,374.6 255.5,360.9 255.7,368.9 255.9,361.1 256.1,376.4 256.3,363.3 256.5,371.4 256.7,363.5 256.9,372.0 257.1,347.0 257.3,380.0 257.5,356.8 257.7,372.2 257.9,354.4 258.1,373.0 258.3,360.2 258.5,375.7 258.7,362.5 258.9,368.6 259.1,365.2 259.3,370.6 259.5,367.6 259.7,370.8 259.9,359.4 260.1,376.5 260.3,359.6 260.5,373.2 260.7,365.5 260.9,368.7 261.1,359.8 261.3,374.6 261.5,357.7 261.7,374.2 261.9,359.6 262.1,370.1 262.3,361.9 262.5,373.0 262.7,361.7 262.9,368.4 263.1,359.9 263.3,369.2 263.5,364.1 263.7,371.7 263.9,355.9 264.1,371.3 264.3,362.1 264.5,372.3 264.7,366.7 264.9,370.5 265.1,360.5 265.3,373.1 265.5,365.2 265.7,373.9 265.9,359.8 266.1,381.2 266.3,361.0 266.5,376.1 266.7,367.3 266.9,379.2 267.1,350.0 267.3,385.0 267.5,365.1 267.7,374.9 267.9,362.8 268.1,368.5 268.3,368.4 268.5,378.8 268.7,349.3 268.9,378.0 269.1,358.6 269.3,383.1 269.5,362.4 269.7,369.9 269.9,355.0 270.1,373.8 270.3,365.2 270.5,372.5 270.7,367.4 270.9,375.0 271.1,366.4 271.3,374.8 271.5,353.7 271.7,370.7 271.9,366.3 272.1,369.4 272.3,366.1 272.5,370.5 272.7,358.7 272.9,368.8 273.1,358.4 273.3,368.5 273.5,362.1 273.7,368.6 273.8,351.2 274.0,368.4 274.2,361.9 274.4,370.2 274.6,366.5 274.8,369.5 275.0,367.9 275.2,368.2 275.4,360.2 275.6,377.5 275.8,361.4 276.0,371.5 276.2,367.2 276.4,373.3 276.6,359.3 276.8,378.5 277.0,360.4 277.2,370.3 277.4,364.2 277.6,374.9 277.8,364.7 278.0,374.2 278.2,362.1 278.4,380.5 278.6,362.9 278.8,369.1 279.0,367.4 279.2,374.4 279.4,362.7 279.6,371.3 279.8,366.7 280.0,373.0 280.2,365.8 280.4,368.1 280.6,365.6 280.8,371.2 281.0,367.2 281.2,369.8 281.4,364.2 281.6,368.2 281.8,354.1 282.0,371.9 282.2,358.8 282.4,375.8 282.6,367.7 282.8,367.8 283.0,362.7 283.2,382.3 283.4,361.7 283.6,378.6 283.8,353.3 284.0,383.9 284.2,356.9 284.4,368.3 284.6,360.3 284.8,373.2 285.0,357.1 285.2,377.1 285.4,365.5 285.6,373.9 285.8,362.0 286.0,368.5 286.2,359.0 286.4,371.1 286.6,357.8 286.8,370.1 287.0,357.5 287.2,369.4 287.4,365.8 287.6,381.1 287.8,342.5 288.0,390.0 288.2,355.2 288.4,374.3 288.6,363.4 288.8,390.0 289.0,354.9 289.2,369.9 289.4,355.5 289.6,368.6 289.8,356.0 290.0,378.1 290.2,361.9 290.4,382.7 290.6,367.2 290.8,376.0 291.0,355.1 291.2,379.4 291.4,360.5 291.6,381.9 291.8,355.9 292.0,371.3 292.2,364.6 292.4,370.8 292.6,367.1 292.8,379.1 293.0,364.6 293.2,375.5 293.4,364.0 293.6,375.4 293.8,361.8 294.0,378.0 294.2,365.2 294.4,380.6 294.6,346.0 294.8,385.0 295.0,344.6 295.2,368.8 295.4,352.7 295.6,369.8 295.8,360.8 296.0,374.7 296.2,365.8 296.4,381.3 296.6,356.9 296.8,368.5 297.0,367.9 297.2,379.1 297.4,363.0 297.6,368.8 297.8,366.1 298.0,369.3 298.2,359.4 298.4,385.6 298.6,364.9 298.8,369.5 299.0,358.3 299.2,379.8 299.4,366.5 299.6,370.7 299.8,360.4 300.0,374.0 300.2,362.7 300.4,379.2 300.6,365.8 300.8,369.0 301.0,360.3 301.2,370.6 301.4,365.2 301.6,370.1 301.8,361.8 302.0,372.4 302.2,365.4 302.4,368.7 302.6,366.8 302.8,371.0 303.0,365.0 303.2,371.2 303.4,365.7 303.6,367.9 303.8,367.2 304.0,371.0 304.2,365.8 304.4,368.8 304.6,363.6 304.8,369.1 305.0,368.1 305.2,369.2 305.4,368.0 305.6,370.6 305.8,365.4 306.0,373.7 306.2,363.3 306.4,375.7 306.6,363.7 306.8,371.7 307.0,368.2 307.2,368.5 307.4,362.1 307.6,371.0 307.8,364.3 308.0,368.2 308.2,366.8 308.4,369.9 308.6,365.7 308.8,379.6 309.0,363.1 309.2,382.7 309.4,366.1 309.6,371.2 309.8,359.5 310.0,386.8 310.2,357.8 310.4,372.7 310.6,360.4 310.8,375.4 311.0,350.0 311.2,390.0 311.4,363.3 311.6,375.2 311.8,348.8 312.0,380.9 312.2,356.7 312.4,373.5 312.6,360.9 312.8,370.4 313.0,359.5 313.2,371.8 313.4,353.0 313.6,383.0 313.8,358.4 314.0,367.8 314.2,351.5 314.4,379.9 314.6,356.7 314.8,370.7 315.0,366.4 315.2,384.9 315.4,347.8 315.6,376.3 315.8,357.0 316.0,371.6 316.2,364.6 316.4,375.6 316.6,360.7 316.8,390.3 317.0,356.4 317.2,370.3 317.4,367.5 317.6,382.6 317.8,345.0 318.0,379.0 318.2,360.1 318.4,371.1 318.6,359.4 318.8,370.4 319.0,353.4 319.2,373.8 319.4,341.3 319.6,391.5 319.8,361.8 320.0,386.1 320.2,359.8 320.4,371.9 320.6,355.4 320.8,374.8 321.0,367.1 321.2,378.4 321.4,363.5 321.6,372.8 321.8,367.5 322.0,388.1 322.2,358.3 322.4,379.6 322.6,361.4 322.8,373.4 323.0,364.8 323.2,378.3 323.4,364.2 323.6,373.7 323.8,355.8 324.0,373.4 324.2,354.6 324.4,372.8 324.6,351.5 324.8,391.8 325.0,358.5 325.2,380.0 325.4,364.8 325.6,383.7 325.8,353.5 326.0,378.8 326.2,354.4 326.4,379.8 326.6,367.3 326.8,371.4 327.0,347.0 327.2,390.0 327.4,366.4 327.6,378.3 327.8,354.4 328.0,370.1 328.2,359.4 328.4,373.2 328.6,349.6 328.8,372.8 329.0,359.4 329.2,387.9 329.4,364.1 329.6,370.0 329.8,357.9 330.0,387.3 330.2,351.6 330.4,389.0 330.6,358.5 330.8,369.2 331.0,366.6 331.2,393.7 331.4,366.6 331.6,368.1 331.8,351.9 332.0,376.4 332.2,365.6 332.4,369.1 332.6,366.0 332.8,371.4 332.9,356.2 333.1,371.8 333.3,362.2 333.5,382.3 333.7,362.8 333.9,375.0 334.1,355.9 334.3,385.5 334.5,362.6 334.7,381.0 334.9,364.2 335.1,380.6 335.3,340.4 335.5,395.8 335.7,360.4 335.9,379.6 336.1,355.4 336.3,377.6 336.5,357.2 336.7,397.7 336.9,341.8 337.1,381.5 337.3,363.9 337.5,370.2 337.7,365.4 337.9,397.3 338.1,362.7 338.3,373.2 338.5,364.1 338.7,376.9 338.9,361.5 339.1,374.3 339.3,363.0 339.5,389.2 339.7,347.3 339.9,385.4 340.1,355.0 340.3,377.8 340.5,359.6 340.7,382.1 340.9,350.9 341.1,386.1 341.3,344.2 341.5,379.4 341.7,363.0 341.9,384.6 342.1,366.8 342.3,368.2 342.5,358.9 342.7,369.7 342.9,358.8 343.1,380.4 343.3,356.1 343.5,376.7 343.7,362.2 343.9,384.9 344.1,354.0 344.3,388.5 344.5,360.9 344.7,389.9 344.9,359.4 345.1,376.7 345.3,359.1 345.5,383.8 345.7,358.2 345.9,387.6 346.1,358.9 346.3,376.4 346.5,366.4 346.7,343.0 346.9,399.5 347.1,370.0 347.3,350.4 347.5,373.0 347.7,356.5 347.9,388.5 348.1,361.5 348.3,375.6 348.5,355.6 348.7,371.0 348.9,343.6 349.1,375.1 349.3,348.0 349.5,383.1 349.7,359.6 349.9,368.2 350.1,351.6 350.3,378.6 350.5,359.6 350.7,381.2 350.9,367.7 351.1,382.9 351.3,366.9 351.5,373.4 351.7,367.2 351.9,368.5 352.1,359.8 352.3,382.7 352.5,360.2 352.7,371.2 352.9,362.2 353.1,383.3 353.3,364.1 353.5,387.8 353.7,356.4 353.9,378.3 354.1,364.8 354.3,371.3 354.5,362.1 354.7,380.2 354.9,356.4 355.1,370.6 355.3,356.7 355.5,369.6 355.7,346.4 355.9,369.9 356.1,365.9 356.3,373.0 356.5,342.5 356.7,383.8 356.9,351.8 357.1,370.4 357.3,356.8 357.5,374.4 357.7,366.9 357.9,341.0 358.1,384.0 358.3,368.1 358.5,351.3 358.7,374.1 358.9,360.2 359.1,374.9 359.3,348.3 359.5,370.2 359.7,366.4 359.9,373.8 360.1,366.7 360.3,369.1 360.5,359.5 360.7,374.9 360.9,357.7 361.1,368.5 361.3,362.8 361.5,379.1 361.7,367.7 361.9,371.8 362.1,363.4 362.3,373.5 362.5,359.1 362.7,371.9 362.9,366.6 363.1,374.6 363.3,363.2 363.5,369.0 363.7,364.4 363.9,370.3 364.1,360.4 364.3,372.7 364.5,367.5 364.7,369.4 364.9,363.3 365.1,372.7 365.3,365.6 365.5,373.2 365.7,365.9 365.9,374.4 366.1,361.0 366.3,371.6 366.5,363.3 366.7,369.3 366.9,358.4 367.1,368.2 367.3,365.2 367.5,370.5 367.7,368.0 367.9,372.2 368.1,360.1 368.3,370.3 368.5,366.4 368.7,368.2 368.9,360.8 369.1,373.9 369.3,367.8 369.5,373.3 369.7,365.3 369.9,370.8 370.1,364.6 370.3,369.9 370.5,362.9 370.7,374.0 370.9,366.8 371.1,373.1 371.3,361.9 371.5,373.2 371.7,367.1 371.9,371.4 372.1,362.5 372.3,371.9 372.5,367.7 372.7,373.5 372.9,367.8 373.1,369.4 373.3,363.8 373.5,376.7 373.7,368.1 373.9,372.7 374.1,361.8 374.3,372.6 374.5,367.6 374.7,368.6 374.9,366.0 375.1,370.5 375.3,366.7 375.5,371.6 375.7,366.7 375.9,372.3 376.1,366.8 376.3,367.9 376.5,365.4 376.7,369.8 376.9,365.0 377.1,374.8 377.3,364.9 377.5,373.0 377.7,361.2 377.9,371.9 378.1,363.6 378.3,371.0 378.5,363.2 378.7,369.7 378.9,366.1 379.1,369.2 379.3,367.5 379.5,369.2 379.7,366.3 379.9,371.2 380.1,367.5 380.3,371.6 380.5,365.8 380.7,370.9 380.9,365.9 381.1,367.8 381.3,363.3 381.5,369.1 381.7,362.4 381.9,368.4 382.1,366.5 382.3,371.1 382.5,367.6 382.7,369.3 382.9,364.8 383.1,369.7 383.3,367.4 383.5,370.7 383.7,366.7 383.9,369.5 384.1,365.8 384.3,371.5 384.5,363.2 384.7,375.0 384.9,361.1 385.1,368.1 385.3,367.2 385.5,372.3 385.7,362.0 385.9,368.7 386.1,366.2 386.3,370.0 386.5,366.4 386.7,371.9 386.9,365.1 387.1,370.9 387.3,366.9 387.5,370.1 387.7,364.6 387.9,369.0 388.1,366.7 388.3,372.1 388.5,365.8 388.7,370.1 388.9,366.2 389.1,371.9 389.3,359.6 389.5,369.8 389.7,359.9 389.9,375.4 390.1,365.0 390.3,369.3 390.5,362.7 390.7,369.3 390.9,367.4 391.1,369.1 391.3,364.2 391.5,369.2 391.7,360.6 391.9,368.7 392.0,366.4 392.2,369.0 392.4,367.5 392.6,368.5 392.8,366.2 393.0,370.8 393.2,365.2 393.4,371.8 393.6,365.3 393.8,370.7 394.0,367.0 394.2,372.9 394.4,363.7 394.6,369.9 394.8,367.4 395.0,374.7 395.2,366.7 395.4,374.7 395.6,366.4 395.8,370.3 396.0,365.2 396.2,369.1 396.4,367.1 396.6,368.1 396.8,367.0 397.0,368.8 397.2,365.1 397.4,370.6 397.6,364.2 397.8,369.4 398.0,366.1 398.2,370.9 398.4,367.3 398.6,371.3 398.8,362.0 399.0,368.6 399.2,366.9 399.4,368.3 399.6,363.3 399.8,368.1 400.0,363.0 400.2,372.5 400.4,364.5 400.6,370.9 400.8,364.0 401.0,368.8 401.2,367.3 401.4,370.9 401.6,367.2 401.8,370.8 402.0,364.3 402.2,369.0 402.4,363.8 402.6,372.3 402.8,364.7 403.0,370.0 403.2,363.1 403.4,375.2 403.6,367.1 403.8,370.7 404.0,366.1 404.2,371.4 404.4,363.7 404.6,368.3 404.8,367.7 405.0,372.0 405.2,366.4 405.4,370.5 405.6,367.1 405.8,368.5 406.0,364.6 406.2,372.4 406.4,363.9 406.6,369.4 406.8,363.6 407.0,368.6 407.2,367.7 407.4,369.9 407.6,366.3 407.8,369.2 408.0,368.1 408.2,368.3 408.4,365.4 408.6,374.0 408.8,360.3 409.0,371.7 409.2,365.0 409.4,370.5 409.6,367.0 409.8,368.7 410.0,363.4 410.2,370.6 410.4,364.8 410.6,373.3 410.8,361.9 411.0,376.3 411.2,367.9 411.4,372.3 411.6,367.1 411.8,372.2 412.0,363.2 412.2,369.5 412.4,367.6 412.6,372.0 412.8,368.2 413.0,371.4 413.2,363.7 413.4,368.7 413.6,367.2 413.8,369.3 414.0,366.6 414.2,371.9 414.4,367.6 414.6,376.1 414.8,361.7 415.0,371.8 415.2,367.0 415.4,371.2 415.6,365.3 415.8,369.5 416.0,364.1 416.2,371.7 416.4,365.4 416.6,374.8 416.8,363.6 417.0,378.4 417.2,367.3 417.4,369.2 417.6,359.4 417.8,369.9 418.0,357.2 418.2,372.4 418.4,363.3 418.6,370.0 418.8,365.0 419.0,372.7 419.2,366.8 419.4,369.4 419.6,366.3 419.8,368.1 420.0,363.1 420.2,371.4 420.4,368.3 420.6,369.9 420.8,366.9 421.0,369.2 421.2,367.3 421.4,373.9 421.6,366.9 421.8,374.6 422.0,363.2 422.2,368.4 422.4,363.7 422.6,370.4 422.8,365.0 423.0,368.2 423.2,367.0 423.4,377.0 423.6,367.4 423.8,372.7 424.0,367.4 424.2,373.3 424.4,361.6 424.6,374.7 424.8,360.4 425.0,368.6 425.2,361.6 425.4,367.9 425.6,367.3 425.8,374.7 426.0,361.2 426.2,372.8 426.4,366.6 426.6,369.7 426.8,360.7 427.0,378.5 427.2,361.8 427.4,368.5 427.6,366.1 427.8,369.2 428.0,360.5 428.2,369.6 428.4,367.4 428.6,372.1 428.8,367.8 429.0,372.0 429.2,360.2 429.4,370.9 429.6,366.0 429.8,373.6 430.0,367.6 430.2,377.2 430.4,367.4 430.6,371.1 430.8,359.9 431.0,369.2 431.2,366.4 431.4,371.2 431.6,365.7 431.8,371.2 432.0,364.6 432.2,373.2 432.4,363.7 432.6,370.4 432.8,357.7 433.0,373.7 433.2,363.2 433.4,371.7 433.6,365.9 433.8,373.4 434.0,361.4 434.2,369.2 434.4,366.9 434.6,369.5 434.8,361.6 435.0,372.0 435.2,362.2 435.4,370.8 435.6,359.5 435.8,374.5 436.0,364.3 436.2,368.6 436.4,367.1 436.6,369.1 436.8,363.3 437.0,368.5 437.2,366.7 437.4,370.8 437.6,365.6 437.8,371.8 438.0,363.7 438.2,371.0 438.4,367.4 438.6,370.9 438.8,361.2 439.0,368.2 439.2,360.6 439.4,377.8 439.6,367.9 439.8,368.6 440.0,364.7 440.2,371.5 440.4,362.1 440.6,369.8 440.8,368.1 441.0,368.5 441.2,367.2 441.4,370.8 441.6,367.1 441.8,369.2 442.0,363.1 442.2,371.8 442.4,367.6 442.6,368.7 442.8,365.0 443.0,368.8 443.2,367.3 443.4,369.2 443.6,365.8 443.8,370.7 444.0,366.1 444.2,369.4 444.4,366.1 444.6,372.0 444.8,366.8 445.0,368.7 445.2,367.5 445.4,369.2 445.6,365.6 445.8,370.2 446.0,365.5 446.2,369.7 446.4,367.9 446.6,369.4 446.8,366.7 447.0,369.5 447.2,367.4 447.4,369.5 447.6,367.1 447.8,368.9 448.0,367.4 448.2,368.0 448.4,368.1 448.6,368.6 448.8,367.7 449.0,368.5 449.2,366.6 449.4,369.6 449.6,368.5 449.8,368.0 450.0,367.4 450.2,368.7 450.4,367.1 450.6,369.0 450.8,365.9 451.0,370.0 451.1,366.8 451.3,369.3 451.5,367.3 451.7,369.3 451.9,367.2 452.1,367.9 452.3,366.9 452.5,370.2 452.7,366.2 452.9,368.0 453.1,366.3 453.3,368.1 453.5,366.8 453.7,370.5 453.9,367.5 454.1,369.2 454.3,367.0 454.5,368.5 454.7,367.0 454.9,371.9 455.1,365.7 455.3,369.2 455.5,367.6 455.7,368.2 455.9,367.2 456.1,368.8 456.3,368.1 456.5,368.7 456.7,366.0 456.9,369.0 457.1,366.6 457.3,368.3 457.5,367.1 457.7,370.2 457.9,366.5 458.1,371.8 458.3,367.8 458.5,368.7 458.7,365.9 458.9,369.7 459.1,366.6 459.3,368.9 459.5,365.3 459.7,369.3 459.9,367.4 460.1,368.9 460.3,363.9 460.5,371.2 460.7,367.1 460.9,371.8 461.1,367.1 461.3,370.4 461.5,366.5 461.7,370.2 461.9,367.9 462.1,369.2 462.3,365.1 462.5,368.2 462.7,367.9 462.9,368.6 463.1,366.5 463.3,369.7 463.5,365.9 463.7,368.4 463.9,367.4 464.1,370.3 464.3,367.8 464.5,370.3 464.7,367.0 464.9,368.9 465.1,365.8 465.3,370.4 465.5,364.1 465.7,368.0 465.9,366.2 466.1,368.5 466.3,368.1 466.5,372.4 466.7,367.7 466.9,368.8 467.1,366.3 467.3,368.1 467.5,368.0 467.7,368.4 467.9,367.3 468.1,368.5 468.3,366.9 468.5,368.5 468.7,365.8 468.9,368.6 469.1,365.5 469.3,369.3 469.5,366.7 469.7,371.1 469.9,367.3 470.1,367.9 470.3,366.1 470.5,371.7 470.7,367.6 470.9,368.7 471.1,364.7 471.3,372.5 471.5,368.0 471.7,371.4 471.9,368.0 472.1,370.4 472.3,365.1 472.5,368.4 472.7,366.7 472.9,372.9 473.1,367.6 473.3,373.4 473.5,365.7 473.7,368.7 473.9,364.3 474.1,369.3 474.3,367.8 474.5,371.2 474.7,363.4 474.9,368.8 475.1,367.6 475.3,370.1 475.5,366.2 475.7,369.2 475.9,368.0 476.1,368.9 476.3,363.9 476.5,369.4 476.7,366.5 476.9,373.9 477.1,365.9 477.3,367.8 477.5,367.1 477.7,369.7 477.9,365.5 478.1,369.0 478.3,366.6 478.5,368.9 478.7,367.2 478.9,368.9 479.1,364.7 479.3,371.7 479.5,366.8 479.7,369.7 479.9,366.4 480.1,368.1 480.3,367.3 480.5,368.2 480.7,366.9 480.9,374.0 481.1,356.3 481.3,371.8 481.5,366.2 481.7,368.7 481.9,360.9 482.1,370.4 482.3,365.2 482.5,374.5 482.7,361.4 482.9,369.5 483.1,352.0 483.3,378.0 483.5,364.4 483.7,367.6 483.9,361.5 484.1,370.6 484.3,356.9 484.5,372.8 484.7,359.9 484.9,369.6 485.1,362.6 485.3,369.0 485.5,367.7 485.7,368.5 485.9,357.5 486.1,369.9 486.3,365.6 486.5,373.0 486.7,359.9 486.9,372.6 487.1,367.4 487.3,369.7 487.5,367.2 487.7,368.4 487.9,362.9 488.1,369.1 488.3,366.1 488.5,372.7 488.7,365.3 488.9,370.9 489.1,364.2 489.3,369.0 489.5,365.3 489.7,372.2 489.9,362.3 490.1,370.6 490.3,365.2 490.5,374.2 490.7,366.1 490.9,371.4 491.1,364.8 491.3,369.9 491.5,365.3 491.7,370.5 491.9,365.1 492.1,368.6 492.3,367.0 492.5,369.7 492.7,364.6 492.9,370.3 493.1,367.3 493.3,368.8 493.5,367.0 493.7,369.5 493.9,366.8 494.1,369.8 494.3,365.4 494.5,373.3 494.7,366.6 494.9,369.7 495.1,367.3 495.3,370.2 495.5,366.4 495.7,371.5 495.9,367.9 496.1,369.2 496.3,367.6 496.5,369.7 496.7,367.1 496.9,370.3 497.1,367.5 497.3,368.8 497.5,365.1 497.7,370.2 497.9,367.6 498.1,368.0 498.3,367.6 498.5,370.4 498.7,364.6 498.9,368.2 499.1,366.3 499.3,370.0 499.5,367.5 499.7,368.3 499.9,367.8 500.1,368.6 500.3,367.5 500.5,368.7 500.7,367.3 500.9,370.9 501.1,366.7 501.3,372.1 501.5,367.1 501.7,369.0 501.9,366.9 502.1,368.3 502.3,365.8 502.5,370.0 502.7,365.7 502.9,370.5 503.1,366.9 503.3,368.3 503.5,367.7 503.7,369.1 503.9,366.6 504.1,369.3 504.3,367.3 504.5,369.4 504.7,367.1 504.9,370.1 505.1,367.9 505.3,368.0 505.5,367.3 505.7,372.4 505.9,366.0 506.1,373.7 506.3,366.9 506.5,370.0 506.7,364.8 506.9,369.8 507.1,364.0 507.3,374.0 507.5,367.8 507.7,371.7 507.9,366.7 508.1,373.6 508.3,366.8 508.5,369.2 508.7,362.3 508.9,369.4 509.1,364.6 509.3,371.0 509.5,366.6 509.7,369.5 509.9,364.6 510.1,369.0 510.2,366.1 510.4,370.8 510.6,366.5 510.8,370.4 511.0,365.9 511.2,369.2 511.4,367.1 511.6,370.4 511.8,361.8 512.0,369.4 512.2,367.1 512.4,369.0 512.6,365.7 512.8,371.1 513.0,367.4 513.2,370.0 513.4,366.0 513.6,368.4 513.8,365.2 514.0,368.6 514.2,367.1 514.4,369.2 514.6,363.8 514.8,370.4 515.0,367.4 515.2,371.5 515.4,367.5 515.6,370.8 515.8,365.6 516.0,368.9 516.2,365.9 516.4,368.9 516.6,367.5 516.8,369.6 517.0,367.6 517.2,369.1 517.4,367.0 517.6,369.0 517.8,366.5 518.0,369.2 518.2,366.7 518.4,369.3 518.6,367.4 518.8,369.5 519.0,367.7 519.2,369.7 519.4,368.0 519.6,369.0 519.8,365.7 520.0,369.0 520.2,368.0 520.4,368.0 520.6,367.7 520.8,368.2 521.0,366.8 521.2,368.2 521.4,368.0 521.6,368.6 521.8,366.9 522.0,368.7 522.2,367.4 522.4,368.9 522.6,366.4 522.8,369.2 523.0,366.3 523.2,368.4 523.4,366.7 523.6,368.9 523.8,366.2 524.0,369.2 524.2,366.4 524.4,368.3 524.6,367.6 524.8,368.3 525.0,367.9 525.2,368.5 525.4,367.0 525.6,368.7 525.8,367.2 526.0,369.1 526.2,367.6 526.4,368.5 526.6,368.1 526.8,369.3 527.0,368.2 527.2,368.5 527.4,368.2 527.6,368.2 527.8,368.2 528.0,368.4 528.2,367.3 528.4,367.9 528.6,368.0 528.8,368.4 529.0,367.2 529.2,368.2 529.4,367.3 529.6,368.5 529.8,368.3 530.0,369.7 530.2,366.8 530.4,368.3 530.6,367.3 530.8,369.2 531.0,366.8 531.2,367.9 531.4,367.6 531.6,368.1 531.8,367.5 532.0,369.4 532.2,367.7 532.4,368.5 532.6,367.5 532.8,367.9 533.0,367.4 533.2,368.8 533.4,367.5 533.6,368.2 533.8,367.6 534.0,368.6 534.2,367.4 534.4,368.0 534.6,367.9 534.8,368.3 535.0,366.9 535.2,368.4 535.4,367.5 535.6,368.9 535.8,367.3 536.0,368.7 536.2,367.8 536.4,369.3 536.6,366.1 536.8,367.8 537.0,367.6 537.2,370.1 537.4,366.4 537.6,368.4 537.8,367.8 538.0,367.8 538.2,366.9 538.4,369.6 538.6,366.4 538.8,368.1 539.0,368.2 539.2,369.4 539.4,367.5 539.6,369.2 539.8,367.4 540.0,367.3 540.2,367.1 540.4,368.2 540.6,367.8 540.8,368.1 541.0,366.3 541.2,369.3 541.4,366.6 541.6,369.1 541.8,367.1 542.0,367.9 542.2,366.9 542.4,370.1 542.6,367.9 542.8,368.2 543.0,366.0 543.2,368.1 543.4,366.0 543.6,369.2 543.8,364.8 544.0,368.3 544.2,368.0 544.4,370.9 544.6,364.8 544.8,369.7 545.0,366.5 545.2,369.2 545.4,366.5 545.6,369.2 545.8,367.4 546.0,369.5 546.2,365.6 546.4,369.1 546.6,365.8 546.8,371.4 547.0,365.7 547.2,369.1 547.4,367.8 547.6,370.2 547.8,368.3 548.0,370.0 548.2,367.6 548.4,368.8 548.6,364.9 548.8,368.6 549.0,367.0 549.2,371.9 549.4,367.6 549.6,369.2 549.8,367.5 550.0,368.8 550.2,367.6 550.4,371.3 550.6,366.8 550.8,371.1 551.0,366.1 551.2,368.1 551.4,365.2 551.6,371.6 551.8,366.8 552.0,368.1 552.2,367.1 552.4,369.0 552.6,363.7 552.8,369.2 553.0,367.8 553.2,372.5 553.4,366.5 553.6,369.9 553.8,366.0 554.0,368.7 554.2,365.2 554.4,369.3 554.6,368.1 554.8,368.2 555.0,367.0 555.2,368.7 555.4,366.2 555.6,369.5 555.8,364.2 556.0,368.3 556.2,365.0 556.4,370.4 556.6,368.5 556.8,370.8 557.0,365.1 557.2,372.8 557.4,366.8 557.6,368.7 557.8,365.5 558.0,368.8 558.2,365.9 558.4,370.2 558.6,367.6 558.8,371.9 559.0,365.6 559.2,367.5 559.4,368.0 559.6,369.1 559.8,365.9 560.0,370.6 560.2,366.6 560.4,373.8 560.6,366.8 560.8,369.8 561.0,367.8 561.2,370.6 561.4,365.1 561.6,371.4 561.8,366.4 562.0,369.2 562.2,365.7 562.4,369.8 562.6,365.0 562.8,370.1 563.0,368.0 563.2,371.4 563.4,366.3 563.6,373.8 563.8,365.1 564.0,372.5 564.2,363.4 564.4,372.6 564.6,362.2 564.8,368.1 565.0,366.9 565.2,373.4 565.4,367.7 565.6,370.6 565.8,368.2 566.0,369.8 566.2,366.9 566.4,371.0 566.6,364.6 566.8,372.5 567.0,366.8 567.2,368.0 567.4,367.9 567.6,369.4 567.8,366.7 568.0,370.2 568.2,366.7 568.4,369.7 568.6,366.0 568.8,368.5 569.0,367.5 569.2,370.4 569.3,365.9 569.5,370.7 569.7,366.2 569.9,368.6 570.1,367.3 570.3,368.3 570.5,362.9 570.7,371.7 570.9,366.1 571.1,374.0 571.3,364.7 571.5,373.4 571.7,366.3 571.9,371.2 572.1,366.8 572.3,368.9 572.5,366.6 572.7,369.5 572.9,366.5 573.1,369.7 573.3,366.2 573.5,371.2 573.7,365.0 573.9,368.6 574.1,367.7 574.3,370.9 574.5,366.3 574.7,369.1 574.9,366.2 575.1,368.1 575.3,366.0 575.5,373.8 575.7,364.2 575.9,371.4 576.1,367.3 576.3,369.2 576.5,366.8 576.7,370.5 576.9,362.5 577.1,370.2 577.3,367.0 577.5,370.0 577.7,366.9 577.9,370.3 578.1,367.1 578.3,368.6 578.5,367.0 578.7,368.3 578.9,366.5 579.1,369.0 579.3,366.5 579.5,369.8 579.7,366.4 579.9,371.6 580.1,366.1 580.3,369.9 580.5,365.0 580.7,368.6 580.9,364.6 581.1,369.4 581.3,367.1 581.5,370.3 581.7,366.9 581.9,369.5 582.1,364.5 582.3,370.2 582.5,365.4 582.7,369.2 582.9,364.1 583.1,369.9 583.3,366.1 583.5,368.7 583.7,364.3 583.9,368.9 584.1,366.9 584.3,368.2 584.5,367.6 584.7,372.4 584.9,367.6 585.1,369.8 585.3,367.3 585.5,371.1 585.7,367.6 585.9,369.4 586.1,366.2 586.3,368.2 586.5,367.7 586.7,370.0 586.9,368.2 587.1,368.6 587.3,364.6 587.5,370.6 587.7,366.8 587.9,369.5 588.1,367.5 588.3,368.7 588.5,367.3 588.7,371.4 588.9,366.0 589.1,369.3 589.3,367.1 589.5,368.6 589.7,367.4 589.9,368.7 590.1,365.9 590.3,369.4 590.5,367.5 590.7,369.5 590.9,367.6 591.1,368.3 591.3,367.0 591.5,368.8 591.7,367.9 591.9,367.9 592.1,368.4 592.3,368.6 592.5,366.6 592.7,368.4 592.9,366.8 593.1,369.8 593.3,367.3 593.5,371.0 593.7,367.5 593.9,369.5 594.1,367.2 594.3,368.0 594.5,367.7 594.7,368.7 594.9,368.1 595.1,369.2 595.3,366.6 595.5,369.1 595.7,365.7 595.9,369.5 596.1,365.4 596.3,368.2 596.5,367.2 596.7,367.8 596.9,365.3 597.1,369.7 597.3,367.0 597.5,369.9 597.7,367.5 597.9,368.9 598.1,367.0 598.3,370.1 598.5,368.1 598.7,367.9 598.9,367.6 599.1,370.0 599.3,367.2 599.5,367.9 599.7,367.5 599.9,369.3 600.1,367.5 600.3,368.5 600.5,367.4 600.7,368.2 600.9,368.4 601.1,368.2 601.3,368.0 601.5,368.1 601.7,367.2 601.9,369.4 602.1,368.0 602.3,370.0 602.5,367.1 602.7,369.0 602.9,366.8 603.1,369.5 603.3,367.2 603.5,368.1 603.7,367.0 603.9,368.4 604.1,367.4 604.3,369.9 604.5,366.5 604.7,369.0 604.9,368.4 605.1,368.2 605.3,368.1 605.5,368.3 605.7,367.1 605.9,369.1 606.1,367.6 606.3,368.4 606.5,367.9 606.7,368.9 606.9,365.4 607.1,369.4 607.3,367.7 607.5,369.1 607.7,367.9 607.9,367.8 608.1,367.0 608.3,368.9 608.5,367.7 608.7,369.3 608.9,367.7 609.1,367.8 609.3,366.2 609.5,369.1 609.7,367.5 609.9,369.0 610.1,366.7 610.3,369.0 610.5,368.5 610.7,369.4 610.9,367.6 611.1,368.8 611.3,367.1 611.5,369.8 611.7,367.5 611.9,369.0 612.1,366.6 612.3,368.1 612.5,365.8 612.7,368.4 612.9,367.2 613.1,369.6 613.3,367.9 613.5,369.1 613.7,366.1 613.9,368.8 614.1,366.7 614.3,368.6 614.5,367.3 614.7,367.6 614.9,368.1 615.1,369.0 615.3,367.1 615.5,368.2 615.7,367.8 615.9,368.6 616.1,367.8 616.3,368.0 616.5,367.6 616.7,367.9 616.9,366.2 617.1,369.0 617.3,365.8 617.5,370.7 617.7,366.8 617.9,370.0 618.1,368.1 618.3,367.9 618.5,365.4 618.7,369.2 618.9,367.9 619.1,369.3 619.3,363.7 619.5,370.6 619.7,367.5 619.9,369.2 620.1,365.9 620.3,368.1 620.5,364.8 620.7,372.5 620.9,368.0 621.1,374.9 621.3,363.6 621.5,368.9 621.7,367.8 621.9,374.5 622.1,360.4 622.3,377.1 622.5,361.7 622.7,373.2 622.9,358.5 623.1,358.0 623.3,378.0 623.5,373.2 623.7,363.4 623.9,369.7 624.1,366.5 624.3,370.6 624.5,364.3 624.7,371.5 624.9,363.8 625.1,371.6 625.3,365.6 625.5,371.7 625.7,366.7 625.9,370.2 626.1,365.0 626.3,368.4 626.5,365.9 626.7,369.0 626.9,365.8 627.1,370.1 627.3,367.7 627.5,369.4 627.7,368.3 627.9,369.6 628.1,367.1 628.3,369.9 628.4,366.2 628.6,370.8 628.8,362.7 629.0,370.3 629.2,366.7 629.4,368.4 629.6,367.5 629.8,374.5 630.0,365.7 630.2,368.8 630.4,362.9 630.6,369.5 630.8,361.7 631.0,368.3 631.2,359.4 631.4,370.1 631.6,367.3 631.8,370.1 632.0,365.9 632.2,368.1 632.4,366.1 632.6,368.8 632.8,363.6 633.0,368.2 633.2,367.7 633.4,369.0 633.6,367.8 633.8,369.0 634.0,365.8 634.2,367.8 634.4,365.8 634.6,369.3 634.8,363.6 635.0,370.6 635.2,366.8 635.4,370.8 635.6,366.6 635.8,368.7 636.0,362.5 636.2,371.1 636.4,364.2 636.6,367.8 636.8,367.1 637.0,368.5 637.2,366.9 637.4,370.5 637.6,365.5 637.8,369.7 638.0,368.0 638.2,369.1 638.4,366.4 638.6,369.5 638.8,367.6 639.0,368.7 639.2,366.2 639.4,372.1 639.6,367.3 639.8,370.6 640.0,366.1 640.2,368.3 640.4,367.2 640.6,368.7 640.8,367.1 641.0,369.8 641.2,365.8 641.4,368.5 641.6,367.7 641.8,370.1 642.0,367.6 642.2,369.2 642.4,366.6 642.6,368.8 642.8,366.0 643.0,369.2 643.2,367.2 643.4,370.4 643.6,366.8 643.8,369.5 644.0,366.8 644.2,370.9 644.4,364.0 644.6,369.6 644.8,367.6 645.0,371.4 645.2,367.4 645.4,368.8 645.6,365.3 645.8,368.9 646.0,367.3 646.2,369.4 646.4,367.8 646.6,371.8 646.8,367.2 647.0,369.3 647.2,367.3 647.4,368.2 647.6,365.4 647.8,369.2 648.0,366.1 648.2,368.7 648.4,366.0 648.6,369.8 648.8,366.1 649.0,371.6 649.2,363.6 649.4,369.1 649.6,367.7 649.8,370.7 650.0,355.0 650.2,375.0 650.4,366.8 650.6,370.3 650.8,364.4 651.0,369.0 651.2,365.8 651.4,368.5 651.6,365.6 651.8,368.9 652.0,364.7 652.2,368.3 652.4,363.2 652.6,368.3 652.8,367.3 653.0,368.0 653.2,366.9 653.4,370.5 653.6,365.8 653.8,368.5 654.0,367.9 654.2,369.3 654.4,367.1 654.6,370.9 654.8,365.7 655.0,367.8 655.2,364.5 655.4,369.9 655.6,366.5 655.8,368.7 656.0,366.1 656.2,367.7 656.4,367.5 656.6,368.6 656.8,367.6 657.0,370.6 657.2,365.4 657.4,371.5 657.6,366.8 657.8,371.5 658.0,364.6" fill="none" stroke="#0000ff" stroke-width="0.45" stroke-linejoin="round"/>
<text class="t" x="180.6" y="304.4" text-anchor="end">5</text>
<text class="t" x="180.6" y="376.9" text-anchor="end">0</text>
<text class="t" x="180.6" y="449.4" text-anchor="end">-5</text>
<text class="t" x="184.7" y="466.9" text-anchor="middle">00:00</text>
<text class="t" x="303.2" y="466.9" text-anchor="middle">06:00</text>
<text class="t" x="421.7" y="466.9" text-anchor="middle">12:00</text>
<text class="t" x="540.2" y="466.9" text-anchor="middle">18:00</text>
<text class="t" x="658.7" y="466.9" text-anchor="middle">24:00</text>
<text class="b t" transform="translate(151.2,368.6) rotate(-90)" text-anchor="middle">Y (nT)</text>
<g clip-path="url(#c1)"><g filter="url(#jet)" class="m">
<rect x="788.7" y="275.2" width="515.1" height="181.5" fill="#000"/>
<g transform="translate(808.7,295.2)">
<defs><linearGradient id="f1_1" gradientUnits="userSpaceOnUse" x1="0" y1="143.0" x2="0" y2="50.0"><stop offset="0" stop-color="#1a1a1a"/><stop offset="0.240" stop-color="#ffffff"/><stop offset="0.550" stop-color="#ffffff"/><stop offset="1" stop-color="#999999"/></linearGradient><linearGradient id="f1_7" gradientUnits="userSpaceOnUse" x1="0" y1="140.0" x2="0" y2="55.0"><stop offset="0" stop-color="#131313"/><stop offset="0.240" stop-color="#bfbfbf"/><stop offset="0.550" stop-color="#bfbfbf"/><stop offset="1" stop-color="#666666"/></linearGradient><linearGradient id="f1_8" gradientUnits="userSpaceOnUse" x1="0" y1="142.0" x2="0" y2="30.0"><stop offset="0" stop-color="#1a1a1a"/><stop offset="0.240" stop-color="#ffffff"/><stop offset="0.550" stop-color="#ffffff"/><stop offset="1" stop-color="#808080"/></linearGradient><linearGradient id="f1_10" gradientUnits="userSpaceOnUse" x1="0" y1="138.0" x2="0" y2="40.0"><stop offset="0" stop-color="#1a1a1a"/><stop offset="0.240" stop-color="#ffffff"/><stop offset="0.550" stop-color="#ffffff"/><stop offset="1" stop-color="#808080"/></linearGradient><linearGradient id="f1_14" gradientUnits="userSpaceOnUse" x1="0" y1="150.0" x2="0" y2="15.0"><stop offset="0" stop-color="#1a1a1a"/><stop offset="0.210" stop-color="#ffffff"/><stop offset="0.512" stop-color="#ffffff"/><stop offset="1" stop-color="#d9d9d9"/></linearGradient><linearGradient id="f1_15" gradientUnits="userSpaceOnUse" x1="0" y1="150.0" x2="0" y2="15.0"><stop offset="0" stop-color="#1a1a1a"/><stop offset="0.210" stop-color="#ffffff"/><stop offset="0.512" stop-color="#ffffff"/><stop offset="1" stop-color="#d9d9d9"/></linearGradient><linearGradient id="f1_16" gradientUnits="userSpaceOnUse" x1="0" y1="135.0" x2="0" y2="25.0"><stop offset="0" stop-color="#1a1a1a"/><stop offset="0.240" stop-color="#ffffff"/><stop offset="0.550" stop-color="#ffffff"/><stop offset="1" stop-color="#bfbfbf"/></linearGradient><linearGradient id="f1_17" gradientUnits="userSpaceOnUse" x1="0" y1="125.0" x2="0" y2="10.0"><stop offset="0" stop-color="#1a1a1a"/><stop offset="0.240" stop-color="#ffffff"/><stop offset="0.550" stop-color="#ffffff"/><stop offset="1" stop-color="#cccccc"/></linearGradient><linearGradient id="f1_27" gradientUnits="userSpaceOnUse" x1="0" y1="150.0" x2="0" y2="0.0"><stop offset="0" stop-color="#1a1a1a"/><stop offset="0.210" stop-color="#ffffff"/><stop offset="0.512" stop-color="#ffffff"/><stop offset="1" stop-color="#e6e6e6"/></linearGradient><linearGradient id="f1_28" gradientUnits="userSpaceOnUse" x1="0" y1="100.0" x2="0" y2="-10.0"><stop offset="0" stop-color="#1a1a1a"/><stop offset="0.240" stop-color="#ffffff"/><stop offset="0.550" stop-color="#ffffff"/><stop offset="1" stop-color="#d9d9d9"/></linearGradient><linearGradient id="f1_29" gradientUnits="userSpaceOnUse" x1="0" y1="150.0" x2="0" y2="55.0"><stop offset="0" stop-color="#1a1a1a"/><stop offset="0.210" stop-color="#ffffff"/><stop offset="0.512" stop-color="#ffffff"/><stop offset="1" stop-color="#999999"/></linearGradient><linearGradient id="f1_34" gradientUnits="userSpaceOnUse" x1="0" y1="122.0" x2="0" y2="25.0"><stop offset="0" stop-color="#1a1a1a"/><stop offset="0.240" stop-color="#ffffff"/><stop offset="0.550" stop-color="#ffffff"/><stop offset="1" stop-color="#cccccc"/></linearGradient><linearGradient id="f1_43" gradientUnits="userSpaceOnUse" x1="0" y1="150.0" x2="0" y2="95.0"><stop offset="0" stop-color="#161616"/><stop offset="0.240" stop-color="#d9d9d9"/><stop offset="0.550" stop-color="#d9d9d9"/><stop offset="1" stop-color="#999999"/></linearGradient><linearGradient id="f1_47" gradientUnits="userSpaceOnUse" x1="0" y1="112.0" x2="0" y2="45.0"><stop offset="0" stop-color="#171717"/><stop offset="0.240" stop-color="#e6e6e6"/><stop offset="0.550" stop-color="#e6e6e6"/><stop offset="1" stop-color="#999999"/></linearGradient><linearGradient id="f1_49" gradientUnits="userSpaceOnUse" x1="0" y1="142.0" x2="0" y2="25.0"><stop offset="0" stop-color="#1a1a1a"/><stop offset="0.210" stop-color="#ffffff"/><stop offset="0.512" stop-color="#ffffff"/><stop offset="1" stop-color="#b2b2b2"/></linearGradient><linearGradient id="f1_59" gradientUnits="userSpaceOnUse" x1="0" y1="146.0" x2="0" y2="60.0"><stop offset="0" stop-color="#131313"/><stop offset="0.240" stop-color="#bfbfbf"/><stop offset="0.550" stop-color="#bfbfbf"/><stop offset="1" stop-color="#666666"/></linearGradient><linearGradient id="f1_62" gradientUnits="userSpaceOnUse" x1="0" y1="142.0" x2="0" y2="65.0"><stop offset="0" stop-color="#0b0b0b"/><stop offset="0.240" stop-color="#6b6b6b"/><stop offset="0.550" stop-color="#6b6b6b"/><stop offset="1" stop-color="#333333"/></linearGradient><linearGradient id="f1_63" gradientUnits="userSpaceOnUse" x1="0" y1="130.0" x2="0" y2="55.0"><stop offset="0" stop-color="#0d0d0d"/><stop offset="0.240" stop-color="#808080"/><stop offset="0.550" stop-color="#808080"/><stop offset="1" stop-color="#4c4c4c"/></linearGradient><linearGradient id="f1_64" gradientUnits="userSpaceOnUse" x1="0" y1="152.0" x2="0" y2="25.0"><stop offset="0" stop-color="#1a1a1a"/><stop offset="0.180" stop-color="#ffffff"/><stop offset="0.475" stop-color="#ffffff"/><stop offset="1" stop-color="#cccccc"/></linearGradient><linearGradient id="f1_66" gradientUnits="userSpaceOnUse" x1="0" y1="140.0" x2="0" y2="55.0"><stop offset="0" stop-color="#141414"/><stop offset="0.240" stop-color="#cccccc"/><stop offset="0.550" stop-color="#cccccc"/><stop offset="1" stop-color="#808080"/></linearGradient><linearGradient id="f1_67" gradientUnits="userSpaceOnUse" x1="0" y1="140.0" x2="0" y2="60.0"><stop offset="0" stop-color="#0b0b0b"/><stop offset="0.240" stop-color="#6b6b6b"/><stop offset="0.550" stop-color="#6b6b6b"/><stop offset="1" stop-color="#333333"/></linearGradient><linearGradient id="f1_77" gradientUnits="userSpaceOnUse" x1="0" y1="150.0" x2="0" y2="55.0"><stop offset="0" stop-color="#0d0d0d"/><stop offset="0.180" stop-color="#808080"/><stop offset="0.475" stop-color="#808080"/><stop offset="1" stop-color="#404040"/></linearGradient><linearGradient id="f1_81" gradientUnits="userSpaceOnUse" x1="0" y1="140.0" x2="0" y2="70.0"><stop offset="0" stop-color="#0b0b0b"/><stop offset="0.240" stop-color="#6b6b6b"/><stop offset="0.550" stop-color="#6b6b6b"/><stop offset="1" stop-color="#333333"/></linearGradient><linearGradient id="f1_82" gradientUnits="userSpaceOnUse" x1="0" y1="142.0" x2="0" y2="70.0"><stop offset="0" stop-color="#0c0c0c"/><stop offset="0.240" stop-color="#787878"/><stop offset="0.550" stop-color="#787878"/><stop offset="1" stop-color="#404040"/></linearGradient><linearGradient id="f1_83" gradientUnits="userSpaceOnUse" x1="0" y1="152.0" x2="0" y2="75.0"><stop offset="0" stop-color="#141414"/><stop offset="0.240" stop-color="#c7c7c7"/><stop offset="0.550" stop-color="#c7c7c7"/><stop offset="1" stop-color="#6b6b6b"/></linearGradient><linearGradient id="f1_87" gradientUnits="userSpaceOnUse" x1="0" y1="140.0" x2="0" y2="80.0"><stop offset="0" stop-color="#040404"/><stop offset="0.240" stop-color="#2b2b2b"/><stop offset="0.550" stop-color="#2b2b2b"/><stop offset="1" stop-color="#0d0d0d"/></linearGradient><linearGradient id="f1_90" gradientUnits="userSpaceOnUse" x1="0" y1="140.0" x2="0" y2="60.0"><stop offset="0" stop-color="#0b0b0b"/><stop offset="0.240" stop-color="#6e6e6e"/><stop offset="0.550" stop-color="#6e6e6e"/><stop offset="1" stop-color="#333333"/></linearGradient><linearGradient id="f1_96" gradientUnits="userSpaceOnUse" x1="0" y1="145.0" x2="0" y2="85.0"><stop offset="0" stop-color="#0a0a0a"/><stop offset="0.240" stop-color="#666666"/><stop offset="0.550" stop-color="#666666"/><stop offset="1" stop-color="#333333"/></linearGradient><linearGradient id="f1_97" gradientUnits="userSpaceOnUse" x1="0" y1="118.0" x2="0" y2="38.0"><stop offset="0" stop-color="#0b0b0b"/><stop offset="0.240" stop-color="#737373"/><stop offset="0.550" stop-color="#737373"/><stop offset="1" stop-color="#333333"/></linearGradient><linearGradient id="f1_99" gradientUnits="userSpaceOnUse" x1="0" y1="108.0" x2="0" y2="60.0"><stop offset="0" stop-color="#080808"/><stop offset="0.240" stop-color="#4c4c4c"/><stop offset="0.550" stop-color="#4c4c4c"/><stop offset="1" stop-color="#262626"/></linearGradient><linearGradient id="f1_100" gradientUnits="userSpaceOnUse" x1="0" y1="148.0" x2="0" y2="78.0"><stop offset="0" stop-color="#0a0a0a"/><stop offset="0.240" stop-color="#616161"/><stop offset="0.550" stop-color="#616161"/><stop offset="1" stop-color="#333333"/></linearGradient><linearGradient id="f1_103" gradientUnits="userSpaceOnUse" x1="0" y1="150.0" x2="0" y2="55.0"><stop offset="0" stop-color="#131313"/><stop offset="0.240" stop-color="#bdbdbd"/><stop offset="0.550" stop-color="#bdbdbd"/><stop offset="1" stop-color="#595959"/></linearGradient></defs>
<g filter="url(#bl)"><path d="M20.0,50.0C20.2,77.9 25.9,82.4 25.9,105.8C25.8,128.1 23.5,143.0 19.5,143.0C15.5,143.0 13.4,128.1 13.5,105.8C13.5,82.4 19.5,77.9 20.0,50.0Z" fill="url(#f1_1)"/><path d="M31.7,55.0C31.9,80.5 35.7,84.6 35.7,106.0C35.7,126.4 34.3,140.0 31.7,140.0C29.1,140.0 27.7,126.4 27.7,106.0C27.7,84.6 31.5,80.5 31.7,55.0Z" fill="url(#f1_7)"/><path d="M41.5,30.0C42.0,63.6 47.6,69.0 47.6,97.2C47.7,124.1 45.8,142.0 42.0,142.0C38.2,142.0 36.1,124.1 36.0,97.2C36.0,69.0 41.3,63.6 41.5,30.0Z" fill="url(#f1_8)"/><path d="M52.0,40.0C55.3,69.4 64.1,74.1 64.1,98.8C66.3,122.3 66.6,138.0 63.0,138.0C59.4,138.0 55.3,122.3 53.1,98.8C53.1,74.1 54.6,69.4 52.0,40.0Z" fill="url(#f1_10)"/><path d="M72.5,15.0C72.9,58.9 77.6,65.9 77.6,102.8C77.7,131.1 76.1,150.0 73.0,150.0C69.9,150.0 68.1,131.1 68.0,102.8C68.0,65.9 72.4,58.9 72.5,15.0Z" fill="url(#f1_14)"/><path d="M80.5,15.0C81.2,58.9 86.5,65.9 86.5,102.8C86.7,131.1 85.2,150.0 82.0,150.0C78.8,150.0 76.7,131.1 76.5,102.8C76.5,65.9 80.6,58.9 80.5,15.0Z" fill="url(#f1_15)"/><path d="M90.0,25.0C90.3,58.0 94.2,63.3 94.2,91.0C94.2,117.4 92.7,135.0 90.0,135.0C87.3,135.0 85.8,117.4 85.8,91.0C85.8,63.3 89.7,58.0 90.0,25.0Z" fill="url(#f1_16)"/><path d="M95.5,10.0C95.9,44.5 100.0,50.0 100.0,79.0C100.1,106.6 98.7,125.0 96.0,125.0C93.3,125.0 91.7,106.6 91.6,79.0C91.6,50.0 95.4,44.5 95.5,10.0Z" fill="url(#f1_17)"/><path d="M78.0,128.0L80.0,150.0" stroke="#ffffff" stroke-width="14.0" stroke-linecap="round" fill="none"/><path d="M92.0,108.0L93.0,122.0" stroke="#ffffff" stroke-width="11.0" stroke-linecap="round" fill="none"/><path d="M102.5,0.0C103.2,48.8 108.5,56.6 108.5,97.5C108.7,129.0 107.2,150.0 104.0,150.0C100.8,150.0 98.7,129.0 98.5,97.5C98.5,56.6 102.6,48.8 102.5,0.0Z" fill="url(#f1_27)"/><path d="M109.2,-10.0C109.2,23.0 111.8,28.3 111.8,56.0C111.6,82.4 110.5,100.0 108.5,100.0C106.5,100.0 105.6,82.4 105.8,56.0C105.8,28.3 108.8,23.0 109.2,-10.0Z" fill="url(#f1_28)"/><path d="M115.0,55.0C114.9,85.9 119.5,90.8 119.5,116.8C119.3,136.7 117.1,150.0 113.5,150.0C109.9,150.0 108.3,136.7 108.5,116.8C108.5,90.8 114.2,85.9 115.0,55.0Z" fill="url(#f1_29)"/><path d="M108.0,122.0L108.0,150.0" stroke="#ffffff" stroke-width="15.0" stroke-linecap="round" fill="none"/><path d="M135.0,25.0C132.2,54.1 133.6,58.8 133.6,83.2C131.3,106.5 127.1,122.0 123.5,122.0C119.9,122.0 120.3,106.5 122.6,83.2C122.6,58.8 131.6,54.1 135.0,25.0Z" fill="url(#f1_34)"/><path d="M149.8,-10.0L149.8,150.0" stroke="#ffffff" stroke-width="8.4" stroke-linecap="round" fill="none"/><path d="M138.5,15.0L144.5,85.0" stroke="#ffffff" stroke-width="7.6" stroke-linecap="round" fill="none"/><path d="M150.5,100.0L150.5,150.0" stroke="#ffffff" stroke-width="15.0" stroke-linecap="round" fill="none"/><path d="M141.0,95.0C141.0,111.5 144.9,114.1 144.9,128.0C144.7,141.2 142.9,150.0 140.0,150.0C137.1,150.0 135.7,141.2 135.9,128.0C135.9,114.1 140.5,111.5 141.0,95.0Z" fill="url(#f1_43)"/><path d="M161.5,45.0C161.8,65.1 166.0,68.3 166.0,85.2C166.0,101.3 164.4,112.0 161.5,112.0C158.6,112.0 157.0,101.3 157.0,85.2C157.0,68.3 161.2,65.1 161.5,45.0Z" fill="url(#f1_47)"/><path d="M174.0,25.0C175.7,63.0 182.7,69.1 182.7,101.1C183.5,125.6 182.3,142.0 178.5,142.0C174.7,142.0 171.9,125.6 171.1,101.1C171.1,69.1 175.0,63.0 174.0,25.0Z" fill="url(#f1_49)"/><path d="M201.0,60.0C201.0,85.8 205.4,89.9 205.4,111.6C205.2,132.2 203.2,146.0 200.0,146.0C196.8,146.0 195.2,132.2 195.4,111.6C195.4,89.9 200.4,85.8 201.0,60.0Z" fill="url(#f1_59)"/><path d="M212.5,65.0C212.4,88.1 215.5,91.8 215.5,111.2C215.3,129.7 213.8,142.0 211.5,142.0C209.2,142.0 208.1,129.7 208.3,111.2C208.3,91.8 212.0,88.1 212.5,65.0Z" fill="url(#f1_62)"/><path d="M216.0,55.0C216.4,77.5 219.9,81.1 219.9,100.0C220.0,118.0 218.8,130.0 216.5,130.0C214.2,130.0 212.8,118.0 212.7,100.0C212.7,81.1 215.9,77.5 216.0,55.0Z" fill="url(#f1_63)"/><path d="M238.5,25.0C235.5,69.5 237.8,76.6 237.8,113.9C236.2,136.8 232.1,152.0 227.5,152.0C222.9,152.0 222.2,136.8 223.8,113.9C223.8,76.6 234.6,69.5 238.5,25.0Z" fill="url(#f1_64)"/><path d="M247.0,55.0C247.8,80.5 252.7,84.6 252.7,106.0C253.1,126.4 251.9,140.0 249.0,140.0C246.1,140.0 244.1,126.4 243.7,106.0C243.7,84.6 247.3,80.5 247.0,55.0Z" fill="url(#f1_66)"/><path d="M255.8,60.0C256.0,84.0 259.0,87.8 259.0,108.0C259.0,127.2 257.9,140.0 255.8,140.0C253.7,140.0 252.6,127.2 252.6,108.0C252.6,87.8 255.6,84.0 255.8,60.0Z" fill="url(#f1_67)"/><path d="M269.0,55.0C270.2,88.2 276.1,93.6 276.1,121.5C276.6,138.6 275.2,150.0 272.0,150.0C268.8,150.0 266.6,138.6 266.1,121.5C266.1,93.6 269.6,88.2 269.0,55.0Z" fill="url(#f1_77)"/><path d="M299.0,70.0C299.5,91.0 304.1,94.4 304.1,112.0C304.3,128.8 302.9,140.0 300.0,140.0C297.1,140.0 295.3,128.8 295.1,112.0C295.1,94.4 299.0,91.0 299.0,70.0Z" fill="url(#f1_81)"/><path d="M310.4,70.0C310.6,91.6 314.4,95.1 314.4,113.2C314.4,130.5 313.0,142.0 310.4,142.0C307.8,142.0 306.4,130.5 306.4,113.2C306.4,95.1 310.2,91.6 310.4,70.0Z" fill="url(#f1_82)"/><path d="M319.0,75.0C320.0,98.1 326.3,101.8 326.3,121.2C326.8,139.7 325.3,152.0 321.5,152.0C317.7,152.0 315.2,139.7 314.7,121.2C314.7,101.8 319.3,98.1 319.0,75.0Z" fill="url(#f1_83)"/><path d="M346.0,80.0C346.5,98.0 350.1,100.9 350.1,116.0C350.3,130.4 349.3,140.0 347.0,140.0C344.7,140.0 343.3,130.4 343.1,116.0C343.1,100.9 346.1,98.0 346.0,80.0Z" fill="url(#f1_87)"/><path d="M371.5,60.0C371.6,84.0 375.0,87.8 375.0,108.0C374.9,127.2 373.5,140.0 371.0,140.0C368.5,140.0 367.3,127.2 367.4,108.0C367.4,87.8 371.1,84.0 371.5,60.0Z" fill="url(#f1_90)"/><path d="M394.0,85.0C394.2,103.0 397.5,105.9 397.5,121.0C397.5,135.4 396.3,145.0 394.0,145.0C391.7,145.0 390.5,135.4 390.5,121.0C390.5,105.9 393.8,103.0 394.0,85.0Z" fill="url(#f1_96)"/><path d="M402.0,38.0C402.1,62.0 405.5,65.8 405.5,86.0C405.4,105.2 404.0,118.0 401.5,118.0C399.0,118.0 397.8,105.2 397.9,86.0C397.9,65.8 401.6,62.0 402.0,38.0Z" fill="url(#f1_97)"/><path d="M417.0,60.0C417.2,74.4 420.0,76.7 420.0,88.8C420.0,100.3 418.9,108.0 417.0,108.0C415.1,108.0 414.0,100.3 414.0,88.8C414.0,76.7 416.8,74.4 417.0,60.0Z" fill="url(#f1_99)"/><path d="M430.0,78.0C430.2,99.0 433.8,102.4 433.8,120.0C433.8,136.8 432.5,148.0 430.0,148.0C427.5,148.0 426.2,136.8 426.2,120.0C426.2,102.4 429.8,99.0 430.0,78.0Z" fill="url(#f1_100)"/><path d="M447.3,55.0C447.6,83.5 452.8,88.1 452.8,112.0C452.8,134.8 450.9,150.0 447.3,150.0C443.7,150.0 441.8,134.8 441.8,112.0C441.8,88.1 447.0,83.5 447.3,55.0Z" fill="url(#f1_103)"/></g>
<ellipse cx="108.0" cy="98.0" rx="104.0" ry="58.0" fill="url(#p20)"/>
<ellipse cx="16.0" cy="32.5" rx="3.0" ry="54.6" fill="url(#p55)" transform="rotate(-0.6 16.0 32.5)"/>
<ellipse cx="22.3" cy="32.5" rx="3.2" ry="54.6" fill="url(#p70)" transform="rotate(0.4 22.3 32.5)"/>
<ellipse cx="27.6" cy="27.5" rx="2.6" ry="48.9" fill="url(#p40)" transform="rotate(0.9 27.6 27.5)"/>
<ellipse cx="5.0" cy="47.5" rx="2.3" ry="37.4" fill="url(#p15)"/>
<ellipse cx="27.5" cy="130.0" rx="3.9" ry="12.2" fill="url(#p50)" transform="rotate(160.7 27.5 130.0)"/>
<ellipse cx="39.1" cy="22.5" rx="2.9" ry="43.1" fill="url(#p50)" transform="rotate(-1.4 39.1 22.5)"/>
<ellipse cx="51.1" cy="22.5" rx="2.6" ry="43.2" fill="url(#p40)" transform="rotate(-2.8 51.1 22.5)"/>
<ellipse cx="56.7" cy="25.0" rx="2.5" ry="12.0" fill="url(#p40)"/>
<ellipse cx="62.3" cy="20.0" rx="2.9" ry="40.2" fill="url(#p50)"/>
<ellipse cx="71.5" cy="22.5" rx="3.1" ry="43.1" fill="url(#p70)"/>
<ellipse cx="77.0" cy="22.5" rx="2.6" ry="43.1" fill="url(#p60)"/>
<ellipse cx="83.5" cy="30.0" rx="3.2" ry="51.7" fill="url(#p85)"/>
<ellipse cx="90.0" cy="22.5" rx="3.1" ry="43.1" fill="url(#p70)"/>
<ellipse cx="97.4" cy="22.5" rx="3.0" ry="43.1" fill="url(#p70)"/>
<ellipse cx="45.0" cy="138.0" rx="30.0" ry="6.0" fill="url(#p40)"/>
<ellipse cx="93.0" cy="138.0" rx="7.0" ry="8.0" fill="url(#p60)"/>
<ellipse cx="100.2" cy="20.0" rx="3.1" ry="40.2" fill="url(#p80)"/>
<ellipse cx="109.5" cy="32.5" rx="3.4" ry="54.6" fill="url(#p85)"/>
<ellipse cx="116.0" cy="32.5" rx="2.6" ry="54.6" fill="url(#p45)"/>
<ellipse cx="125.2" cy="15.0" rx="3.0" ry="34.5" fill="url(#p80)"/>
<ellipse cx="132.6" cy="17.5" rx="2.9" ry="37.4" fill="url(#p70)"/>
<ellipse cx="130.0" cy="107.0" rx="4.5" ry="9.0" fill="url(#p75)"/>
<ellipse cx="128.0" cy="128.0" rx="9.0" ry="14.0" fill="url(#p45)"/>
<ellipse cx="165.0" cy="125.0" rx="6.0" ry="16.0" fill="url(#p50)"/>
<ellipse cx="137.3" cy="12.5" rx="2.9" ry="31.6" fill="url(#p60)"/>
<ellipse cx="142.8" cy="7.5" rx="2.6" ry="25.9" fill="url(#p75)"/>
<ellipse cx="155.8" cy="30.0" rx="2.9" ry="51.7" fill="url(#p70)"/>
<ellipse cx="163.2" cy="27.5" rx="3.1" ry="48.9" fill="url(#p65)"/>
<ellipse cx="169.7" cy="22.5" rx="2.9" ry="43.1" fill="url(#p55)"/>
<ellipse cx="177.0" cy="17.5" rx="2.6" ry="37.4" fill="url(#p45)"/>
<ellipse cx="177.0" cy="134.0" rx="6.0" ry="10.0" fill="url(#p70)"/>
<ellipse cx="184.5" cy="100.0" rx="4.2" ry="40.4" fill="url(#p70)" transform="rotate(175.1 184.5 100.0)"/>
<ellipse cx="184.5" cy="17.5" rx="2.6" ry="37.4" fill="url(#p40)"/>
<ellipse cx="192.2" cy="40.0" rx="2.6" ry="40.3" fill="url(#p50)" transform="rotate(-1.2 192.2 40.0)"/>
<ellipse cx="189.5" cy="62.5" rx="3.1" ry="25.9" fill="url(#p40)" transform="rotate(-1.3 189.5 62.5)"/>
<ellipse cx="130.0" cy="138.0" rx="12.0" ry="6.0" fill="url(#p40)"/>
<ellipse cx="166.0" cy="138.0" rx="10.0" ry="6.0" fill="url(#p40)"/>
<ellipse cx="204.0" cy="32.5" rx="2.6" ry="54.6" fill="url(#p40)" transform="rotate(0.6 204.0 32.5)"/>
<ellipse cx="212.2" cy="30.0" rx="2.9" ry="51.8" fill="url(#p40)" transform="rotate(179.7 212.2 30.0)"/>
<ellipse cx="225.2" cy="86.0" rx="3.6" ry="29.9" fill="url(#p75)" transform="rotate(178.3 225.2 86.0)"/>
<ellipse cx="224.0" cy="38.0" rx="3.0" ry="34.5" fill="url(#p50)" transform="rotate(180.0 224.0 38.0)"/>
<ellipse cx="229.0" cy="33.5" rx="3.2" ry="32.8" fill="url(#p75)" transform="rotate(180.0 229.0 33.5)"/>
<ellipse cx="233.2" cy="22.5" rx="3.0" ry="43.1" fill="url(#p60)" transform="rotate(179.5 233.2 22.5)"/>
<ellipse cx="236.5" cy="17.5" rx="3.0" ry="37.4" fill="url(#p70)" transform="rotate(179.1 236.5 17.5)"/>
<ellipse cx="242.2" cy="28.5" rx="3.1" ry="50.0" fill="url(#p55)" transform="rotate(179.5 242.2 28.5)"/>
<ellipse cx="247.9" cy="40.5" rx="3.0" ry="43.1" fill="url(#p50)" transform="rotate(179.6 247.9 40.5)"/>
<ellipse cx="240.0" cy="136.0" rx="14.0" ry="8.0" fill="url(#p50)"/>
<ellipse cx="257.6" cy="35.0" rx="2.1" ry="23.0" fill="url(#p15)"/>
<ellipse cx="274.3" cy="21.5" rx="2.1" ry="21.3" fill="url(#p15)"/>
<ellipse cx="287.0" cy="97.5" rx="4.7" ry="48.9" fill="url(#p55)" transform="rotate(177.3 287.0 97.5)"/>
<ellipse cx="293.3" cy="37.5" rx="3.4" ry="66.1" fill="url(#p80)" transform="rotate(-179.7 293.3 37.5)"/>
<ellipse cx="299.0" cy="3.5" rx="2.6" ry="21.3" fill="url(#p50)"/>
<ellipse cx="318.0" cy="53.5" rx="3.1" ry="36.2" fill="url(#p45)" transform="rotate(179.1 318.0 53.5)"/>
<ellipse cx="317.8" cy="2.5" rx="2.3" ry="20.1" fill="url(#p35)"/>
<ellipse cx="321.7" cy="0.0" rx="2.3" ry="17.2" fill="url(#p40)"/>
<ellipse cx="352.0" cy="128.0" rx="5.0" ry="12.0" fill="url(#p20)"/>
<ellipse cx="362.0" cy="128.0" rx="8.0" ry="12.0" fill="url(#p30)"/>
<ellipse cx="363.2" cy="15.0" rx="2.2" ry="34.5" fill="url(#p40)"/>
<ellipse cx="378.8" cy="90.0" rx="3.9" ry="63.4" fill="url(#p40)" transform="rotate(176.6 378.8 90.0)"/>
<ellipse cx="386.8" cy="65.0" rx="3.2" ry="40.3" fill="url(#p45)" transform="rotate(178.0 386.8 65.0)"/>
<ellipse cx="389.8" cy="70.0" rx="3.1" ry="34.5" fill="url(#p45)" transform="rotate(-178.6 389.8 70.0)"/>
<ellipse cx="388.3" cy="88.0" rx="2.5" ry="12.0" fill="url(#p50)"/>
<ellipse cx="383.0" cy="134.0" rx="7.0" ry="11.0" fill="url(#p40)"/>
<ellipse cx="439.1" cy="38.5" rx="2.9" ry="61.5" fill="url(#p45)" transform="rotate(179.1 439.1 38.5)"/>
<ellipse cx="433.5" cy="1.5" rx="2.0" ry="19.0" fill="url(#p15)"/>
<ellipse cx="457.4" cy="40.0" rx="2.9" ry="63.3" fill="url(#p50)" transform="rotate(179.9 457.4 40.0)"/>
<ellipse cx="453.0" cy="55.0" rx="2.1" ry="19.5" fill="url(#p25)"/>
<ellipse cx="463.3" cy="124.0" rx="3.0" ry="12.0" fill="url(#p20)"/>
</g></g></g>
<path d="M808.7,295.7h5M1283.8,295.7h-5M808.7,312.6h5M1283.8,312.6h-5M808.7,333.2h5M1283.8,333.2h-5M808.7,358.4h5M1283.8,358.4h-5M808.7,390.9h5M1283.8,390.9h-5M808.7,436.2h5M1283.8,436.2h-5M927.5,436.7v-5M927.5,295.2v5M1046.2,436.7v-5M1046.2,295.2v5M1165.0,436.7v-5M1165.0,295.2v5" stroke="#00003c" stroke-width="1" fill="none" opacity="0.8"/>
<text class="t" x="804.8" y="305.3" text-anchor="end">7</text>
<text class="t" x="804.8" y="322.4" text-anchor="end">6</text>
<text class="t" x="804.8" y="342.6" text-anchor="end">5</text>
<text class="t" x="804.8" y="367.3" text-anchor="end">4</text>
<text class="t" x="804.8" y="399.1" text-anchor="end">3</text>
<text class="t" x="804.8" y="444.1" text-anchor="end">2</text>
<text class="t" x="808.9" y="463.1" text-anchor="middle">00:00</text>
<text class="t" x="927.7" y="463.1" text-anchor="middle">06:00</text>
<text class="t" x="1046.5" y="463.1" text-anchor="middle">12:00</text>
<text class="t" x="1165.2" y="463.1" text-anchor="middle">18:00</text>
<text class="t" x="1284.0" y="463.1" text-anchor="middle">00:00</text>
<text class="b t" transform="translate(782.6,366.7) rotate(-90)" text-anchor="middle">freq (mHz)</text>
<rect x="1302.2" y="295.4" width="25.6" height="142.3" fill="url(#cb)"/>
<path d="M1302.2,319.1h3M1327.8,319.1h-3" stroke="#400" stroke-width="1" opacity="0.7"/>
<text class="t" x="1331" y="328.1">5</text>
<text class="t" x="1331" y="445.9">0</text>
<text class="b t" transform="translate(1364.6,426.6) rotate(-90)">log<tspan class="s" dy="10">2</tspan><tspan dy="-10" dx="0.8">(nT</tspan><tspan class="s" dy="-11.4">2</tspan><tspan dy="11.4" dx="0.8">/Hz)</tspan></text>
<g stroke="#acacac" stroke-width="1" fill="none">
<rect x="184.5" y="531.5" width="474.0" height="145.0"/>
<path d="M302.5,676.5v-5M302.5,531.5v5M421.5,676.5v-5M421.5,531.5v5M540.5,676.5v-5M540.5,531.5v5M184.5,604.0h5M658.5,604.0h-5"/>
</g>
<path d="M185.0,604.2 185.2,603.9 185.4,603.2 185.6,603.8 185.8,605.2 186.0,604.0 186.2,605.1 186.4,602.9 186.6,605.7 186.8,603.3 187.0,604.3 187.2,602.2 187.4,604.4 187.6,603.9 187.8,605.0 188.0,603.8 188.2,604.2 188.4,602.7 188.6,604.4 188.8,604.2 189.0,605.5 189.2,602.9 189.4,604.4 189.6,604.0 189.8,604.0 190.0,603.8 190.2,605.5 190.4,603.8 190.6,604.8 190.8,602.6 191.0,603.6 191.2,602.2 191.4,604.5 191.6,603.4 191.8,604.4 192.0,603.8 192.2,604.6 192.4,603.1 192.6,604.6 192.8,604.7 193.0,604.3 193.2,603.4 193.4,604.8 193.6,603.7 193.8,605.4 194.0,603.9 194.2,604.8 194.4,604.0 194.6,604.4 194.8,603.5 195.0,603.9 195.2,603.9 195.4,604.3 195.6,604.0 195.8,605.4 196.0,603.0 196.2,604.3 196.4,603.7 196.6,604.6 196.8,603.8 197.0,603.9 197.2,603.8 197.4,605.2 197.6,604.1 197.8,604.3 198.0,603.0 198.2,604.8 198.4,603.2 198.6,605.2 198.8,601.1 199.0,605.3 199.2,602.9 199.4,604.8 199.6,603.6 199.8,605.8 200.0,603.3 200.2,604.6 200.4,602.8 200.6,604.5 200.8,602.9 201.0,605.2 201.2,602.7 201.4,605.0 201.6,603.1 201.8,604.5 202.0,603.5 202.2,608.2 202.4,601.9 202.6,604.2 202.8,603.2 203.0,607.9 203.2,600.9 203.4,608.5 203.6,602.8 203.8,607.1 204.0,602.7 204.2,604.7 204.4,602.4 204.6,606.0 204.8,603.3 205.0,605.4 205.2,602.8 205.4,605.1 205.6,603.8 205.8,604.9 206.0,603.7 206.2,606.7 206.4,603.3 206.6,607.2 206.8,604.1 207.0,603.6 207.2,599.7 207.4,604.8 207.6,601.2 207.8,605.1 208.0,603.1 208.2,605.3 208.4,603.0 208.6,604.6 208.8,602.3 209.0,604.6 209.2,601.4 209.4,604.9 209.6,602.2 209.8,606.0 210.0,602.5 210.2,604.1 210.4,601.7 210.6,606.0 210.8,600.7 211.0,604.7 211.2,601.9 211.4,605.2 211.6,603.5 211.8,604.3 212.0,601.8 212.2,605.5 212.4,603.3 212.6,605.7 212.8,603.0 213.0,605.0 213.2,602.5 213.4,604.9 213.6,603.2 213.8,606.7 214.0,603.5 214.2,605.3 214.4,602.3 214.6,604.5 214.7,602.8 214.9,604.4 215.1,603.5 215.3,604.0 215.5,602.8 215.7,604.8 215.9,600.7 216.1,605.0 216.3,603.0 216.5,604.3 216.7,603.7 216.9,605.3 217.1,603.0 217.3,605.6 217.5,602.4 217.7,605.6 217.9,602.5 218.1,604.9 218.3,603.6 218.5,604.2 218.7,603.2 218.9,604.3 219.1,602.3 219.3,605.8 219.5,602.8 219.7,606.0 219.9,602.4 220.1,605.7 220.3,603.7 220.5,604.6 220.7,602.8 220.9,604.4 221.1,603.4 221.3,605.4 221.5,602.2 221.7,605.2 221.9,603.7 222.1,605.6 222.3,603.9 222.5,604.7 222.7,603.6 222.9,604.6 223.1,603.9 223.3,605.6 223.5,603.4 223.7,606.5 223.9,604.4 224.1,604.5 224.3,602.6 224.5,603.9 224.7,602.3 224.9,605.3 225.1,602.4 225.3,604.3 225.5,604.3 225.7,606.8 225.9,598.2 226.1,605.4 226.3,600.2 226.5,609.3 226.7,603.8 226.9,605.4 227.1,597.9 227.3,610.7 227.5,603.9 227.7,606.0 227.9,602.2 228.1,604.8 228.3,600.0 228.5,610.0 228.7,602.7 228.9,605.8 229.1,602.3 229.3,605.6 229.5,600.9 229.7,603.8 229.9,603.1 230.1,606.7 230.3,600.6 230.5,605.2 230.7,603.0 230.9,604.0 231.1,603.5 231.3,604.2 231.5,600.7 231.7,605.1 231.9,600.5 232.1,605.5 232.3,602.4 232.5,605.8 232.7,602.3 232.9,604.2 233.1,602.0 233.3,605.2 233.5,602.8 233.7,604.4 233.9,602.2 234.1,604.8 234.3,603.8 234.5,605.0 234.7,602.3 234.9,604.7 235.1,602.4 235.3,605.3 235.5,603.1 235.7,603.9 235.9,603.7 236.1,605.0 236.3,601.5 236.5,604.0 236.7,601.9 236.9,604.0 237.1,601.3 237.3,604.7 237.5,602.6 237.7,604.6 237.9,604.2 238.1,605.3 238.3,604.0 238.5,605.2 238.7,604.2 238.9,604.0 239.1,601.8 239.3,604.7 239.5,602.8 239.7,607.1 239.9,601.1 240.1,605.0 240.3,602.8 240.5,606.1 240.7,604.0 240.9,605.7 241.1,603.4 241.3,604.0 241.5,603.0 241.7,606.8 241.9,603.4 242.1,607.6 242.3,603.6 242.5,604.8 242.7,604.0 242.9,604.2 243.1,602.6 243.3,605.4 243.5,603.6 243.7,604.5 243.9,602.7 244.1,605.4 244.3,602.3 244.5,605.8 244.7,602.4 244.9,604.8 245.1,600.6 245.3,605.5 245.5,603.3 245.7,605.5 245.9,602.6 246.1,604.8 246.3,603.3 246.5,604.9 246.7,601.8 246.9,604.2 247.1,603.9 247.3,604.8 247.5,601.7 247.7,605.2 247.9,602.2 248.1,604.2 248.3,604.0 248.5,604.6 248.7,602.9 248.9,605.9 249.1,602.9 249.3,605.8 249.5,603.1 249.7,605.6 249.9,603.3 250.1,604.4 250.3,604.3 250.5,605.2 250.7,603.5 250.9,604.6 251.1,602.8 251.3,604.6 251.5,603.1 251.7,604.6 251.9,602.4 252.1,604.4 252.3,603.2 252.5,605.1 252.7,603.3 252.9,606.2 253.1,604.6 253.3,605.0 253.5,603.9 253.7,607.5 253.9,602.4 254.1,605.0 254.3,602.5 254.5,605.7 254.7,601.2 254.9,605.6 255.1,600.9 255.3,606.3 255.5,603.5 255.7,605.7 255.9,599.4 256.1,605.7 256.3,601.2 256.5,604.3 256.7,601.4 256.9,607.5 257.1,603.7 257.3,607.7 257.5,600.7 257.7,609.2 257.9,603.1 258.1,606.3 258.3,600.2 258.5,603.6 258.7,601.5 258.9,604.4 259.1,603.2 259.3,605.3 259.5,604.3 259.7,606.4 259.9,603.7 260.1,611.2 260.3,602.5 260.5,608.0 260.7,598.2 260.9,605.0 261.1,601.9 261.3,607.4 261.5,601.2 261.7,604.2 261.9,601.3 262.1,609.5 262.3,602.7 262.5,605.9 262.7,598.6 262.9,604.5 263.1,598.7 263.3,603.8 263.5,603.8 263.7,609.2 263.9,602.0 264.1,604.7 264.3,599.3 264.5,609.9 264.7,600.6 264.9,604.6 265.1,601.9 265.3,607.8 265.5,602.6 265.7,605.9 265.9,602.1 266.1,609.9 266.3,603.3 266.5,606.0 266.7,601.0 266.9,605.1 267.1,600.3 267.3,606.8 267.5,602.8 267.7,605.1 267.9,600.0 268.1,609.6 268.3,597.7 268.5,606.9 268.7,600.9 268.9,604.3 269.1,601.7 269.3,606.1 269.5,603.5 269.7,607.7 269.9,603.0 270.1,605.0 270.3,601.6 270.5,605.5 270.7,603.8 270.9,604.3 271.1,600.3 271.3,609.0 271.5,603.5 271.7,606.4 271.9,602.5 272.1,608.1 272.3,602.1 272.5,606.6 272.7,603.8 272.9,607.6 273.1,601.9 273.3,604.3 273.5,600.8 273.7,606.2 273.8,604.0 274.0,604.7 274.2,603.0 274.4,605.9 274.6,598.1 274.8,606.1 275.0,603.0 275.2,604.7 275.4,599.4 275.6,604.8 275.8,604.0 276.0,604.6 276.2,604.2 276.4,608.6 276.6,602.7 276.8,605.2 277.0,602.6 277.2,607.4 277.4,603.4 277.6,607.6 277.8,600.9 278.0,606.1 278.2,602.5 278.4,607.2 278.6,602.8 278.8,605.0 279.0,602.6 279.2,605.2 279.4,601.9 279.6,605.5 279.8,602.8 280.0,604.0 280.2,603.7 280.4,604.5 280.6,600.9 280.8,605.0 281.0,602.1 281.2,605.5 281.4,602.0 281.6,604.6 281.8,602.9 282.0,605.6 282.2,602.0 282.4,604.1 282.6,602.5 282.8,604.3 283.0,603.5 283.2,608.7 283.4,602.9 283.6,607.6 283.8,604.1 284.0,607.6 284.2,600.9 284.4,606.9 284.6,602.6 284.8,605.5 285.0,602.7 285.2,605.1 285.4,599.9 285.6,609.8 285.8,601.8 286.0,607.0 286.2,603.6 286.4,605.6 286.6,602.2 286.8,603.9 287.0,599.7 287.2,606.2 287.4,598.7 287.6,607.2 287.8,601.1 288.0,607.3 288.2,602.9 288.4,609.8 288.6,601.8 288.8,606.2 289.0,601.9 289.2,605.3 289.4,603.5 289.6,605.7 289.8,604.1 290.0,606.9 290.2,603.7 290.4,604.0 290.6,601.8 290.8,606.7 291.0,601.8 291.2,606.0 291.4,600.4 291.6,604.9 291.8,602.1 292.0,606.3 292.2,601.4 292.4,604.2 292.6,603.7 292.8,606.3 293.0,604.1 293.2,604.3 293.4,600.9 293.6,605.2 293.8,601.5 294.0,605.5 294.2,603.7 294.4,607.0 294.6,601.0 294.8,604.0 295.0,604.5 295.2,608.5 295.4,598.4 295.6,604.5 295.8,603.7 296.0,605.0 296.2,601.9 296.4,608.1 296.6,603.9 296.8,605.8 297.0,603.4 297.2,604.4 297.4,598.9 297.6,606.4 297.8,601.1 298.0,607.8 298.2,603.5 298.4,604.2 298.6,603.0 298.8,604.1 299.0,599.4 299.2,608.1 299.4,602.7 299.6,604.5 299.8,600.3 300.0,606.0 300.2,601.2 300.4,605.6 300.6,602.0 300.8,606.7 301.0,600.9 301.2,605.1 301.4,603.1 301.6,605.0 301.8,599.6 302.0,606.9 302.2,603.7 302.4,605.8 302.6,600.0 302.8,606.4 303.0,603.4 303.2,605.0 303.4,600.4 303.6,605.2 303.8,603.4 304.0,604.3 304.2,602.0 304.4,604.1 304.6,603.2 304.8,605.5 305.0,603.3 305.2,604.8 305.4,602.0 305.6,605.1 305.8,603.4 306.0,604.1 306.2,603.6 306.4,605.6 306.6,603.1 306.8,604.2 307.0,603.1 307.2,605.4 307.4,603.6 307.6,604.3 307.8,603.5 308.0,606.1 308.2,604.1 308.4,604.2 308.6,603.7 308.8,607.4 309.0,602.5 309.2,606.2 309.4,603.4 309.6,605.1 309.8,600.7 310.0,604.9 310.2,603.0 310.4,607.5 310.6,600.8 310.8,608.4 311.0,600.2 311.2,604.0 311.4,601.7 311.6,604.7 311.8,603.6 312.0,604.2 312.2,600.2 312.4,608.2 312.6,603.0 312.8,604.0 313.0,598.2 313.2,606.4 313.4,603.6 313.6,609.4 313.8,602.5 314.0,607.6 314.2,601.9 314.4,609.6 314.6,603.3 314.8,607.4 315.0,598.1 315.2,606.5 315.4,600.8 315.6,606.1 315.8,602.9 316.0,606.0 316.2,603.1 316.4,604.5 316.6,601.6 316.8,605.2 317.0,600.3 317.2,608.4 317.4,601.6 317.6,607.1 317.8,602.3 318.0,610.4 318.2,600.2 318.4,605.2 318.6,603.2 318.8,605.6 319.0,603.8 319.2,608.1 319.4,599.9 319.6,605.4 319.8,600.3 320.0,606.4 320.2,598.2 320.4,605.4 320.6,598.5 320.8,605.6 321.0,603.6 321.2,605.2 321.4,600.3 321.6,605.8 321.8,602.2 322.0,604.1 322.2,597.0 322.4,605.3 322.6,602.0 322.8,608.6 323.0,597.7 323.2,605.5 323.4,603.5 323.6,604.9 323.8,602.9 324.0,605.5 324.2,602.7 324.4,604.4 324.6,601.9 324.8,604.3 325.0,603.1 325.2,605.3 325.4,603.9 325.6,604.5 325.8,599.7 326.0,605.7 326.2,602.9 326.4,604.6 326.6,599.9 326.8,606.1 327.0,600.6 327.2,605.7 327.4,601.9 327.6,604.2 327.8,603.0 328.0,605.4 328.2,602.3 328.4,607.5 328.6,603.8 328.8,610.0 329.0,601.3 329.2,608.1 329.4,600.8 329.6,609.5 329.8,603.3 330.0,607.3 330.2,603.3 330.4,605.8 330.6,603.1 330.8,607.6 331.0,603.4 331.2,610.6 331.4,602.5 331.6,610.6 331.8,601.1 332.0,606.7 332.2,596.6 332.4,607.0 332.6,600.3 332.8,605.3 332.9,602.2 333.1,611.4 333.3,599.7 333.5,603.7 333.7,597.6 333.9,605.7 334.1,602.5 334.3,603.8 334.5,600.6 334.7,604.7 334.9,600.1 335.1,613.9 335.3,600.5 335.5,611.7 335.7,593.0 335.9,617.4 336.1,602.7 336.3,615.6 336.5,603.7 336.7,614.1 336.9,601.7 337.1,612.2 337.3,602.3 337.5,612.4 337.7,601.9 337.9,607.8 338.1,601.7 338.3,610.1 338.5,597.9 338.7,604.4 338.9,602.1 339.1,607.9 339.3,603.1 339.5,606.0 339.7,601.6 339.9,604.9 340.1,604.1 340.3,605.1 340.5,601.4 340.7,604.9 340.9,598.1 341.1,604.6 341.3,600.3 341.5,607.4 341.7,603.0 341.9,603.9 342.1,601.0 342.3,604.5 342.5,602.4 342.7,605.1 342.9,603.0 343.1,609.0 343.3,600.8 343.5,608.9 343.7,603.0 343.9,603.6 344.1,600.0 344.3,604.8 344.5,602.1 344.7,605.8 344.9,602.3 345.1,604.6 345.3,602.7 345.5,608.1 345.7,600.9 345.9,610.3 346.1,596.0 346.3,608.9 346.5,601.6 346.7,611.0 346.9,596.4 347.1,605.9 347.3,597.3 347.5,607.4 347.7,601.0 347.9,608.2 348.1,602.8 348.3,606.3 348.5,602.4 348.7,605.9 348.9,603.4 349.1,605.3 349.3,600.7 349.5,607.2 349.7,603.4 349.9,604.4 350.1,603.9 350.3,606.2 350.5,601.4 350.7,604.6 350.9,600.3 351.1,606.6 351.3,602.9 351.5,609.3 351.7,598.7 351.9,610.4 352.1,602.6 352.3,604.4 352.5,603.2 352.7,605.2 352.9,602.1 353.1,607.4 353.3,601.4 353.5,605.7 353.7,603.1 353.9,604.8 354.1,603.2 354.3,608.0 354.5,602.3 354.7,607.0 354.9,600.9 355.1,605.0 355.3,598.0 355.5,604.6 355.7,597.5 355.9,606.1 356.1,602.3 356.3,606.2 356.5,600.2 356.7,607.9 356.9,599.3 357.1,605.4 357.3,599.2 357.5,609.6 357.7,598.7 357.9,605.1 358.1,599.3 358.3,604.3 358.5,598.5 358.7,606.2 358.9,600.1 359.1,609.8 359.3,600.1 359.5,605.1 359.7,601.0 359.9,605.9 360.1,601.1 360.3,608.7 360.5,602.6 360.7,604.6 360.9,599.5 361.1,606.7 361.3,601.3 361.5,604.4 361.7,601.9 361.9,605.3 362.1,600.8 362.3,607.9 362.5,599.4 362.7,608.0 362.9,602.2 363.1,604.8 363.3,601.0 363.5,607.0 363.7,602.6 363.9,605.6 364.1,598.6 364.3,607.0 364.5,599.6 364.7,608.7 364.9,603.6 365.1,604.6 365.3,603.5 365.5,605.1 365.7,602.6 365.9,606.1 366.1,603.5 366.3,605.6 366.5,602.6 366.7,605.5 366.9,602.6 367.1,605.9 367.3,603.7 367.5,604.6 367.7,600.7 367.9,606.4 368.1,601.3 368.3,605.6 368.5,601.1 368.7,605.6 368.9,603.2 369.1,607.4 369.3,602.2 369.5,606.8 369.7,600.1 369.9,605.3 370.1,602.5 370.3,606.8 370.5,602.2 370.7,604.5 370.9,603.5 371.1,607.1 371.3,601.0 371.5,605.0 371.7,601.2 371.9,605.6 372.1,603.2 372.3,604.7 372.5,601.7 372.7,604.6 372.9,603.3 373.1,606.0 373.3,603.4 373.5,605.5 373.7,602.1 373.9,604.5 374.1,602.8 374.3,605.2 374.5,603.3 374.7,604.2 374.9,602.0 375.1,606.3 375.3,603.7 375.5,604.2 375.7,601.5 375.9,606.0 376.1,603.9 376.3,604.7 376.5,601.7 376.7,605.2 376.9,603.1 377.1,604.7 377.3,603.1 377.5,606.1 377.7,602.8 377.9,604.6 378.1,603.0 378.3,606.9 378.5,604.3 378.7,604.1 378.9,602.9 379.1,604.3 379.3,603.5 379.5,605.7 379.7,603.9 379.9,604.9 380.1,603.4 380.3,604.8 380.5,603.7 380.7,605.1 380.9,602.4 381.1,604.5 381.3,602.6 381.5,606.2 381.7,603.4 381.9,604.0 382.1,601.6 382.3,606.5 382.5,602.7 382.7,604.0 382.9,603.2 383.1,604.7 383.3,603.2 383.5,604.2 383.7,603.6 383.9,604.8 384.1,602.0 384.3,612.0 384.5,603.4 384.7,606.0 384.9,603.3 385.1,609.5 385.3,603.7 385.5,605.8 385.7,603.1 385.9,608.5 386.1,603.5 386.3,604.4 386.5,602.8 386.7,606.1 386.9,603.2 387.1,604.4 387.3,603.4 387.5,603.7 387.7,603.1 387.9,604.0 388.1,604.4 388.3,604.5 388.5,604.5 388.7,604.4 388.9,603.3 389.1,604.1 389.3,602.4 389.5,605.3 389.7,601.8 389.9,604.7 390.1,604.0 390.3,606.1 390.5,603.0 390.7,604.2 390.9,602.8 391.1,604.5 391.3,602.8 391.5,606.3 391.7,602.4 391.9,604.6 392.0,603.5 392.2,604.1 392.4,604.1 392.6,604.2 392.8,603.3 393.0,605.0 393.2,603.6 393.4,604.4 393.6,604.0 393.8,603.9 394.0,603.7 394.2,604.7 394.4,603.1 394.6,603.8 394.8,602.9 395.0,605.0 395.2,603.6 395.4,604.0 395.6,603.6 395.8,605.1 396.0,603.4 396.2,606.2 396.4,603.0 396.6,604.7 396.8,602.4 397.0,604.1 397.2,603.5 397.4,603.7 397.6,602.8 397.8,604.9 398.0,602.8 398.2,605.4 398.4,603.0 398.6,605.6 398.8,603.6 399.0,605.5 399.2,603.4 399.4,604.0 399.6,602.7 399.8,604.6 400.0,602.9 400.2,603.8 400.4,603.5 400.6,604.3 400.8,603.5 401.0,605.2 401.2,603.4 401.4,604.7 401.6,602.8 401.8,605.4 402.0,603.4 402.2,605.9 402.4,604.1 402.6,604.7 402.8,603.8 403.0,603.9 403.2,603.7 403.4,604.3 403.6,604.2 403.8,604.3 404.0,603.4 404.2,604.6 404.4,603.1 404.6,604.7 404.8,603.8 405.0,606.5 405.2,603.4 405.4,604.5 405.6,604.3 405.8,605.1 406.0,603.3 406.2,604.8 406.4,602.1 406.6,604.7 406.8,604.0 407.0,604.2 407.2,603.9 407.4,604.2 407.6,602.3 407.8,604.0 408.0,603.3 408.2,604.7 408.4,603.3 408.6,604.9 408.8,603.0 409.0,604.2 409.2,603.2 409.4,604.6 409.6,603.1 409.8,605.2 410.0,602.6 410.2,603.7 410.4,602.2 410.6,606.2 410.8,603.8 411.0,605.6 411.2,603.2 411.4,605.5 411.6,601.9 411.8,605.2 412.0,602.2 412.2,605.5 412.4,603.8 412.6,605.0 412.8,600.3 413.0,607.2 413.2,600.6 413.4,606.1 413.6,603.8 413.8,605.3 414.0,601.2 414.2,605.6 414.4,603.5 414.6,603.7 414.8,601.3 415.0,605.4 415.2,603.1 415.4,605.3 415.6,602.9 415.8,606.1 416.0,602.3 416.2,603.6 416.4,603.3 416.6,605.9 416.8,601.5 417.0,604.9 417.2,600.7 417.4,604.4 417.6,603.5 417.8,604.1 418.0,601.5 418.2,605.5 418.4,602.3 418.6,605.3 418.8,603.3 419.0,604.8 419.2,602.6 419.4,604.6 419.6,602.1 419.8,605.4 420.0,601.9 420.2,605.6 420.4,603.5 420.6,607.0 420.8,603.3 421.0,604.8 421.2,603.2 421.4,604.2 421.6,603.7 421.8,604.7 422.0,601.7 422.2,606.2 422.4,603.0 422.6,604.8 422.8,602.8 423.0,606.2 423.2,601.1 423.4,604.8 423.6,602.9 423.8,605.5 424.0,601.8 424.2,608.4 424.4,603.4 424.6,605.8 424.8,603.8 425.0,606.3 425.2,603.9 425.4,606.5 425.6,600.4 425.8,607.3 426.0,601.7 426.2,605.9 426.4,603.1 426.6,605.2 426.8,603.8 427.0,605.7 427.2,602.3 427.4,607.6 427.6,603.4 427.8,603.6 428.0,602.4 428.2,604.4 428.4,603.0 428.6,604.4 428.8,604.0 429.0,605.3 429.2,602.6 429.4,606.4 429.6,602.5 429.8,606.6 430.0,603.3 430.2,605.5 430.4,602.7 430.6,604.8 430.8,602.9 431.0,604.6 431.2,603.7 431.4,604.9 431.6,603.4 431.8,606.8 432.0,604.0 432.2,605.4 432.4,603.3 432.6,604.1 432.8,602.5 433.0,604.8 433.2,603.2 433.4,604.6 433.6,603.8 433.8,605.4 434.0,603.0 434.2,604.7 434.4,603.5 434.6,605.0 434.8,604.3 435.0,604.5 435.2,603.2 435.4,605.7 435.6,603.0 435.8,605.8 436.0,603.1 436.2,603.6 436.4,601.5 436.6,605.6 436.8,603.5 437.0,605.3 437.2,601.8 437.4,604.0 437.6,603.6 437.8,603.8 438.0,603.5 438.2,604.6 438.4,603.6 438.6,604.7 438.8,602.9 439.0,604.2 439.2,603.4 439.4,604.7 439.6,603.4 439.8,606.1 440.0,603.7 440.2,604.6 440.4,603.7 440.6,604.6 440.8,603.1 441.0,604.3 441.2,603.1 441.4,604.3 441.6,604.2 441.8,604.4 442.0,604.3 442.2,604.3 442.4,603.0 442.6,605.2 442.8,603.6 443.0,606.6 443.2,603.5 443.4,605.1 443.6,603.8 443.8,605.8 444.0,603.1 444.2,604.4 444.4,603.4 444.6,605.4 444.8,603.1 445.0,605.8 445.2,602.8 445.4,604.5 445.6,603.5 445.8,604.5 446.0,602.6 446.2,604.1 446.4,603.1 446.6,604.4 446.8,601.6 447.0,604.8 447.2,603.5 447.4,604.6 447.6,603.7 447.8,605.6 448.0,603.4 448.2,604.0 448.4,603.3 448.6,605.2 448.8,603.5 449.0,605.1 449.2,603.2 449.4,605.0 449.6,603.2 449.8,604.2 450.0,603.3 450.2,603.9 450.4,602.3 450.6,604.6 450.8,602.9 451.0,605.6 451.1,603.1 451.3,604.6 451.5,603.0 451.7,604.4 451.9,602.0 452.1,603.8 452.3,601.9 452.5,604.1 452.7,603.2 452.9,604.6 453.1,603.6 453.3,604.9 453.5,603.2 453.7,605.3 453.9,603.5 454.1,604.0 454.3,603.7 454.5,604.7 454.7,604.2 454.9,604.3 455.1,603.1 455.3,604.4 455.5,603.7 455.7,603.7 455.9,603.7 456.1,604.6 456.3,603.2 456.5,604.3 456.7,603.5 456.9,604.3 457.1,603.9 457.3,605.1 457.5,602.5 457.7,603.9 457.9,601.5 458.1,604.6 458.3,603.0 458.5,604.2 458.7,603.7 458.9,604.4 459.1,603.6 459.3,603.9 459.5,603.9 459.7,604.5 459.9,603.9 460.1,604.6 460.3,602.9 460.5,604.9 460.7,604.2 460.9,604.7 461.1,602.3 461.3,605.0 461.5,603.6 461.7,604.3 461.9,604.1 462.1,604.9 462.3,601.5 462.5,604.9 462.7,602.6 462.9,604.3 463.1,603.1 463.3,605.2 463.5,603.0 463.7,606.3 463.9,602.3 464.1,604.1 464.3,603.6 464.5,605.1 464.7,603.4 464.9,604.5 465.1,602.6 465.3,605.4 465.5,603.5 465.7,604.0 465.9,602.8 466.1,605.3 466.3,603.5 466.5,605.2 466.7,603.2 466.9,604.4 467.1,604.2 467.3,603.6 467.5,604.0 467.7,605.0 467.9,603.3 468.1,604.5 468.3,603.4 468.5,604.6 468.7,602.0 468.9,604.9 469.1,604.2 469.3,605.0 469.5,603.9 469.7,604.2 469.9,603.0 470.1,605.0 470.3,603.8 470.5,605.2 470.7,602.8 470.9,605.1 471.1,604.2 471.3,604.3 471.5,603.2 471.7,604.6 471.9,602.6 472.1,604.7 472.3,603.6 472.5,604.7 472.7,603.4 472.9,606.1 473.1,603.3 473.3,604.8 473.5,603.7 473.7,604.5 473.9,602.2 474.1,604.6 474.3,603.7 474.5,604.8 474.7,603.2 474.9,604.3 475.1,601.6 475.3,604.1 475.5,603.5 475.7,604.5 475.9,603.7 476.1,605.5 476.3,604.1 476.5,605.3 476.7,603.2 476.9,604.4 477.1,601.4 477.3,604.6 477.5,603.9 477.7,605.1 477.9,603.1 478.1,605.4 478.3,602.7 478.5,603.8 478.7,602.7 478.9,605.4 479.1,600.9 479.3,605.1 479.5,603.7 479.7,606.4 479.9,603.3 480.1,607.7 480.3,603.6 480.5,605.3 480.7,604.1 480.9,606.0 481.1,603.9 481.3,607.1 481.5,600.6 481.7,604.7 481.9,601.8 482.1,604.4 482.3,603.1 482.5,605.9 482.7,602.0 482.9,605.1 483.1,600.1 483.3,606.0 483.5,602.0 483.7,605.3 483.9,602.2 484.1,606.7 484.3,602.6 484.5,604.9 484.7,602.4 484.9,604.1 485.1,603.4 485.3,604.2 485.5,603.5 485.7,604.0 485.9,603.1 486.1,605.1 486.3,603.8 486.5,605.2 486.7,603.0 486.9,604.1 487.1,603.4 487.3,605.0 487.5,604.0 487.7,604.5 487.9,603.3 488.1,605.4 488.3,601.2 488.5,604.8 488.7,603.3 488.9,603.9 489.1,603.3 489.3,606.3 489.5,603.7 489.7,606.5 489.9,602.2 490.1,604.6 490.3,603.3 490.5,604.6 490.7,601.8 490.9,605.2 491.1,603.3 491.3,604.4 491.5,603.1 491.7,604.7 491.9,603.6 492.1,605.6 492.3,603.4 492.5,606.9 492.7,603.7 492.9,606.2 493.1,603.2 493.3,604.0 493.5,602.5 493.7,605.3 493.9,602.3 494.1,580.0 494.3,601.7 494.5,606.4 494.7,603.9 494.9,604.8 495.1,603.1 495.3,604.2 495.5,603.7 495.7,604.9 495.9,602.7 496.1,604.6 496.3,602.5 496.5,606.1 496.7,618.0 496.9,605.3 497.1,603.9 497.3,604.1 497.5,603.9 497.7,605.1 497.9,601.9 498.1,604.0 498.3,604.0 498.5,604.8 498.7,603.3 498.9,606.6 499.1,603.9 499.3,604.4 499.5,602.9 499.7,604.2 499.9,603.3 500.1,604.5 500.3,603.5 500.5,604.7 500.7,603.1 500.9,605.8 501.1,602.0 501.3,605.5 501.5,602.8 501.7,606.6 501.9,603.3 502.1,606.5 502.3,603.9 502.5,605.3 502.7,601.5 502.9,605.0 503.1,603.6 503.3,606.9 503.5,601.8 503.7,605.3 503.9,602.0 504.1,604.6 504.3,603.8 504.5,605.6 504.7,603.0 504.9,604.1 505.1,602.9 505.3,606.0 505.5,602.9 505.7,606.3 505.9,603.0 506.1,603.4 506.3,602.5 506.5,640.0 506.7,603.3 506.9,604.9 507.1,603.9 507.3,604.6 507.5,603.7 507.7,605.1 507.9,602.0 508.1,605.0 508.3,601.2 508.5,605.8 508.7,602.5 508.9,604.3 509.1,603.7 509.3,607.0 509.5,603.1 509.7,604.5 509.9,601.8 510.1,603.7 510.2,602.5 510.4,603.6 510.6,604.0 510.8,605.4 511.0,604.0 511.2,604.7 511.4,602.6 511.6,604.9 511.8,602.9 512.0,603.9 512.2,603.7 512.4,604.4 512.6,603.1 512.8,604.2 513.0,602.7 513.2,605.0 513.4,603.5 513.6,605.0 513.8,601.6 514.0,604.7 514.2,603.7 514.4,604.8 514.6,601.1 514.8,604.9 515.0,603.2 515.2,604.8 515.4,603.5 515.6,604.6 515.8,604.0 516.0,604.5 516.2,603.1 516.4,605.1 516.6,603.0 516.8,605.1 517.0,601.8 517.2,606.4 517.4,603.7 517.6,606.5 517.8,603.0 518.0,604.9 518.2,601.9 518.4,603.7 518.6,602.5 518.8,606.6 519.0,604.1 519.2,605.5 519.4,603.6 519.6,604.9 519.8,602.7 520.0,604.4 520.2,602.8 520.4,604.7 520.6,603.3 520.8,606.1 521.0,603.1 521.2,606.5 521.4,603.8 521.6,603.9 521.8,603.6 522.0,604.9 522.2,601.2 522.4,605.8 522.6,602.4 522.8,604.6 523.0,603.7 523.2,604.7 523.4,603.6 523.6,605.4 523.8,603.7 524.0,604.4 524.2,604.2 524.4,603.5 524.6,603.8 524.8,605.2 525.0,602.8 525.2,605.1 525.4,602.8 525.6,603.3 525.8,604.0 526.0,605.0 526.2,603.0 526.4,604.8 526.6,602.1 526.8,604.5 527.0,604.0 527.2,604.3 527.4,604.0 527.6,605.6 527.8,603.2 528.0,604.5 528.2,603.5 528.4,605.3 528.6,604.8 528.8,604.5 529.0,603.1 529.2,604.3 529.4,603.4 529.6,604.0 529.8,602.8 530.0,604.3 530.2,604.1 530.4,604.2 530.6,602.4 530.8,603.7 531.0,604.0 531.2,604.9 531.4,604.0 531.6,604.3 531.8,602.8 532.0,605.5 532.2,604.2 532.4,604.1 532.6,603.4 532.8,605.1 533.0,603.9 533.2,604.0 533.4,603.2 533.6,603.8 533.8,603.8 534.0,604.3 534.2,603.3 534.4,605.1 534.6,602.2 534.8,605.9 535.0,602.3 535.2,605.2 535.4,603.3 535.6,605.0 535.8,602.4 536.0,604.3 536.2,603.7 536.4,604.8 536.6,604.0 536.8,604.7 537.0,603.1 537.2,604.2 537.4,603.6 537.6,604.7 537.8,603.8 538.0,604.8 538.2,602.9 538.4,604.4 538.6,603.5 538.8,605.4 539.0,604.0 539.2,604.7 539.4,602.8 539.6,605.4 539.8,602.8 540.0,603.5 540.2,603.2 540.4,605.1 540.6,602.2 540.8,606.0 541.0,602.7 541.2,605.8 541.4,603.4 541.6,604.3 541.8,603.7 542.0,604.4 542.2,603.1 542.4,604.6 542.6,604.0 542.8,604.6 543.0,603.9 543.2,604.1 543.4,602.6 543.6,604.6 543.8,603.5 544.0,603.9 544.2,603.4 544.4,604.5 544.6,604.3 544.8,605.9 545.0,602.9 545.2,604.7 545.4,603.9 545.6,604.8 545.8,604.0 546.0,604.8 546.2,604.0 546.4,604.5 546.6,603.5 546.8,604.6 547.0,603.5 547.2,604.2 547.4,603.4 547.6,604.5 547.8,603.8 548.0,604.2 548.2,602.8 548.4,604.6 548.6,603.9 548.8,604.8 549.0,602.8 549.2,604.1 549.4,603.3 549.6,603.9 549.8,603.8 550.0,604.0 550.2,602.5 550.4,603.5 550.6,604.3 550.8,604.5 551.0,603.1 551.2,604.1 551.4,603.6 551.6,605.0 551.8,603.8 552.0,604.2 552.2,604.2 552.4,605.7 552.6,602.8 552.8,604.6 553.0,603.6 553.2,605.5 553.4,602.5 553.6,604.3 553.8,603.0 554.0,603.8 554.2,603.1 554.4,604.1 554.6,602.6 554.8,604.8 555.0,602.3 555.2,604.6 555.4,603.6 555.6,604.4 555.8,604.1 556.0,604.5 556.2,601.9 556.4,605.7 556.6,602.1 556.8,606.2 557.0,603.0 557.2,604.4 557.4,603.2 557.6,605.0 557.8,603.8 558.0,603.8 558.2,603.6 558.4,604.2 558.6,603.3 558.8,604.8 559.0,603.2 559.2,604.6 559.4,603.0 559.6,605.0 559.8,603.6 560.0,604.2 560.2,602.3 560.4,605.7 560.6,603.3 560.8,605.4 561.0,603.1 561.2,604.3 561.4,603.2 561.6,604.8 561.8,602.9 562.0,604.7 562.2,603.9 562.4,605.1 562.6,603.1 562.8,603.9 563.0,603.5 563.2,604.3 563.4,603.3 563.6,603.9 563.8,603.9 564.0,604.4 564.2,603.1 564.4,604.5 564.6,603.8 564.8,604.8 565.0,603.7 565.2,605.3 565.4,602.4 565.6,606.1 565.8,603.7 566.0,604.5 566.2,602.6 566.4,604.6 566.6,603.7 566.8,604.0 567.0,602.9 567.2,605.8 567.4,602.7 567.6,604.5 567.8,604.0 568.0,604.4 568.2,603.5 568.4,604.7 568.6,602.9 568.8,604.0 569.0,603.1 569.2,604.6 569.3,604.1 569.5,604.2 569.7,604.0 569.9,604.1 570.1,603.2 570.3,604.7 570.5,601.6 570.7,604.8 570.9,604.3 571.1,605.2 571.3,604.5 571.5,605.3 571.7,602.5 571.9,604.1 572.1,603.5 572.3,605.5 572.5,602.9 572.7,604.5 572.9,603.6 573.1,604.6 573.3,602.4 573.5,604.9 573.7,603.8 573.9,604.5 574.1,603.3 574.3,604.9 574.5,603.5 574.7,605.0 574.9,603.2 575.1,604.1 575.3,603.4 575.5,603.8 575.7,604.4 575.9,604.8 576.1,603.9 576.3,605.2 576.5,603.6 576.7,604.6 576.9,602.8 577.1,604.1 577.3,603.9 577.5,604.2 577.7,603.8 577.9,605.1 578.1,603.3 578.3,604.9 578.5,603.5 578.7,605.9 578.9,602.1 579.1,606.5 579.3,602.0 579.5,605.2 579.7,603.5 579.9,604.2 580.1,604.1 580.3,604.5 580.5,603.0 580.7,605.6 580.9,603.3 581.1,604.6 581.3,602.5 581.5,603.9 581.7,603.6 581.9,604.2 582.1,602.3 582.3,605.1 582.5,602.5 582.7,605.0 582.9,603.6 583.1,605.6 583.3,603.8 583.5,603.9 583.7,603.8 583.9,604.9 584.1,603.0 584.3,604.4 584.5,603.6 584.7,604.1 584.9,603.9 585.1,604.3 585.3,602.9 585.5,604.4 585.7,603.4 585.9,604.4 586.1,604.4 586.3,604.5 586.5,603.2 586.7,605.2 586.9,603.9 587.1,604.0 587.3,602.7 587.5,604.6 587.7,604.2 587.9,604.6 588.1,603.2 588.3,605.0 588.5,602.8 588.7,604.7 588.9,603.1 589.1,604.6 589.3,603.1 589.5,604.1 589.7,602.1 589.9,605.5 590.1,603.1 590.3,603.8 590.5,603.3 590.7,605.8 590.9,603.9 591.1,606.0 591.3,604.0 591.5,604.3 591.7,603.4 591.9,605.2 592.1,602.1 592.3,604.2 592.5,603.0 592.7,604.6 592.9,603.9 593.1,604.9 593.3,603.7 593.5,605.8 593.7,603.9 593.9,604.7 594.1,603.2 594.3,605.3 594.5,602.8 594.7,604.4 594.9,603.2 595.1,603.7 595.3,603.5 595.5,604.1 595.7,602.5 595.9,604.2 596.1,604.2 596.3,604.7 596.5,604.1 596.7,604.3 596.9,603.4 597.1,603.8 597.3,603.7 597.5,604.8 597.7,603.9 597.9,604.3 598.1,604.1 598.3,605.3 598.5,603.0 598.7,604.4 598.9,603.5 599.1,604.2 599.3,603.4 599.5,604.2 599.7,603.6 599.9,604.4 600.1,603.6 600.3,604.3 600.5,603.5 600.7,605.1 600.9,604.4 601.1,604.7 601.3,603.2 601.5,605.0 601.7,603.1 601.9,604.0 602.1,602.5 602.3,604.2 602.5,603.0 602.7,604.3 602.9,604.0 603.1,604.2 603.3,603.7 603.5,604.7 603.7,603.8 603.9,604.4 604.1,604.0 604.3,605.0 604.5,603.4 604.7,604.1 604.9,602.8 605.1,604.2 605.3,603.7 605.5,605.2 605.7,603.6 605.9,605.8 606.1,602.6 606.3,605.3 606.5,601.8 606.7,605.7 606.9,601.7 607.1,605.8 607.3,602.8 607.5,605.2 607.7,603.0 607.9,604.3 608.1,603.5 608.3,604.0 608.5,603.7 608.7,605.1 608.9,603.1 609.1,604.6 609.3,602.5 609.5,604.2 609.7,603.5 609.9,605.5 610.1,603.9 610.3,604.6 610.5,602.2 610.7,605.9 610.9,603.1 611.1,605.6 611.3,601.7 611.5,604.3 611.7,602.7 611.9,604.5 612.1,603.9 612.3,605.5 612.5,602.6 612.7,605.7 612.9,602.3 613.1,604.0 613.3,603.3 613.5,603.8 613.7,602.8 613.9,605.7 614.1,603.4 614.3,604.1 614.5,603.3 614.7,604.0 614.9,603.7 615.1,604.2 615.3,602.5 615.5,604.2 615.7,603.8 615.9,605.5 616.1,601.9 616.3,604.5 616.5,603.4 616.7,605.9 616.9,602.1 617.1,604.2 617.3,603.6 617.5,605.0 617.7,603.7 617.9,603.5 618.1,604.3 618.3,604.2 618.5,603.1 618.7,604.5 618.9,604.2 619.1,605.3 619.3,603.6 619.5,604.1 619.7,604.3 619.9,604.7 620.1,602.5 620.3,604.3 620.5,604.1 620.7,605.9 620.9,602.3 621.1,605.9 621.3,604.3 621.5,605.3 621.7,603.7 621.9,605.9 622.1,603.9 622.3,604.4 622.5,603.5 622.7,604.2 622.9,602.2 623.1,605.4 623.3,603.5 623.5,605.8 623.7,604.2 623.9,604.8 624.1,602.5 624.3,604.3 624.5,603.3 624.7,604.5 624.9,603.9 625.1,605.4 625.3,603.5 625.5,604.3 625.7,603.1 625.9,603.6 626.1,603.4 626.3,604.6 626.5,603.5 626.7,604.4 626.9,603.8 627.1,604.0 627.3,603.9 627.5,604.1 627.7,603.8 627.9,605.1 628.1,603.6 628.3,604.8 628.4,603.2 628.6,604.8 628.8,604.1 629.0,604.2 629.2,603.8 629.4,604.1 629.6,604.0 629.8,604.5 630.0,604.0 630.2,603.6 630.4,603.8 630.6,604.3 630.8,603.5 631.0,604.5 631.2,603.5 631.4,604.4 631.6,603.2 631.8,604.7 632.0,603.5 632.2,604.7 632.4,603.8 632.6,604.5 632.8,604.1 633.0,604.8 633.2,604.0 633.4,604.2 633.6,603.7 633.8,604.2 634.0,603.4 634.2,604.3 634.4,602.6 634.6,604.1 634.8,604.1 635.0,604.7 635.2,603.4 635.4,604.6 635.6,602.2 635.8,604.0 636.0,604.0 636.2,606.0 636.4,603.1 636.6,605.5 636.8,604.2 637.0,604.5 637.2,603.2 637.4,605.1 637.6,603.5 637.8,604.8 638.0,602.5 638.2,604.2 638.4,602.1 638.6,604.7 638.8,603.7 639.0,604.8 639.2,602.2 639.4,604.5 639.6,601.7 639.8,605.5 640.0,603.8 640.2,604.3 640.4,603.1 640.6,604.3 640.8,603.6 641.0,604.4 641.2,604.0 641.4,604.2 641.6,604.0 641.8,603.9 642.0,603.6 642.2,604.4 642.4,603.8 642.6,604.4 642.8,602.9 643.0,605.4 643.2,603.2 643.4,605.8 643.6,602.7 643.8,604.6 644.0,603.9 644.2,605.0 644.4,602.8 644.6,605.0 644.8,602.8 645.0,605.1 645.2,604.0 645.4,604.7 645.6,603.3 645.8,605.2 646.0,603.3 646.2,604.0 646.4,603.6 646.6,604.7 646.8,603.0 647.0,604.8 647.2,603.4 647.4,604.7 647.6,603.0 647.8,604.5 648.0,603.4 648.2,604.9 648.4,602.9 648.6,605.4 648.8,603.5 649.0,604.8 649.2,603.0 649.4,604.2 649.6,601.9 649.8,603.8 650.0,602.9 650.2,604.9 650.4,603.9 650.6,604.7 650.8,602.9 651.0,604.7 651.2,603.2 651.4,604.3 651.6,603.9 651.8,604.4 652.0,603.0 652.2,603.6 652.4,603.9 652.6,605.1 652.8,602.2 653.0,604.8 653.2,603.9 653.4,604.2 653.6,603.9 653.8,604.0 654.0,603.1 654.2,605.4 654.4,602.9 654.6,605.0 654.8,604.2 655.0,604.7 655.2,603.3 655.4,604.2 655.6,603.7 655.8,604.5 656.0,603.6 656.2,603.8 656.4,603.5 656.6,604.5 656.8,603.1 657.0,604.8 657.2,602.1 657.4,605.5 657.6,603.1 657.8,605.5 658.0,602.9" fill="none" stroke="#0000ff" stroke-width="0.45" stroke-linejoin="round"/>
<text class="t" x="180.6" y="540.4" text-anchor="end">5</text>
<text class="t" x="180.6" y="612.9" text-anchor="end">0</text>
<text class="t" x="180.6" y="685.4" text-anchor="end">-5</text>
<text class="t" x="184.7" y="702.9" text-anchor="middle">00:00</text>
<text class="t" x="303.2" y="702.9" text-anchor="middle">06:00</text>
<text class="t" x="421.7" y="702.9" text-anchor="middle">12:00</text>
<text class="t" x="540.2" y="702.9" text-anchor="middle">18:00</text>
<text class="t" x="658.7" y="702.9" text-anchor="middle">24:00</text>
<text class="b t" transform="translate(151.2,604.6) rotate(-90)" text-anchor="middle">Z (nT)</text>
<g clip-path="url(#c2)"><g filter="url(#jet)" class="m">
<rect x="788.7" y="511.2" width="515.1" height="181.5" fill="#000"/>
<g transform="translate(808.7,531.2)">
<defs><linearGradient id="f2_0" gradientUnits="userSpaceOnUse" x1="0" y1="142.0" x2="0" y2="50.0"><stop offset="0" stop-color="#0e0e0e"/><stop offset="0.240" stop-color="#8f8f8f"/><stop offset="0.550" stop-color="#8f8f8f"/><stop offset="1" stop-color="#262626"/></linearGradient><linearGradient id="f2_2" gradientUnits="userSpaceOnUse" x1="0" y1="135.0" x2="0" y2="75.0"><stop offset="0" stop-color="#070707"/><stop offset="0.240" stop-color="#454545"/><stop offset="0.550" stop-color="#454545"/><stop offset="1" stop-color="#1a1a1a"/></linearGradient><linearGradient id="f2_3" gradientUnits="userSpaceOnUse" x1="0" y1="142.0" x2="0" y2="40.0"><stop offset="0" stop-color="#0c0c0c"/><stop offset="0.240" stop-color="#787878"/><stop offset="0.550" stop-color="#787878"/><stop offset="1" stop-color="#333333"/></linearGradient><linearGradient id="f2_6" gradientUnits="userSpaceOnUse" x1="0" y1="146.0" x2="0" y2="10.0"><stop offset="0" stop-color="#131313"/><stop offset="0.180" stop-color="#bfbfbf"/><stop offset="0.475" stop-color="#bfbfbf"/><stop offset="1" stop-color="#666666"/></linearGradient><linearGradient id="f2_9" gradientUnits="userSpaceOnUse" x1="0" y1="152.0" x2="0" y2="80.0"><stop offset="0" stop-color="#141414"/><stop offset="0.270" stop-color="#c9c9c9"/><stop offset="0.588" stop-color="#c9c9c9"/><stop offset="1" stop-color="#8c8c8c"/></linearGradient><linearGradient id="f2_10" gradientUnits="userSpaceOnUse" x1="0" y1="142.0" x2="0" y2="35.0"><stop offset="0" stop-color="#101010"/><stop offset="0.240" stop-color="#a3a3a3"/><stop offset="0.550" stop-color="#a3a3a3"/><stop offset="1" stop-color="#4c4c4c"/></linearGradient><linearGradient id="f2_16" gradientUnits="userSpaceOnUse" x1="0" y1="154.0" x2="0" y2="85.0"><stop offset="0" stop-color="#151515"/><stop offset="0.300" stop-color="#d1d1d1"/><stop offset="0.625" stop-color="#d1d1d1"/><stop offset="1" stop-color="#808080"/></linearGradient><linearGradient id="f2_17" gradientUnits="userSpaceOnUse" x1="0" y1="142.0" x2="0" y2="50.0"><stop offset="0" stop-color="#0d0d0d"/><stop offset="0.240" stop-color="#808080"/><stop offset="0.550" stop-color="#808080"/><stop offset="1" stop-color="#333333"/></linearGradient><linearGradient id="f2_18" gradientUnits="userSpaceOnUse" x1="0" y1="114.0" x2="0" y2="30.0"><stop offset="0" stop-color="#0d0d0d"/><stop offset="0.240" stop-color="#858585"/><stop offset="0.550" stop-color="#858585"/><stop offset="1" stop-color="#333333"/></linearGradient><linearGradient id="f2_23" gradientUnits="userSpaceOnUse" x1="0" y1="152.0" x2="0" y2="55.0"><stop offset="0" stop-color="#181818"/><stop offset="0.180" stop-color="#f2f2f2"/><stop offset="0.475" stop-color="#f2f2f2"/><stop offset="1" stop-color="#cccccc"/></linearGradient><linearGradient id="f2_27" gradientUnits="userSpaceOnUse" x1="0" y1="150.0" x2="0" y2="80.0"><stop offset="0" stop-color="#0f0f0f"/><stop offset="0.240" stop-color="#999999"/><stop offset="0.550" stop-color="#999999"/><stop offset="1" stop-color="#666666"/></linearGradient><linearGradient id="f2_28" gradientUnits="userSpaceOnUse" x1="0" y1="125.0" x2="0" y2="70.0"><stop offset="0" stop-color="#060606"/><stop offset="0.240" stop-color="#383838"/><stop offset="0.550" stop-color="#383838"/><stop offset="1" stop-color="#1a1a1a"/></linearGradient><linearGradient id="f2_31" gradientUnits="userSpaceOnUse" x1="0" y1="152.0" x2="0" y2="30.0"><stop offset="0" stop-color="#111111"/><stop offset="0.150" stop-color="#a8a8a8"/><stop offset="0.438" stop-color="#a8a8a8"/><stop offset="1" stop-color="#4c4c4c"/></linearGradient><linearGradient id="f2_33" gradientUnits="userSpaceOnUse" x1="0" y1="138.0" x2="0" y2="70.0"><stop offset="0" stop-color="#070707"/><stop offset="0.240" stop-color="#424242"/><stop offset="0.550" stop-color="#424242"/><stop offset="1" stop-color="#1a1a1a"/></linearGradient></defs>
<g filter="url(#bl)"><path d="M22.0,50.0C22.0,77.6 26.6,82.0 26.6,105.2C26.4,127.3 24.4,142.0 21.0,142.0C17.6,142.0 16.0,127.3 16.2,105.2C16.2,82.0 21.4,77.6 22.0,50.0Z" fill="url(#f2_0)"/><path d="M31.9,75.0C32.1,93.0 34.9,95.9 34.9,111.0C34.9,125.4 33.9,135.0 31.9,135.0C29.9,135.0 28.9,125.4 28.9,111.0C28.9,95.9 31.7,93.0 31.9,75.0Z" fill="url(#f2_2)"/><path d="M41.8,40.0C42.1,70.6 45.9,75.5 45.9,101.2C46.0,125.7 44.6,142.0 42.0,142.0C39.4,142.0 38.0,125.7 37.9,101.2C37.9,75.5 41.6,70.6 41.8,40.0Z" fill="url(#f2_3)"/><path d="M70.4,10.0C70.8,57.6 74.8,65.2 74.8,105.2C74.9,129.7 73.6,146.0 71.0,146.0C68.4,146.0 66.9,129.7 66.8,105.2C66.8,65.2 70.3,57.6 70.4,10.0Z" fill="url(#f2_6)"/><path d="M81.0,80.0C81.3,99.8 87.2,103.0 87.2,119.6C87.1,139.0 84.7,152.0 80.5,152.0C76.3,152.0 74.1,139.0 74.2,119.6C74.2,103.0 80.5,99.8 81.0,80.0Z" fill="url(#f2_9)"/><path d="M88.5,35.0C89.0,67.1 93.6,72.2 93.6,99.2C93.8,124.9 92.4,142.0 89.5,142.0C86.6,142.0 84.8,124.9 84.6,99.2C84.6,72.2 88.5,67.1 88.5,35.0Z" fill="url(#f2_10)"/><path d="M108.5,85.0C109.0,102.2 116.0,105.0 116.0,119.5C116.0,140.2 113.4,154.0 108.5,154.0C103.6,154.0 101.0,140.2 101.0,119.5C101.0,105.0 108.0,102.2 108.5,85.0Z" fill="url(#f2_16)"/><path d="M124.3,50.0C124.5,77.6 128.3,82.0 128.3,105.2C128.3,127.3 126.7,142.0 124.0,142.0C121.3,142.0 119.9,127.3 119.9,105.2C119.9,82.0 124.0,77.6 124.3,50.0Z" fill="url(#f2_17)"/><path d="M131.7,30.0C131.9,55.2 135.7,59.2 135.7,80.4C135.7,100.6 134.3,114.0 131.7,114.0C129.1,114.0 127.7,100.6 127.7,80.4C127.7,59.2 131.5,55.2 131.7,30.0Z" fill="url(#f2_18)"/><path d="M149.5,55.0C150.6,89.0 156.4,94.4 156.4,122.9C156.8,140.4 155.4,152.0 152.0,152.0C148.6,152.0 146.4,140.4 146.1,122.9C146.1,94.4 150.0,89.0 149.5,55.0Z" fill="url(#f2_23)"/><path d="M172.5,80.0C172.8,101.0 177.0,104.4 177.0,122.0C177.0,138.8 175.4,150.0 172.5,150.0C169.6,150.0 168.0,138.8 168.0,122.0C168.0,104.4 172.2,101.0 172.5,80.0Z" fill="url(#f2_27)"/><path d="M177.0,70.0C177.2,86.5 179.6,89.1 179.6,103.0C179.6,116.2 178.7,125.0 177.0,125.0C175.3,125.0 174.4,116.2 174.4,103.0C174.4,89.1 176.8,86.5 177.0,70.0Z" fill="url(#f2_28)"/><path d="M236.5,30.0C234.5,75.8 237.1,83.1 237.1,121.5C236.2,139.8 233.3,152.0 229.5,152.0C225.7,152.0 224.6,139.8 225.4,121.5C225.4,83.1 233.8,75.8 236.5,30.0Z" fill="url(#f2_31)"/><path d="M249.2,70.0C249.4,90.4 252.4,93.7 252.4,110.8C252.4,127.1 251.3,138.0 249.2,138.0C247.1,138.0 246.0,127.1 246.0,110.8C246.0,93.7 249.0,90.4 249.2,70.0Z" fill="url(#f2_33)"/></g>
<ellipse cx="22.5" cy="42.5" rx="2.0" ry="37.4" fill="url(#p15)" transform="rotate(180.0 22.5 42.5)"/>
<ellipse cx="58.8" cy="99.0" rx="5.9" ry="36.0" fill="url(#p45)" transform="rotate(172.2 58.8 99.0)"/>
<ellipse cx="62.5" cy="77.5" rx="2.3" ry="25.9" fill="url(#p25)" transform="rotate(180.0 62.5 77.5)"/>
<ellipse cx="76.7" cy="70.0" rx="3.4" ry="34.5" fill="url(#p50)" transform="rotate(179.3 76.7 70.0)"/>
<ellipse cx="81.2" cy="62.5" rx="3.4" ry="37.4" fill="url(#p60)" transform="rotate(179.4 81.2 62.5)"/>
<ellipse cx="86.8" cy="40.0" rx="2.1" ry="34.5" fill="url(#p20)" transform="rotate(179.5 86.8 40.0)"/>
<ellipse cx="94.2" cy="61.0" rx="2.9" ry="33.4" fill="url(#p40)" transform="rotate(179.5 94.2 61.0)"/>
<ellipse cx="93.5" cy="125.0" rx="4.0" ry="12.0" fill="url(#p40)"/>
<ellipse cx="102.8" cy="56.5" rx="3.6" ry="59.2" fill="url(#p60)" transform="rotate(178.6 102.8 56.5)"/>
<ellipse cx="111.8" cy="55.0" rx="3.4" ry="63.3" fill="url(#p50)" transform="rotate(177.1 111.8 55.0)"/>
<ellipse cx="137.0" cy="114.0" rx="4.2" ry="16.7" fill="url(#p40)" transform="rotate(164.1 137.0 114.0)"/>
<ellipse cx="141.5" cy="32.5" rx="3.4" ry="31.7" fill="url(#p55)" transform="rotate(176.9 141.5 32.5)"/>
<ellipse cx="141.8" cy="77.5" rx="3.9" ry="31.7" fill="url(#p60)" transform="rotate(-176.4 141.8 77.5)"/>
<ellipse cx="148.9" cy="30.0" rx="3.0" ry="63.3" fill="url(#p85)" transform="rotate(-0.1 148.9 30.0)"/>
<ellipse cx="159.5" cy="92.0" rx="4.5" ry="20.0" fill="url(#p40)"/>
<ellipse cx="164.5" cy="30.0" rx="2.0" ry="17.2" fill="url(#p15)"/>
<ellipse cx="171.8" cy="72.5" rx="3.4" ry="37.4" fill="url(#p40)" transform="rotate(177.8 171.8 72.5)"/>
<ellipse cx="183.0" cy="81.0" rx="2.1" ry="21.8" fill="url(#p15)"/>
<ellipse cx="200.7" cy="106.0" rx="2.0" ry="16.1" fill="url(#p15)"/>
<ellipse cx="229.2" cy="46.0" rx="2.1" ry="27.6" fill="url(#p20)" transform="rotate(179.4 229.2 46.0)"/>
<ellipse cx="241.3" cy="54.0" rx="2.0" ry="29.9" fill="url(#p10)" transform="rotate(180.0 241.3 54.0)"/>
<ellipse cx="293.2" cy="22.5" rx="2.0" ry="37.4" fill="url(#p15)"/>
<ellipse cx="305.3" cy="6.0" rx="2.0" ry="18.4" fill="url(#p15)"/>
<ellipse cx="316.4" cy="40.0" rx="1.8" ry="57.5" fill="url(#p15)"/>
<ellipse cx="321.0" cy="110.0" rx="1.8" ry="14.0" fill="url(#p15)"/>
<ellipse cx="447.0" cy="111.0" rx="1.6" ry="10.0" fill="url(#p15)"/>
</g></g></g>
<path d="M808.7,531.7h5M1283.8,531.7h-5M808.7,548.6h5M1283.8,548.6h-5M808.7,569.2h5M1283.8,569.2h-5M808.7,594.4h5M1283.8,594.4h-5M808.7,626.9h5M1283.8,626.9h-5M808.7,672.2h5M1283.8,672.2h-5M927.5,672.7v-5M927.5,531.2v5M1046.2,672.7v-5M1046.2,531.2v5M1165.0,672.7v-5M1165.0,531.2v5" stroke="#00003c" stroke-width="1" fill="none" opacity="0.8"/>
<text class="t" x="804.8" y="541.3" text-anchor="end">7</text>
<text class="t" x="804.8" y="558.4" text-anchor="end">6</text>
<text class="t" x="804.8" y="578.6" text-anchor="end">5</text>
<text class="t" x="804.8" y="603.3" text-anchor="end">4</text>
<text class="t" x="804.8" y="635.1" text-anchor="end">3</text>
<text class="t" x="804.8" y="680.1" text-anchor="end">2</text>
<text class="t" x="808.9" y="699.1" text-anchor="middle">00:00</text>
<text class="t" x="927.7" y="699.1" text-anchor="middle">06:00</text>
<text class="t" x="1046.5" y="699.1" text-anchor="middle">12:00</text>
<text class="t" x="1165.2" y="699.1" text-anchor="middle">18:00</text>
<text class="t" x="1284.0" y="699.1" text-anchor="middle">00:00</text>
<text class="b t" transform="translate(782.6,602.7) rotate(-90)" text-anchor="middle">freq (mHz)</text>
<rect x="1302.2" y="531.4" width="25.6" height="142.3" fill="url(#cb)"/>
<path d="M1302.2,555.1h3M1327.8,555.1h-3" stroke="#400" stroke-width="1" opacity="0.7"/>
<text class="t" x="1331" y="564.1">5</text>
<text class="t" x="1331" y="681.9">0</text>
<text class="b t" transform="translate(1364.6,662.6) rotate(-90)">log<tspan class="s" dy="10">2</tspan><tspan dy="-10" dx="0.8">(nT</tspan><tspan class="s" dy="-11.4">2</tspan><tspan dy="11.4" dx="0.8">/Hz)</tspan></text>
<text class="b t" x="421" y="727.6" text-anchor="middle">UT (hours)</text>
<text class="b t" x="1046.4" y="723.8" text-anchor="middle">UT (hours)</text>
</svg></body></html>
